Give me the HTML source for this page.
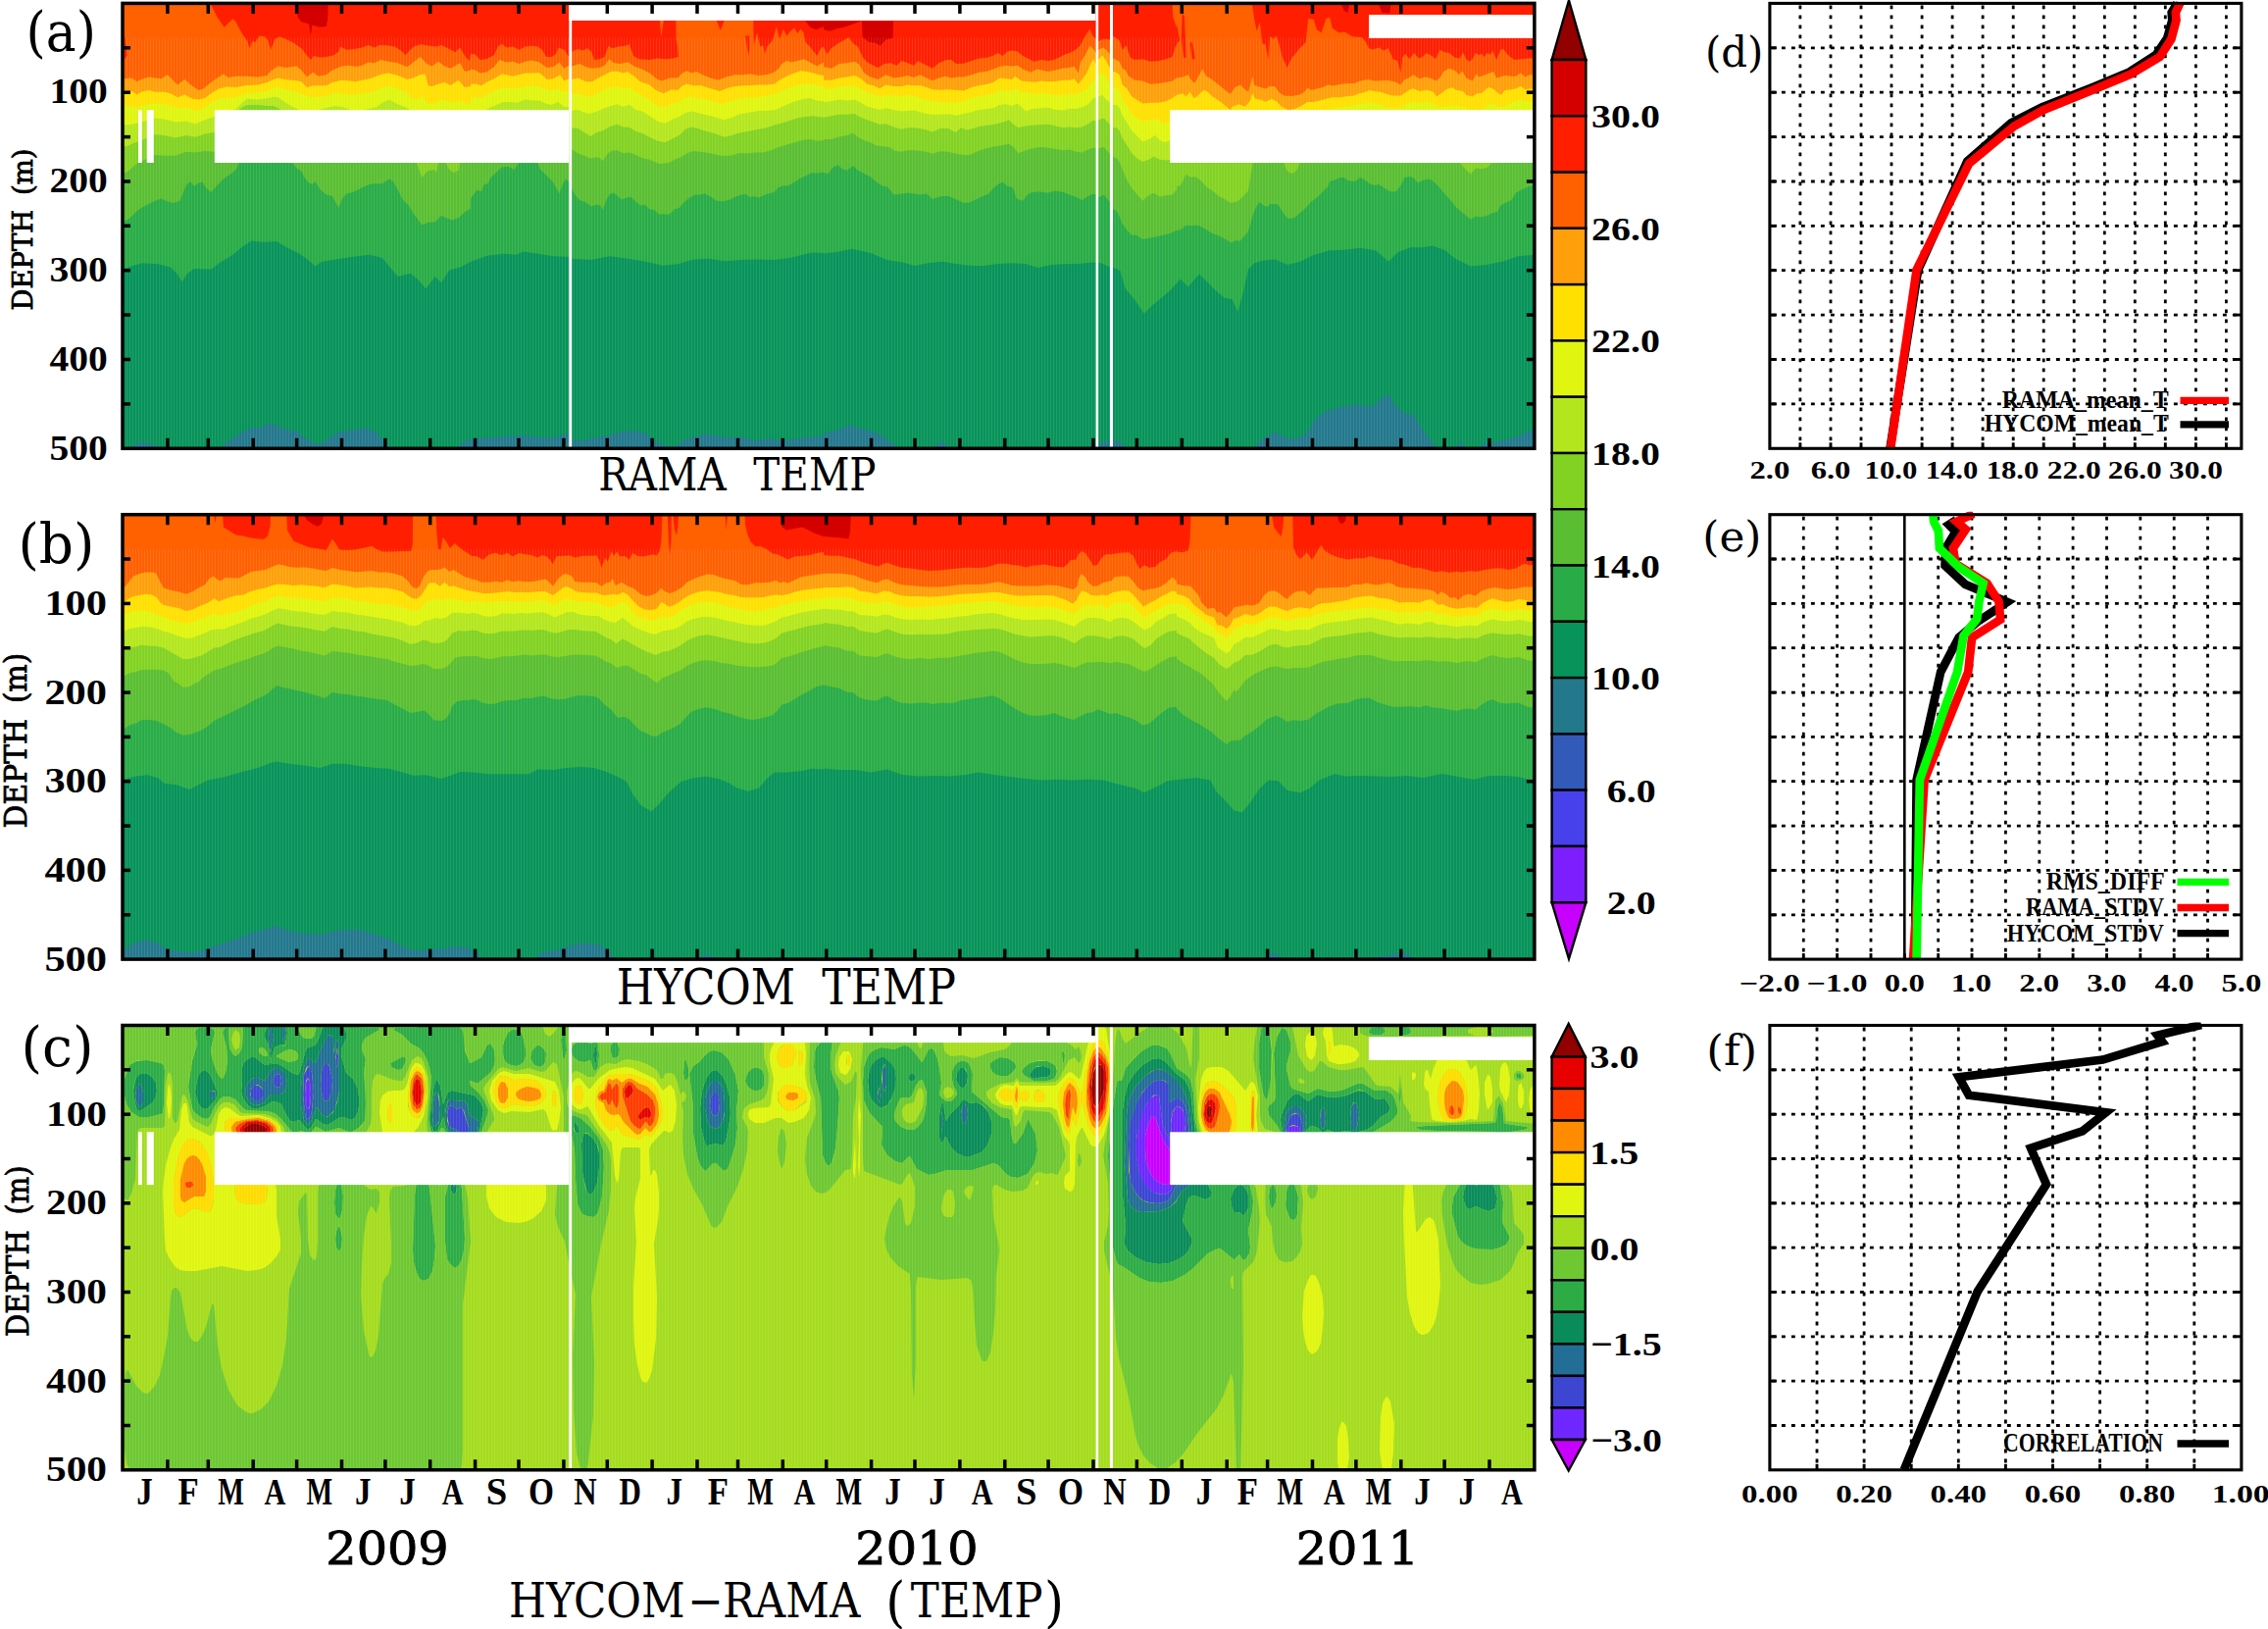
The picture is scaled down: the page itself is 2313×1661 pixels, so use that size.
<!DOCTYPE html>
<html><head><meta charset="utf-8"><title>HYCOM vs RAMA temperature</title>
<style>html,body{margin:0;padding:0;background:#fff;width:2313px;height:1661px}svg{display:block}text{fill:#000}.b{font-family:"Liberation Serif","DejaVu Serif",serif;font-weight:bold}.r{font-family:"DejaVu Serif","Liberation Serif",serif;font-weight:normal}</style></head><body>
<svg width="2313" height="1661" viewBox="0 0 2313 1661">
<rect width="100%" height="100%" fill="#fff"/>
<defs><pattern id="stp" patternUnits="userSpaceOnUse" x="125" y="0" width="3" height="50"><rect x="1" y="0" width="1" height="50" fill="#fff" fill-opacity="0.1"/></pattern></defs>
<g id="panel0">
<clipPath id="cp0"><rect x="125" y="3.4" width="1439.9" height="453.9"/></clipPath>
<g clip-path="url(#cp0)">
<rect x="125" y="3.4" width="1439.9" height="453.9" fill="#ff1e00"/>
<path d="M120 462.3L120 4.8L127.1 4.8L215.2 4.8L221.6 17.5L228.7 27.8L237.5 19L240.6 22.2L245.4 31.7L251.7 41.3L254.9 49.2L257.3 42.1L260.5 42.9L264.4 36.5L270 37.3L273.2 41.3L276.3 50.8L280.3 39.7L285.1 37.3L291.4 39.7L299.4 43.7L307.3 49.2L312.1 55.6L316.8 61.1L320 57.1L326.3 58.4L332.7 57.9L340.6 56.3L345.4 52.4L347 47.6L353.3 50.8L361.3 50L369.2 48.4L375.6 46L381.9 48.4L386.7 46L394.6 46.3L402.5 47.6L408.9 51.6L413.7 56.3L418.4 50.8L423.2 46.8L429.5 45.2L437.5 46.8L445.4 47.6L450.2 46L458.1 50L464.4 53.2L469.2 48.4L474 57.1L478.7 61.9L480 54.8L484.8 55.6L489.5 61.1L495.9 60.3L503.8 56.3L507.8 47.6L511.7 44.4L516.5 48.4L522.9 47.6L529.2 50.8L535.6 47.6L541.9 46.8L548.3 47.6L553 50.8L557 57.9L562.5 57.9L566.5 55.6L569.7 48.4L575.2 50.8L580.3 57.9L583.2 52.4L589.5 50L594.3 51.6L599 49.2L603 52.4L606.2 61.1L611.7 60.3L616.5 57.9L620.5 46.8L624.4 49.2L630.8 47.6L637.1 46.8L641.9 45.2L645.9 57.1L651.4 60.3L662.5 61.1L670.5 59.5L680 60.3L686.3 59.5L691.9 57.9L691.1 47.6L689.5 39.7L689.2 4.8L768.1 4.8L768.6 46L772.1 33.3L775.2 47.6L778.4 46L780 55.6L782.4 47.6L787.9 41.3L791.9 27L795.1 39.7L799 29.4L802.2 36.5L807 31L810.2 28.6L813.3 34.1L816.5 29.4L819.7 33.3L821.3 42.9L826 47.6L833.2 57.1L837.1 49.2L840 47.6L840 47.6L843.2 55.6L847.9 49.2L854.3 44.4L860.6 41.3L865.4 38.1L870.2 44.4L874.9 47.6L879.7 57.9L884.4 63.5L889.2 65.9L895.6 69L901.9 65.1L908.3 64.3L914.6 66.7L919.4 61.9L925.7 64.3L932.1 66.7L936 61.9L941.6 65.1L951.1 69.8L957.5 64.3L965.4 61.1L970.2 61.1L974.9 65.1L982.9 64.8L990.8 61.9L998.7 59.5L1006.7 58.7L1013 56.8L1017.8 54L1022.5 57.1L1027.3 52.4L1032.1 51.6L1037.6 52.4L1043.2 57.1L1051.1 61.1L1054.3 62.7L1062.2 61.1L1068.6 61.9L1074.9 61.1L1081.3 57.9L1086 55.6L1090.8 54L1097.1 50.8L1101.9 46L1106.7 36.5L1111.4 29.4L1114.6 36.5L1117.5 39.7L1120.2 42.1L1125.7 39.7L1132.1 40.5L1134.9 36.5L1138.4 38.9L1141.6 41.3L1144.8 50.8L1148.7 46L1152.7 58.7L1157.5 61.1L1165.4 60.3L1173.3 62.7L1181.3 61.9L1189.2 60.3L1195.6 57.9L1198.7 47.6L1200 46L1200 4.8L1277 4.8L1279.4 20.6L1281.7 31.7L1284.9 22.2L1287.3 44.4L1290.5 45.2L1293.7 61.1L1295.2 36.5L1298.4 39.7L1301.6 36.5L1304.8 46L1307.9 58.7L1312.7 69L1317.5 58.7L1320.6 55.6L1325.4 49.2L1331.7 42.9L1334.1 19L1339.7 19.8L1342.9 30.2L1347.6 33.3L1352.4 19L1356.3 17.5L1358.7 28.6L1365.1 33.3L1371.4 32.5L1379.4 37.3L1388.9 38.1L1392.9 42.9L1396 49.2L1400 50.5L1406.3 48.4L1411.1 51.6L1415.9 49.2L1420.6 60.3L1425.4 61.9L1428.6 74.6L1430.2 58.7L1433.3 54.8L1437.3 60.3L1442.1 54L1446.8 59.5L1450.8 57.9L1454.8 54L1460.3 57.1L1464.3 60.3L1468.3 50.8L1473 53.2L1477.8 54L1484.1 58.7L1488.9 59.5L1492.1 53.2L1495.2 60.3L1498.4 62.7L1501.6 60.3L1504.8 54L1508.7 56.3L1511.1 54.8L1513.5 57.9L1516.7 54L1519.8 55.6L1522.2 51.6L1526.2 61.1L1530.2 50.8L1533.3 50L1538.1 56.3L1544.4 61.1L1550.8 60.3L1560 59.5L1565.1 59.5L1569.9 59.5L1569.9 462.3Z" fill="#ff6000"/>
<path d="M120 462.3L120 80.2L127.1 80.2L134.3 79.4L139.8 83.3L143.8 81L151.7 78.6L158.1 79.4L164.4 80.2L170.8 76.2L175.6 81L181.1 86.5L188.3 81L194.6 86.5L202.5 92.1L207.3 90.5L215.2 84.1L221.6 79.4L227.9 75.4L232.7 78.9L240.6 77.8L251.7 77.8L262.9 78.6L272.4 77L276.3 72.2L283.5 67.5L291.4 69L302.5 67.5L307.3 71.4L312.9 78.6L319.2 73.8L324.8 77.8L332.7 76.2L339 71.4L348.6 67.5L356.5 66.7L362.9 67.9L369.2 66.7L375.6 63.5L381.9 64.3L388.3 61.1L396.2 62.7L405.7 64.3L415.2 68.3L421.6 63.5L428.7 57.9L435.1 65.1L440.6 67.5L447 62.7L453.3 67.5L459.7 69.8L469.2 64.3L474 73L480 71.4L480 70.6L484.8 71.4L489.5 74.6L495.9 73.8L503.8 68.3L509.4 61.1L516.5 63.5L522.9 62.7L529.2 65.1L535.6 62.7L541.9 61.6L549.8 63.2L554.6 66.7L557.8 69L564.1 68.3L570.5 63.5L575.2 69.8L580.3 66.7L583.2 67.5L591.1 65.1L597.5 68.3L603.8 69.8L611.7 69L616.5 66.7L621.3 60.3L626 64.3L632.4 65.1L640.3 63.2L646.7 67.5L654.6 70.6L662.5 74.6L670.5 81L675.2 82.5L683.2 79.4L691.1 79.4L695.9 74.6L700.6 72.2L705.4 74.6L710.2 73L716.5 76.2L724.4 79.4L732.4 81.7L740.3 78.6L749.8 76.2L757.8 76.2L765.7 75.4L773.7 77L781.6 76.2L789.5 73.8L794.3 69.8L797.5 65.1L802.2 61.9L807 63.5L813.3 61.9L819.7 60.3L826 63.5L833.2 67.5L840 63.5L840 68.3L847.9 69.8L855.9 65.1L863.8 64.3L871.7 62.7L876.5 65.9L881.3 74.6L887.6 78.6L895.6 81L903.5 76.2L911.4 79.4L919.4 78.6L925.7 77L932.1 79L938.4 76.2L944.8 79.4L951.1 82.2L957.5 79.4L963.8 77.8L970.2 79.4L976.5 78.6L982.9 78.6L990.8 76.2L998.7 73.8L1006.7 72.7L1013 70.6L1019.4 67.9L1025.7 66.7L1032.1 67.5L1037.6 66.7L1043.2 70.6L1051.1 73.8L1057.5 70.6L1062.2 71.4L1068.6 73L1076.5 71.4L1084.4 69.5L1090.8 69L1095.6 67.5L1099.5 74.6L1101.9 63.5L1106.7 56.3L1111.4 46.8L1114.6 49.2L1117.5 54L1120.2 50.8L1124.9 48.4L1128.9 51.6L1132.1 55.6L1134.9 59.5L1138.4 61.1L1141.6 62.7L1144.8 69.8L1147.9 71.4L1151.1 77.8L1157.5 81.7L1165.4 82.5L1173.3 85.7L1181.3 84.9L1189.2 84.1L1195.6 82.5L1200 79.4L1200 79.4L1206.3 78.6L1211.9 76.2L1214.3 81L1218.3 84.9L1221.4 79.4L1226.2 70.6L1230.2 77.8L1234.9 80.2L1239.7 84.1L1246 88.9L1250.8 92.9L1254.8 96L1259.5 88.9L1265.1 86.5L1269.8 91.3L1273 93.7L1277.5 77.8L1279.4 87L1285.7 88.9L1290.5 90.5L1295.2 88.1L1300 88.1L1304.8 94.4L1309.5 97.6L1317.5 98.1L1325.4 96.5L1330.2 93.7L1333.3 89.7L1338.1 92.1L1342.9 90.5L1349.2 88.9L1354 86.5L1360.3 87.3L1368.3 85.7L1374.6 84.9L1381 84.9L1387.3 82.5L1395.2 81L1401.6 82.5L1407.9 82.2L1414.3 81.7L1422.2 83.3L1428.6 86.5L1431.7 81.7L1436.5 79.4L1441.3 76.2L1447.6 80.2L1454 78.6L1460.3 80.2L1464.3 82.5L1468.3 79.4L1472.2 73L1477.8 69.8L1484.1 72.2L1488.1 76.2L1491.3 72.2L1495.2 79.4L1501.6 82.5L1505.6 75.4L1508.7 78.6L1512.7 77L1519 74.6L1523 73L1526.2 79.4L1531.7 77.8L1534.9 77L1541.3 77.8L1546 77.8L1550.8 74.6L1555.6 78.6L1560 76.2L1565.1 76.2L1569.9 76.2L1569.9 462.3Z" fill="#ffa00a"/>
<path d="M120 462.3L120 92.1L127.1 92.1L134.3 92.9L139.8 96.5L143.8 93.7L151.7 92.1L158.1 93.7L167.6 93.7L174 95.2L181.1 99.2L188.3 96.5L196.2 100.8L202.5 101.6L208.9 100L215.2 95.2L223.2 90.5L231.1 88.6L240.6 88.9L251.7 87L262.9 86.5L272.4 84.1L278.7 81L283.5 79.4L291.4 81.3L302.5 82.2L307.3 83.3L312.9 88.9L320 87.3L332.7 87.3L339 84.1L348.6 81.7L356.5 82.5L362.9 83.3L369.2 81.7L377.1 80.2L383.5 77.8L389.8 75.4L396.2 74.6L405.7 77L415.2 81L421.6 79.4L427.9 76.2L433.5 75.4L436.7 87.3L440.6 88.1L447 85.7L453.3 84.1L459.7 87L467.6 81.7L474 88.9L480 88.1L480 85.7L484.8 85.4L491.1 87.3L495.9 84.1L503.8 80.2L511.7 75.4L516.5 76.2L522.9 77.8L529.2 76.2L535.6 74.6L543.5 74.6L549.8 74.3L554.6 77.8L557.8 81L564.1 80.2L571.3 76.2L575.2 82.5L580.3 80.2L583.2 81L589.5 79.4L597.5 83.3L603.8 83.3L610.2 79.4L616.5 76.2L622.9 73L629.2 72.7L635.6 74.6L640.3 73.3L646.7 77.8L653 83.3L662.5 86.5L668.9 92.1L676.8 95.2L684.8 91.3L691.1 92.1L695.9 87.3L700.6 85.4L707 87.3L714.9 87L722.9 89.7L734 92.9L741.9 89.7L749.8 88.1L757.8 87.3L765.7 87L773.7 86.5L781.6 86.5L789.5 85.7L795.9 81L803.8 77L810.2 74.6L816.5 72.2L822.9 73L829.2 74.6L835.6 76.2L840 77L840 81.7L847.9 81.7L855.9 79.4L863.8 78.6L871.7 77L878.1 80.2L884.4 85.7L890.8 87.3L897.1 90.2L903.5 86.5L911.4 88.1L919.4 88.1L925.7 86.5L932.1 87.3L938.4 87L944.8 88.9L951.1 91.3L959 91.7L967 91.3L976.5 92.1L982.9 92.4L990.8 88.9L998.7 87L1006.7 85.7L1013 84.1L1019.4 79.4L1025.7 80.2L1032.1 81L1035.2 77.8L1041.6 82.5L1049.5 83.3L1055.9 83.8L1062.2 82.5L1068.6 83.3L1076.5 82.9L1084.4 81.7L1090.8 81.7L1095.6 80.2L1099.5 85.7L1103.5 81L1108.3 74.6L1113 63.5L1115.4 60.3L1117.5 65.1L1120.2 61.1L1124.1 56.3L1128.1 61.9L1132.1 69.8L1134.9 73L1138.4 73.8L1141.6 76.2L1144.8 86.5L1149.5 90.5L1154.3 98.4L1159 101.6L1165.4 105.6L1173.3 104.8L1181.3 104.8L1189.2 103.2L1195.6 100L1200 96.8L1200 96.8L1206.3 95.2L1209.5 98.4L1213.5 93.7L1217.5 100L1220.6 98.4L1223.8 95.2L1227.8 91.7L1231.7 93.7L1236.5 98.4L1241.3 101.6L1246 104.8L1250.8 108.7L1254.8 111.9L1257.1 108.7L1263.5 106.3L1269.8 108.7L1274.6 103.2L1277.5 95.2L1280.2 100.8L1285.7 101.6L1290.5 104L1296.8 100.8L1301.6 103.2L1306.3 107.9L1311.1 111.1L1314.3 111.9L1320.6 111.1L1327 107.9L1333.3 104L1339.7 104L1346 102.4L1352.4 100.8L1358.7 99.2L1366.7 99.2L1374.6 98.1L1381 97.6L1385.7 95.2L1390.5 94.4L1396.8 92.1L1401.6 92.9L1407.9 93.7L1414.3 96L1420.6 97.6L1428.6 97.6L1433.3 94.4L1438.1 91.3L1441.3 90.2L1447.6 92.9L1455.6 91.7L1461.9 93.7L1465.1 98.4L1469.8 95.2L1476.2 90.5L1481 89.2L1485.7 92.1L1492.1 92.9L1495.2 96.8L1501.6 98.4L1506.3 95.2L1511.1 94.9L1515.9 90.5L1519 88.9L1523.8 91.3L1527 94.4L1531 96.8L1534.9 92.1L1541.3 91.3L1546 90.2L1550.8 88.1L1555.6 91.3L1560 90.5L1565.1 90.5L1569.9 90.5L1569.9 462.3Z" fill="#ffe000"/>
<path d="M120 462.3L120 106.7L127.1 106.7L134.3 108.7L139.8 109.5L145.4 107.1L151.7 106L161.3 105.6L167.6 106.3L174 107.9L183.5 110.3L191.4 109.5L201 113.5L208.9 109.5L215.2 104.8L223.2 100.8L231.1 100L240.6 99.2L251.7 95.2L262.9 94.4L272.4 92.9L278.7 89.7L283.5 88.9L291.4 91.3L302.5 93.7L310.5 96.8L316.8 99.2L326.3 98.4L332.7 98.1L339 95.2L345.4 94.4L354.9 96.8L362.9 96.5L370.8 95.2L380.3 93.7L389.8 88.9L397 87.3L405.7 90.5L415.2 94.4L420 100L424.8 101.6L431.1 98.4L435.9 105.6L443.8 105.6L450.2 101.6L456.5 103.2L462.9 104.8L469.2 102.4L475.6 106.3L480 105.6L480 99.7L484.8 99.2L491.1 100L495.9 96.8L503.8 92.9L511.7 89.7L519.7 89.7L527.6 90.5L535.6 88.1L543.5 87.3L549.8 88.1L556.2 91.3L562.5 92.1L568.9 90.2L575.2 93.7L580.3 92.9L583.2 96L591.1 95.2L597.5 98.4L603.8 98.1L610.2 94.4L616.5 91.3L622.9 88.9L629.2 88.1L635.6 90.5L641.9 89.2L648.3 93.7L654.6 97.6L662.5 101.6L670.5 107.9L676.8 109.5L684.8 105.6L691.1 104.8L697.5 100L703.8 98.4L710.2 100L718.1 100.8L726 103.2L737.1 106L746.7 102.4L756.2 100L765.7 99.2L773.7 99.2L781.6 97.6L789.5 96L797.5 92.1L805.4 88.9L813.3 86.5L819.7 85.4L826 85.7L832.4 87L840 88.1L840 90.5L847.9 90.5L855.9 88.1L863.8 88.1L871.7 87.3L878.1 90.5L884.4 94.4L890.8 96L897.1 99.2L903.5 96.8L911.4 97.6L919.4 98.4L925.7 96.8L932.1 97.6L938.4 100L944.8 101.6L951.1 102.9L959 104L967 104L976.5 104.8L982.9 102.9L990.8 100L998.7 97.6L1006.7 96.8L1013 95.2L1019.4 92.1L1025.7 92.9L1032.1 92.1L1036.8 90.5L1041.6 94.4L1049.5 94.4L1055.9 96L1062.2 95.2L1068.6 95.2L1076.5 97.1L1084.4 96.8L1090.8 95.2L1097.1 96L1103.5 93.7L1109.8 89.7L1114.6 82.5L1117.5 81L1120.2 76.2L1124.1 73.8L1128.1 79.4L1132.1 85.7L1134.9 88.9L1138.4 88.9L1141.6 92.1L1144.8 101.6L1149.5 107.9L1154.3 115.9L1159 119.8L1165.4 123.8L1173.3 122.2L1181.3 121.4L1186 126.2L1193.2 123.8L1200 122.2L1200 122.2L1247.6 120.6L1311.1 117.5L1352.4 111.9L1366.7 109.5L1379.4 107.9L1387.3 106.3L1395.2 104.8L1401.6 105.6L1407.9 107.1L1415.9 109.5L1425.4 110.3L1430.2 109.5L1434.9 105.6L1441.3 104L1447.6 105.6L1455.6 104L1461.9 105.6L1466.7 109.5L1473 108.7L1479.4 107.9L1485.7 107.9L1493.7 109.5L1498.4 111.9L1511.1 111.9L1517.5 107.1L1522.2 104.8L1527 108.7L1531.7 109.5L1538.1 106.3L1544.4 104L1550.8 101.6L1555.6 104L1560 103.2L1565.1 103.2L1569.9 103.2L1569.9 462.3Z" fill="#e0f50f"/>
<path d="M120 462.3L120 127L127.1 127L131.1 127.5L135.9 126.2L140.6 125.4L158.1 120.6L167.6 121.4L178.7 124.6L189.8 123.8L199.4 126.2L208.9 122.2L218.4 119L231.1 114.3L240.6 111.1L247 104.8L251.7 100.8L262.9 101.6L272.4 100.3L278.7 98.7L283.5 99.2L291.4 104.8L299.4 109.5L305.7 111.9L320 113.5L334.3 109.5L342.2 107.9L350.2 109.5L358.1 111.9L370.8 111.9L383.5 109.5L389.8 104.8L397 101.6L404.1 105.6L415.2 110.3L418.4 111.9L437.5 114.3L480 112.7L480 113L495.1 111.9L503.8 107.9L513.3 104L521.3 104L527.6 104.8L535.6 101.6L543.5 102.4L549.8 102.4L556.2 105.6L562.5 107.1L568.9 104L575.2 108.7L580.3 109.5L583.2 112.7L589.5 111.9L594.3 114.3L600.6 115.9L607 114.3L614.9 111.1L622.9 107.9L629.2 106.3L635.6 108.7L641.9 106.7L648.3 111.9L654.6 113.5L662.5 118.3L670.5 123.8L678.4 125.7L686.3 121.4L692.7 119L699 115.1L705.4 113.5L711.7 115.1L718.1 116.7L727.6 119L738.7 122.2L746.7 119.8L753 116.7L762.5 115.1L773.7 113L781.6 113L791.1 111.9L797.5 108.7L805.4 105.6L813.3 102.4L821.3 100.8L826 100L832.4 102.4L840 103.2L840 104L847.9 103.2L855.9 101.6L863.8 102.4L871.7 101.6L878.1 104.8L884.4 108.7L890.8 110.3L897.1 111.9L903.5 110.3L911.4 111.9L919.4 113.5L925.7 113L932.1 112.4L938.4 114.3L944.8 115.9L951.1 117.1L959 116.7L967 116.3L974.9 117.8L982.9 115.9L990.8 114.3L998.7 111.9L1006.7 111.1L1013 110.3L1019.4 107.1L1025.7 106.3L1032.1 107.9L1037.6 105.6L1046.3 113.5L1052.7 111.1L1062.2 110.3L1068.6 109.5L1076.5 111.9L1084.4 112.4L1090.8 110.8L1097.1 111.1L1103.5 109.5L1109.8 106.3L1114.6 100.8L1117.5 99.2L1120.2 98.4L1124.1 96.8L1128.1 101.6L1132.1 104.8L1134.9 107.1L1138.4 107.1L1141.6 109.5L1144.8 118.3L1149.5 125.4L1154.3 133.3L1159 138.1L1165.4 144.4L1173.3 141.3L1178.1 137.8L1182.9 142.9L1187.6 145.2L1193.2 142.9L1200 141.3L1200 141.3L1565.1 127L1569.9 127L1569.9 462.3Z" fill="#b4e61e"/>
<path d="M120 462.3L120 149.2L127.1 149.2L131.1 148.4L135.9 146L140.6 144.4L158.1 137.3L167.6 138.1L178.7 140.5L189.8 138.1L199.4 139.7L208.9 136.5L218.4 134.9L231.1 123.8L240.6 114.3L247 109.5L251.7 107.1L262.9 107.1L272.4 107.9L278.7 107.9L285.1 111.1L294.6 120.6L358.1 127L480 127L480 127L580.3 127L583.2 130.2L589.5 131L595.9 134.9L602.2 138.9L608.6 134.9L614.9 133.3L621.3 129.4L629.2 126.7L635.6 129.4L641.9 129.8L648.3 134.1L654.6 135.7L662.5 139.7L670.5 143.7L678.4 145.2L686.3 141.3L692.7 138.1L699 131.7L705.4 129.4L711.7 131L718.1 133.3L727.6 135.7L738.7 139.7L746.7 138.1L753 135.7L762.5 134.1L773.7 131.7L781.6 130.2L791.1 127L797.5 125.4L805.4 123L813.3 120.6L821.3 119L829.2 118.3L840 119.8L840 119.8L847.9 118.3L855.9 116.7L863.8 116.7L871.7 115.9L878.1 119.8L884.4 122.2L890.8 124.6L897.1 126.7L903.5 126.2L911.4 129.4L919.4 131.7L925.7 130.2L932.1 130.2L938.4 131L944.8 132.5L951.1 134.6L959 131L967 131L974.9 134.9L979.7 130.2L986 132.5L992.4 131L998.7 128.9L1006.7 127.8L1013 127L1019.4 125.4L1025.7 123.8L1028.9 122.2L1033.7 127L1038.4 130.2L1046.3 128.6L1052.7 127.8L1062.2 127L1068.6 126.7L1076.5 128.6L1084.4 130.2L1090.8 129.4L1097.1 130.2L1103.5 129.4L1109.8 126.2L1114.6 123L1117.5 123L1120.2 122.2L1125.7 120.6L1132.1 127L1134.9 130.2L1138.4 130.2L1141.6 133.3L1144.8 141.3L1149.5 148.4L1154.3 156.3L1159 161.1L1165.4 165.1L1173.3 161.9L1176.5 159.5L1182.9 162.7L1189.2 163.5L1193.2 162.7L1200 161.9L1200 161.9L1276.2 158.7L1565.1 146L1569.9 146L1569.9 462.3Z" fill="#82d223"/>
<path d="M120 462.3L120 176.2L127.1 176.2L131.1 174.6L135.9 169.8L140.6 165.9L158.1 157.9L167.6 158.7L178.7 158.7L189.8 154.8L199.4 155.6L208.9 154L218.4 154.8L247 152.4L310.5 152.4L374 152.4L421.6 158.7L424.8 166.3L430.3 181L435.9 174.6L442.2 173L445.4 175.4L447 166.3L454.9 166.3L458.1 173L462.9 176.2L467.6 173.8L469.2 166.3L480 160.3L480 160.3L580.3 158.7L583.2 152.4L589.5 156.3L595.9 158.7L602.2 161.6L608.6 160.3L611.7 161.1L614.9 164.3L619.7 156.3L624.4 153.7L629.2 153.2L635.6 156.3L641.9 155.6L648.3 157.9L654.6 161.1L662.5 162.7L672.1 167L681.6 166.3L687.9 162.7L694.3 160.3L700.6 156.3L707 154L713.3 154.8L719.7 155.6L727.6 157.1L737.1 159L746.7 158.4L753 156.3L762.5 156.3L770.5 155.6L778.4 155.6L786.3 153.2L794.3 150L802.2 147.6L810.2 145.2L818.1 142.9L826 142.1L834 143.7L840 142.9L840 142.1L847.9 142.1L855.9 139.4L863.8 138.1L870.2 135.7L874.9 139.7L881.3 142.9L887.6 145.2L894 148.4L900.3 149.2L906.7 150L913 154L919.4 154.8L925.7 153.2L932.1 153.2L938.4 154L944.8 154.8L951.1 156.8L959 154.3L967 154.8L974.9 156.8L982.9 157.9L989.2 157.9L995.6 154.8L1001.9 152.4L1008.3 150.8L1014.6 149.2L1021 148.4L1028.9 146.8L1033.7 150L1038.4 156.3L1046.3 153.2L1052.7 151.6L1060.6 150L1068.6 150.8L1076.5 152.1L1084.4 153.2L1090.8 152.4L1097.1 154.8L1103.5 155.6L1109.8 152.4L1114.6 150.8L1117.5 150.8L1120.2 151.6L1125.7 150L1132.1 157.1L1134.9 160.3L1138.4 161.1L1141.6 165.1L1144.8 173L1149.5 184.1L1154.3 192.1L1159 197.6L1165.4 204.8L1170.2 200L1176.5 196.8L1182.9 200.8L1189.2 199.2L1195.6 198.4L1200 193.7L1200 190.5L1204 188.9L1209.5 177.8L1214.3 181L1219 180.2L1223.8 183.3L1230.2 190.5L1236.5 194.4L1242.9 200L1249.2 203.2L1254.8 207.1L1261.9 205.6L1266.7 201.6L1273 194.4L1275.4 179.4L1277.8 166.3L1309.5 166.3L1312.7 174.6L1318.3 177L1323 173L1325.4 166.3L1488.9 166.3L1493.7 171.4L1500 177.8L1504.8 171.4L1511.1 172.2L1517.5 170.6L1520.6 166.3L1565.1 165.1L1569.9 165.1L1569.9 462.3Z" fill="#5abe32"/>
<path d="M120 462.3L120 225.4L127.1 225.4L132.7 222.2L140.6 214.3L148.6 209.5L158.1 204.8L164.4 202.4L170.8 205.6L177.1 207.1L183.5 204.8L189.8 188.9L193.8 184.9L197.8 189.7L202.5 186.5L206.5 185.7L210.5 192.1L215.2 196L221.6 188.9L227.9 182.5L235.9 177L240.6 173L243.8 166.3L298.6 166.3L302.5 171.4L307.3 174.6L310.5 181L314.4 185.7L318.4 188.1L321.6 184.9L326.3 192.9L332.7 198.4L339 200L342.2 206.3L345.4 211.9L348.6 203.2L353.3 197.6L359.7 196L366 192.9L374 188.9L380.3 187.3L389.8 187.3L397 182.5L401 184.9L405.7 193.7L410.5 203.2L416.8 209.5L421.6 217.5L426.3 223.8L430.3 229.4L435.9 227L443.8 226.2L450.2 219.8L454.9 222.2L461.3 224.6L467.6 222.2L474 215.9L480 212.7L480 202.4L486.3 193.7L491.1 195.2L493.5 188.1L497.5 187.3L500.6 181L505.4 176.2L511.7 170.6L518.1 169.8L524.4 173L527.6 168.3L529.2 166.3L548.3 166.3L550.6 172.2L554.6 176.2L559.4 181L564.1 185.7L568.1 192.9L570.5 197.6L573.7 188.1L576.8 182.5L580.3 185.7L583.2 192.1L586.3 198.4L591.1 204L597.5 206.3L603 210.3L608.6 208.7L612.5 209.5L614.9 214L618.1 204.8L621.3 198.4L625.2 196.5L629.2 199.2L634 203.5L638.7 201.6L643.5 200.8L648.3 205.6L653 209.5L657.8 208.7L662.5 213.5L667.3 214L672.1 218.7L676.8 218.3L682.4 218.7L687.9 213.5L692.7 211.9L697.5 206.3L702.2 202.4L708.6 198.4L713.3 198.7L718.1 197.3L724.4 200.3L730.8 204.8L737.1 205.2L743.5 204L749.8 200.8L756.2 198.4L761 198.1L764.1 200.8L770.5 200.3L773.7 201.6L781.6 198.1L789.5 196L793.5 191.3L797.5 189.7L803.8 189.2L810.2 185.7L814.9 182.5L821.3 179.4L827.6 176.2L834 176.5L840 175.4L840 176.2L844.8 177L849.5 170.6L854.3 168.3L859 172.2L863.8 173.8L870.2 169L874.9 173.8L881.3 177L887.6 180.2L894 185.7L900.3 189.7L905.1 190.5L911.4 198.4L919.4 197.6L925.7 196.8L932.1 197.6L938.4 198.4L944.8 197.6L951.1 202.9L959 200.3L967 199.7L974.9 203.2L982.9 207.1L989.2 206.3L995.6 203.2L1001.9 200.3L1008.3 197.6L1013 192.1L1017.8 188.1L1022.5 185.7L1027.3 189.7L1032.9 191.3L1036.8 202.4L1043.2 204.8L1047.9 198.4L1052.7 196L1060.6 195.6L1068.6 196.8L1076.5 194.4L1084.4 196L1090.8 198.4L1097.1 200.8L1103.5 204L1109.8 200L1114.6 198.1L1117.5 198.1L1120.2 201.6L1125.7 198.4L1132.1 206.3L1134.9 212.7L1138.4 215.1L1141.6 220.6L1144.8 228.6L1149.5 234.9L1154.3 240L1200 234.9L1204.8 234.1L1210.3 228.6L1214.3 230.2L1220.6 229.4L1225.4 231L1231.7 234.9L1239.7 238.1L1242.9 240L1255.6 247.6L1269.8 240L1273.8 233.3L1277.8 219L1281 211.1L1284.1 206.3L1288.9 209.5L1292.9 211.1L1295.2 207.9L1303.2 208.3L1307.9 215.9L1312.7 222.2L1317.5 223L1322.2 220.6L1327 215.9L1331.7 211.9L1336.5 206.3L1342.9 201.6L1349.2 195.2L1354 190.5L1356.3 184.9L1361.9 183.3L1366.7 181L1370.6 181L1374.6 184.1L1379.4 184.9L1384.1 184.1L1386.5 181L1390.5 182.5L1396.8 187.3L1401.6 188.9L1406.3 188.1L1411.1 191.3L1417.5 195.2L1423.8 195.2L1428.6 188.9L1432.5 181L1436.5 180.2L1441.3 181L1446 186.5L1450.8 184.1L1457.1 182.5L1461.9 184.9L1466.7 189.7L1471.4 195.2L1476.2 200.8L1481 206.3L1485.7 211.9L1490.5 215.9L1495.2 219.8L1500 223.8L1504.8 220.6L1509.5 221.4L1515.9 220.3L1520.6 217.5L1527 215.9L1530.2 209.5L1534.9 207.1L1541.3 204L1546 196.8L1552.4 192.9L1560 189.7L1565.1 188.9L1569.9 188.9L1569.9 462.3Z" fill="#29ac47"/>
<path d="M120 462.3L120 275.6L120 275.6L126.3 274L135.9 270.8L145.4 268.3L161.3 269.2L174 272.4L180.3 278.7L185.7 287.3L191.4 278.7L197.8 274L215.2 274.6L224.8 267.6L237.5 259.7L247 251.7L256.5 245.4L269.2 247L281.9 246L291.4 251.7L304.1 258.1L313.7 264.4L321.6 271.4L327.9 267L342.2 264.4L358.1 261.9L377.1 259.7L389.8 262.9L396.2 270.8L405.7 281.9L418.4 278.7L426.3 285.1L434.3 294.6L443.8 281.9L450.2 288.3L458.1 275.6L469.2 272.4L481.9 266L497.8 260.6L513.7 258.7L526.3 259.7L534.3 256.5L548.6 258.7L564.4 261.3L580.3 261.9L583.5 263.8L602.5 265.1L621.6 261.3L640.6 263.8L659.7 267L675.6 270.8L691.4 269.2L707.3 264.4L723.2 263.8L739 266.3L754.9 265.1L774 264.4L789.8 265.1L805.7 262.9L818.4 259.7L827.9 257.5L840 258.1L840 258.6L852.9 257L869 253.8L888.3 258L904.4 265.1L920.5 267.6L933.3 270.9L946.2 268.3L960.7 266.7L975.2 268.9L991.3 270.9L1004.1 270.9L1017 268.9L1033.1 268.3L1046 268.9L1058.9 273.1L1071.7 269.9L1084.6 269.2L1100.7 268.9L1113.6 267.6L1123.2 268.3L1129.7 271.5L1136.1 273.1L1142.5 276.3L1147.4 294L1157 305.3L1166.7 319.8L1174.7 311.7L1184.4 303.7L1194 295.6L1203.7 284.4L1211.7 292.4L1223 279.5L1231.1 287.6L1239.1 295.6L1248.8 303.7L1256.8 305.3L1262.3 318.2L1268.1 297.2L1272.9 274.7L1279.3 268.3L1287.4 265.7L1300.3 264.4L1313.1 269.9L1326 266.7L1338.9 260.2L1355 255.4L1371.1 254.8L1387.2 252.8L1403.2 255.4L1416.1 266.7L1425.8 257L1438.6 252.2L1451.5 252.2L1461.2 250.6L1474.1 255.4L1483.7 263.5L1499.8 271.5L1515.9 269.9L1532 266.7L1548.1 261.2L1570 259.3L1569.9 259.3L1569.9 462.3Z" fill="#07935a"/>
<path d="M120 462.3L120 456.5L120 456.5L126.3 456.5L139 453.3L145.4 450.2L154.9 453.3L167.6 456.5L224.8 456.5L234.3 448.6L247 440.6L256.5 435.9L266 435.9L274.6 431.1L285.1 435.2L294.6 439L301 438.4L310.5 446L320 451.7L326.3 453.3L335.9 446L345.4 440.6L358.1 438.4L374 436.5L383.5 440.6L393 451.7L399.4 456.5L466 456.5L472.4 450.2L485.1 447L501 446L516.8 444.8L532.7 443.8L548.6 445.4L564.4 446L577.1 442.2L580.3 443.8L583.5 448.6L596.2 449.2L608.9 445.4L621.6 443.8L634.3 439.7L647 439L659.7 442.2L669.2 450.2L678.7 454.3L688.3 454.9L697.8 448.6L707.3 445.4L720 442.2L732.7 444.8L745.4 446L758.1 445.4L770.8 449.2L783.5 447L796.2 449.2L808.9 447.9L821.6 446L840 444.8L840 442.1L852.9 438.9L865.7 433.1L878.6 437.3L888.3 438.9L901.2 445.3L914 455L920.5 458.2L949.4 458.2L960.7 449.2L968.7 458.2L1107.1 458.2L1113.6 453.3L1123.2 451.7L1129.7 449.2L1137.7 447.9L1145.8 453.3L1149 458.2L1277.7 458.2L1282.5 452.4L1290.6 445.3L1300.3 440.5L1313.1 446.9L1322.8 446.9L1332.4 442.1L1342.1 426L1351.7 419.5L1367.8 414.7L1383.9 412.5L1400 414.7L1408.1 406.7L1416.1 401.8L1422.6 413.1L1432.2 421.2L1441.9 422.8L1451.5 438.9L1461.2 451.7L1467.6 458.2L1483.7 458.2L1488.5 450.1L1496.6 458.2L1506.2 458.2L1512.7 451.7L1522.3 452.4L1532 449.2L1548.1 444.7L1561 438.9L1570 432.4L1569.9 432.4L1569.9 462.3Z" fill="#23788c"/>
<path d="M302.5 4.8L303.8 17.5L307.3 22.2L315.2 24.6L316.8 36.5L318.4 25.4L326.3 27.8L332.7 27L334.3 19L334.6 4.8Z" fill="#d40000"/>
<path d="M126.3 31.7L128.7 47.6L129.8 56.3L127.1 60.3L126.3 60.3Z" fill="#ff1e00"/>
<path d="M821.3 21L826 27.8L832.4 30.2L840 27L840 21Z" fill="#d40000"/>
<path d="M730.8 21L734.8 31L738.7 21Z" fill="#ff1e00"/>
<path d="M760.2 36.5L761.7 47.6L763.3 57.1L764.4 47.6L764.1 36.5Z" fill="#ff1e00"/>
<path d="M672.9 21L674.4 38.1L676.8 21Z" fill="#ff6000"/>
<path d="M840 21L840 30.2L846.3 31.7L852.7 29.4L860.6 27.8L870.2 24.6L876.5 22.2L877.3 21Z" fill="#d40000"/>
<path d="M878.9 21L879.7 38.1L886 42.9L892.4 43.7L897.9 46.8L903.5 40.5L910.6 38.9L911 21Z" fill="#d40000"/>
<path d="M1195.6 4.8L1196.3 17.5L1200 28.6L1200 4.8Z" fill="#ff6000"/>
<path d="M1368.3 4.8L1376.2 4.8L1374.6 12.7L1370.6 11.1Z" fill="#d40000"/>
<path d="M1406.3 4.8L1418.3 4.8L1417.5 13.5L1409.5 12.7Z" fill="#d40000"/>
<path d="M1200 23.8L1203.2 41.3L1200 44.4Z" fill="#ff1e00"/>
<path d="M1205.6 14.3L1207.9 15.9L1209.8 58.7L1207.1 58.7L1204.8 39.7Z" fill="#ff1e00"/>
<path d="M1213.5 44.4L1215.9 42.1L1219 60.3L1215.9 60.3Z" fill="#ff1e00"/>
<path d="M1144.2 226.4L1149 232.9L1165.1 244.1L1181.2 240.9L1194 237.7L1210.1 229.7L1223 229.7L1235.9 237.7L1252 244.1L1264.8 245.7L1272.9 236.1L1274.5 226.4Z" fill="#5abe32"/>
<rect x="125" y="38.4" width="1439.9" height="418.9" fill="url(#stp)"/>
<rect x="141" y="112.2" width="3.8" height="53.8" fill="#fff"/>
<rect x="149.7" y="112.2" width="7.1" height="53.8" fill="#fff"/>
<rect x="218.8" y="112.2" width="361.5" height="53.8" fill="#fff"/>
<rect x="580.3" y="0" width="2.9" height="460" fill="#fff"/>
<rect x="580.3" y="0" width="537.3" height="21" fill="#fff"/>
<rect x="1117.6" y="0" width="2.6" height="460" fill="#fff"/>
<rect x="1132" y="0" width="3" height="460" fill="#fff"/>
<rect x="1193.2" y="112.2" width="376.8" height="53.8" fill="#fff"/>
<rect x="1396" y="15.1" width="174" height="23.8" fill="#fff"/>
</g>
</g>
<g id="panel1">
<clipPath id="cp1"><rect x="125" y="524.7" width="1439.9" height="453.4"/></clipPath>
<g clip-path="url(#cp1)">
<rect x="125" y="524.7" width="1439.9" height="453.4" fill="#ff1e00"/>
<path d="M120 983.1L120 523.2L127.1 523.2L227.1 523.2L227.9 537.5L234.3 541.4L240.6 545.4L247 546.2L254.9 548.3L262.9 549.4L269.2 549.8L273.2 546.2L275.6 535.9L276 523.2L292.2 523.2L293 540.6L299.4 551.7L307.3 554.9L315.2 558.1L324.8 559.4L332.7 561L335.9 554.9L339 549.4L342.2 554.1L346.2 560.5L353.3 561L361.3 560.5L369.2 558.9L379.5 556.8L383.5 559.7L389.8 562.5L399.4 562.5L410.5 562.1L419.2 562.1L420.8 554.9L421.1 523.2L444.6 523.2L445.4 543.8L447 559.7L449.4 560.5L451.7 547.8L454.9 551.7L458.9 558.9L463.7 554.1L467.6 557.3L472.4 561.3L480 566L480 566.8L486.3 567.3L492.7 570.8L499 565.2L505.4 563.7L511.7 566L517.3 563.7L522.9 567.6L529.2 564.1L535.6 565.2L541.9 566L548.3 568.4L553 566L557.8 567.6L561 570.8L563.8 575.2L567.3 567.3L575.2 566.8L581.6 566.5L586.3 568.4L594.3 566.8L602.2 566.8L608.6 566.5L611 570.8L613.3 578.7L617.3 568.4L619.7 572.4L623.7 562.1L626 566.8L629.2 562.5L632.4 567.6L637.1 566.8L641.9 570.8L645.1 563.7L649.8 566.8L656.2 567.6L662.5 566L667.3 565.2L669.7 566.8L672.9 561.3L674.4 551.7L675.6 523.2L759.4 523.2L760.2 535.9L762.5 545.4L765.7 552.5L770.5 557.3L775.2 556.8L781.6 559.7L787.9 564.4L792.7 565.2L797.5 567.6L803.8 570.5L810.2 567.6L818.1 566.8L826 566L834 563.7L840 562.9L840 566L847.9 566.8L855.9 566.8L863.8 568.4L871.7 570L879.7 573.2L887.6 575.6L895.6 577.5L901.1 574.8L905.1 573.7L911.4 576.3L919.4 578.7L928.9 579.5L938.4 581.1L947.9 581.9L957.5 581.6L967 580.6L976.5 579.5L986 578.7L995.6 579L1005.1 578.4L1011.4 577.1L1017.8 574.8L1025.7 574.8L1032.1 575.9L1040 576.8L1046.3 578.4L1052.7 576.8L1059 576.3L1065.4 575.6L1071.7 577.1L1078.1 577.9L1084.4 578.4L1089.2 574.8L1091.6 571.1L1097.1 570.8L1100.3 564.4L1103.5 562.1L1107.5 564.4L1111.4 570.8L1115.4 577.1L1119.4 575.6L1122.5 570L1127.3 565.2L1133.7 565.2L1141.6 563.7L1151.1 563.2L1155.9 566.8L1159 574L1162.2 580L1167 576.3L1171.7 578.7L1178.1 577.9L1182.9 573.2L1189.2 570L1194 563.7L1200 562.1L1200 562.5L1206.3 563.2L1211.9 561.3L1213.5 551.7L1214.6 523.2L1296.8 523.2L1299.2 537.5L1303.2 543L1306.7 547L1308.3 537.5L1309.5 523.2L1318.3 523.2L1319 558.1L1322.2 566L1326.2 570L1330.2 566L1332.5 562.9L1335.7 567.6L1338.1 570.8L1342.1 564.4L1345.2 558.9L1347.6 555.7L1350.8 561.3L1357.1 565.2L1365.1 568.4L1374.6 570.5L1382.5 569.2L1390.5 569.2L1397.6 567.3L1404.8 569.2L1412.7 570.5L1419 570.8L1425.4 574.3L1433.3 575.9L1441.3 579L1447.6 578.7L1455.6 581.1L1463.5 583.2L1469.8 582.2L1477.8 583.8L1485.7 582.7L1490.5 583.5L1498.4 582.2L1506.3 582.7L1514.3 581.1L1523.8 579.5L1531.7 579.5L1538.1 581.1L1546 579.5L1554 574.8L1560 576.3L1565.1 576.3L1569.9 576.3L1569.9 983.1Z" fill="#ff6000"/>
<path d="M120 983.1L120 598.6L127.1 598.6L131.1 593.8L135.9 587.5L142.2 585.1L148.6 583.5L154.9 583.5L158.9 584.3L162.9 592.2L166.8 599.4L174 601.7L181.9 603.3L189.8 605.7L196.2 603.3L202.5 599.4L208.9 596.2L213.7 589.8L217.6 587.5L222.4 591.4L225.6 592.2L229.5 589L237.5 589.5L243.8 589.5L250.2 585.9L256.5 582.7L262.9 581.9L270.8 581.1L277.1 577.9L283.5 575.6L288.3 575.9L294.6 577.9L302.5 578.7L310.5 578.4L318.4 579.5L326.3 581.1L332.7 581.9L339 579L347 581.1L354.9 581.9L362.9 583.2L370.8 582.7L378.7 581.9L386.7 583.5L394.6 583.5L402.5 585.1L410.5 587.5L415.2 591.4L420 597.8L424 600.2L427.9 597.8L431.9 588.3L435.9 582.7L439 581.1L445.4 581.1L450.2 580.3L453.3 578.4L458.1 582.7L462.9 581.1L467.6 584.3L474 588.3L480 589.8L480 590.6L484.8 591.1L491.1 593.8L499 593.8L505.4 592.7L511.7 593.8L517.3 591.4L522.9 593.3L529.2 592.2L535.6 593.3L543.5 593L549.8 591.7L556.2 590.6L560.2 593.8L564.1 597.8L568.9 590.6L573.7 585.9L577.6 585.1L583.2 587.5L586.3 593L594.3 593.8L602.2 593.8L608.6 594.3L613.3 597.8L618.1 594.6L622.1 593.8L624.8 589.8L627.6 597L634 593.8L640.3 597.8L646.7 600.2L653 605.7L659.4 608.1L665.7 606.5L670.5 604.1L674 599.7L678.4 603.3L683.2 604.9L689.5 602.5L695.9 598.6L700.6 593.8L707 590.6L713.3 587.9L721.3 585.6L727.6 585.9L734 588.6L741.9 590.6L749.8 592.2L756.2 595.9L762.5 596.2L770.5 594.3L778.4 594.3L784.8 593.8L791.1 591.7L795.9 594.6L799 593L803.8 594.6L810.2 591.4L816.5 588.6L824.4 587L832.4 585.9L840 584.8L840 584.8L847.9 584.8L855.9 584.8L863.8 585.4L871.7 586.7L878.1 589.8L886 592.2L894 594.3L901.1 591.1L905.1 590.6L911.4 593.8L919.4 596.2L928.9 597L938.4 598.1L947.9 598.6L957.5 598.6L967 597.8L976.5 596.5L986 595.9L995.6 595.9L1005.1 595.4L1011.4 594.6L1017.8 593.3L1025.7 594.9L1032.1 597L1040 597.5L1049.5 597.5L1059 597.5L1068.6 596.5L1078.1 597L1084.4 598.6L1090.8 600.2L1094.8 601L1098.7 597.8L1100.3 589.8L1102.7 585.1L1106.7 588.3L1109.8 593.8L1114.6 597.8L1119.4 597.5L1124.1 594.6L1128.9 593L1133.7 592.2L1136.8 588.3L1144.8 587.5L1151.1 587.9L1155.9 593L1160.6 599.4L1166.2 602.5L1170.2 601L1176.5 600.2L1182.9 598.6L1189.2 594.6L1195.6 588.6L1200 592.2L1200 595.4L1206.3 597L1214.3 597.8L1219 603.3L1222.2 606.5L1225.4 614.4L1231.7 620.8L1238.1 619.7L1241.3 624.8L1244.4 624L1250.5 629.2L1254.8 624.8L1258.7 619.2L1265.1 618.1L1271.4 616.8L1277.8 617.6L1284.1 614.9L1288.9 607.3L1293.7 602.9L1300 602.2L1304.8 604.9L1309.5 609.2L1312.7 610.8L1317.5 605.7L1322.2 602.9L1330.2 602.5L1335.7 607L1339.7 602.5L1342.9 599.4L1349.2 599.7L1358.7 599L1366.7 599L1374.6 598.6L1379.4 595.9L1387.3 595.9L1393.7 594.6L1401.6 596.2L1407.9 595.9L1415.9 594.3L1420.6 595.4L1423.8 598.1L1431.7 599.4L1439.7 599.7L1447.6 600.6L1455.6 601L1461.9 602.5L1466.7 606.5L1469.8 603.3L1474.6 605.7L1479.4 609.7L1484.1 608.9L1487.3 612.1L1492.1 607.3L1498.4 605.7L1504.8 607.6L1511.1 602.5L1517.5 600.2L1523.8 599L1531.7 600.2L1538.1 601L1546 600.2L1554 598.6L1560 598.6L1565.1 598.6L1569.9 598.6L1569.9 983.1Z" fill="#ffa00a"/>
<path d="M120 983.1L120 613.7L127.1 613.7L131.1 610.5L135.9 608.1L142.2 607L148.6 605.7L154.9 606.5L159.7 608.9L162.9 613.7L166.8 616.8L174 618.4L181.9 620L189.8 622.9L196.2 621.6L202.5 618.4L208.9 616L213.7 613.7L218.4 610.2L223.2 613.3L227.9 611.3L234.3 608.9L240.6 607.3L248.6 606.5L254.9 603.3L262.9 601L270.8 599.4L277.1 597L283.5 595.4L291.4 595.9L299.4 597L307.3 596.2L315.2 597L323.2 597.8L331.1 599L339 595.4L347 596.5L354.9 597.8L362.9 599.4L370.8 599L378.7 598.6L386.7 599.4L394.6 599.4L402.5 601L410.5 603.3L415.2 606.5L420 609.7L424.8 610.8L429.5 607.3L433.5 601L437.5 594.6L443.8 594.3L448.6 597.8L453.3 593.8L458.1 598.1L462.9 597.5L469.2 599.7L475.6 601.7L480 602.5L480 602.5L486.3 603.8L492.7 604.9L499 604.9L505.4 604.4L511.7 603.8L518.1 603L524.4 604.1L530.8 603.8L537.1 604.1L543.5 603.8L549.8 602.9L556.2 602.9L561 605.4L564.1 607L568.9 603.3L573.7 599.4L577.6 598.1L583.2 600.6L587.9 603.3L594.3 604.1L602.2 604.4L608.6 604.4L614.9 607L621.3 606.5L626 605.7L630 606.5L635.6 603.8L640.3 606.5L645.1 612.1L651.4 618.4L657.8 621.6L664.1 622.1L669.7 620.8L674.4 614L678.4 616L681.6 618.4L686.3 617.6L692.7 613.7L699 608.9L705.4 605.7L713.3 603.3L721.3 602.2L727.6 602.9L734 604.1L741.9 606L749.8 607.3L756.2 608.9L762.5 609.2L770.5 609.2L778.4 608.9L784.8 607.6L791.1 606.5L797.5 607L803.8 605.7L810.2 603.8L816.5 602.2L824.4 601L832.4 600.2L840 599.4L840 599L847.9 599L855.9 599L863.8 598.6L870.2 599L876.5 602.5L886 603.8L894 605.4L901.1 602.5L906.7 602.9L913 605.7L921 607.6L928.9 608.1L938.4 608.1L947.9 608.6L957.5 608.1L967 607.3L976.5 606L986 605.4L995.6 604.9L1005.1 604.4L1013 603.8L1019.4 604.1L1027.3 605.7L1035.2 607.3L1043.2 607.6L1051.1 607.3L1059 607L1067 607L1074.9 607.6L1081.3 609.7L1087.6 612.1L1094 615.6L1097.9 612.1L1100.3 606.5L1103.5 602.2L1108.3 604.1L1113 607L1119.4 607.6L1124.1 606.5L1128.9 607.3L1135.2 604.1L1144.8 602.2L1151.1 602.5L1155.9 606.5L1160.6 612.1L1166.2 618.4L1171.7 615.2L1178.1 612.1L1184.4 608.1L1190.8 604.9L1195.6 602.5L1200 603.3L1200 605.7L1206.3 607.3L1212.7 610.5L1217.5 616.8L1223.8 621.6L1230.2 627.1L1238.1 629.5L1241.6 637.5L1246 637.8L1250.8 641L1254.8 637.5L1257.9 631.1L1263.5 629.2L1269.8 626L1277.8 627.9L1284.1 625.6L1290.5 620.8L1295.2 618.4L1301.6 618.7L1307.9 621.6L1312.7 622.9L1319 620.3L1325.4 619.2L1331.7 620L1336.5 620.8L1342.9 616.8L1349.2 614.9L1358.7 614.4L1366.7 612.9L1374.6 611.7L1379.4 609.7L1387.3 608.6L1398.4 607.6L1406.3 609.7L1414.3 610.2L1420.6 612.1L1427 614.4L1434.9 614L1441.3 614L1447.6 614.4L1454 612.1L1460.3 611.3L1466.7 616.8L1471.4 616L1477.8 619.2L1485.7 620.8L1492.1 620L1498.4 619.2L1506.3 619.7L1512.7 614.4L1517.5 612.1L1522.2 610.2L1528.6 612.1L1536.5 613.7L1542.9 612.9L1549.2 610.8L1555.6 612.1L1560 612.9L1565.1 612.9L1569.9 612.9L1569.9 983.1Z" fill="#ffe000"/>
<path d="M120 983.1L120 626.3L127.1 626.3L132.7 624L139 622.9L147 622.4L154.9 624L161.3 627.1L166.8 629.5L174 631.9L181.9 634.3L189.8 635.9L196.2 634.6L202.5 631.9L208.9 629.5L215.2 626.7L220 625.6L224.8 627.9L231.1 626L237.5 624.8L243.8 623.2L250.2 620.8L256.5 617.1L262.9 615.2L270.8 613.3L277.1 609.7L283.5 607.3L291.4 608.6L299.4 609.7L307.3 609.7L315.2 610.8L323.2 611.7L331.1 612.9L339 608.9L347 609.7L354.9 610.5L362.9 612.9L370.8 613.3L378.7 614.4L386.7 616L394.6 616L402.5 617.6L410.5 619.2L416.8 621.6L423.2 623.2L427.9 621.6L432.7 615.2L437.5 611.7L443.8 610.8L450.2 611.7L456.5 610.5L462.9 610.8L469.2 611.7L475.6 613.7L480 614L480 612.1L486.3 612.9L492.7 614L499 614L505.4 613.7L511.7 612.9L518.1 612.9L524.4 613.3L530.8 613.3L537.1 613.7L543.5 613.3L549.8 612.1L554.6 611.7L559.4 614.4L564.9 617.1L570.5 613.7L576.8 610.5L583.2 611.3L587.9 613.3L594.3 613.7L602.2 614L608.6 614L614.9 617.1L621.3 619.2L627.6 618.1L634 613.7L638.7 615.2L643.5 621.6L649.8 628.7L657.8 631.1L664.1 632.4L669.7 631.4L674.4 628.7L680 629.5L686.3 627.9L692.7 623.2L699 619.2L705.4 616.5L713.3 614.4L721.3 613.7L727.6 614.4L734 616L741.9 618.4L749.8 620L756.2 621.6L762.5 622.4L770.5 623.2L778.4 622.4L784.8 620.8L791.1 619.2L797.5 617.1L803.8 616L810.2 614.4L816.5 612.9L824.4 611.7L832.4 610.8L840 610.2L840 609.7L847.9 609.2L855.9 609.2L863.8 609.7L870.2 610.5L876.5 614L886 614.4L894 615.2L901.1 613.3L906.7 613.7L913 616L921 618.4L928.9 619.7L938.4 618.7L947.9 618.4L957.5 617.6L967 617.1L976.5 615.6L986 614.9L995.6 614L1005.1 613.3L1013 612.9L1019.4 614L1027.3 615.6L1035.2 617.6L1043.2 618.1L1051.1 618.7L1059 619.2L1067 618.4L1074.9 619.2L1081.3 620.8L1087.6 623.2L1094.8 626L1100.3 621.6L1105.1 617.6L1109.8 616.8L1116.2 618.4L1122.5 616L1128.9 620.3L1135.2 615.2L1144.8 614L1151.1 614.4L1155.9 618.4L1160.6 623.2L1166.2 629.5L1171.7 626.7L1178.1 623.2L1184.4 619.2L1190.8 616.5L1195.6 614.9L1200 616L1200 614.9L1206.3 616.8L1212.7 620.8L1217.5 625.6L1223.8 629.8L1230.2 635.1L1238.1 639.8L1241.6 644.6L1246 647L1250.8 650.5L1254.8 647L1258.7 641.4L1263.5 639.4L1269.8 635.6L1277.8 637.1L1284.1 634.6L1290.5 631.1L1295.2 629.2L1301.6 629.5L1307.9 631.1L1312.7 632.4L1319 630.8L1327 629.5L1334.9 629.8L1342.9 626.3L1349.2 624.8L1358.7 623.5L1366.7 622.4L1374.6 621.6L1382.5 620.8L1390.5 620.3L1398.4 619.2L1406.3 620.8L1414.3 621.6L1420.6 623.2L1427 624.8L1434.9 624L1441.3 624.4L1447.6 625.1L1454 623.2L1460.3 622.9L1466.7 626L1473 625.6L1479.4 627.9L1485.7 629.2L1492.1 628.3L1498.4 627.6L1506.3 627.6L1512.7 623.2L1517.5 621.6L1522.2 620.3L1528.6 621.6L1536.5 622.9L1542.9 622.4L1549.2 620.8L1555.6 621.9L1560 622.9L1565.1 622.9L1569.9 622.9L1569.9 983.1Z" fill="#e0f50f"/>
<path d="M120 983.1L120 643L127.1 643L132.7 641L139 639.8L147 638.7L154.9 639.8L161.3 641.4L166.8 643.8L174 645.4L181.9 648.6L189.8 651L196.2 650.2L202.5 647.8L208.9 645.4L215.2 642.2L221.6 641.4L227.9 641.4L234.3 639L240.6 636.7L248.6 634L254.9 631.1L262.9 628.7L270.8 626.3L277.1 622.9L283.5 620.3L291.4 621.6L299.4 622.9L307.3 623.5L315.2 624.8L323.2 626.3L331.1 627.1L339 622.9L347 624L354.9 624.4L362.9 626.7L370.8 627.6L378.7 628.7L386.7 630.3L394.6 631.1L402.5 633L410.5 634.6L416.8 637.5L423.2 638.3L427.9 636.7L432.7 633L437.5 632.4L443.8 630.3L450.2 631.1L454.9 629.5L461.3 624.8L469.2 624.8L475.6 625.6L480 626L480 624.8L486.3 625.6L492.7 627.9L499 628.7L505.4 628.3L511.7 625.6L518.1 625.6L524.4 626L530.8 625.1L537.1 625.6L543.5 625.1L549.8 624.4L554.6 624.4L559.4 626.3L565.7 629.5L572.1 626.7L578.4 624L584.8 624L591.1 626.7L597.5 627.6L603.8 627.9L610.2 627.9L616.5 631.9L622.9 634.3L627.6 635.1L634.8 629.8L638.7 632.7L645.1 638.3L651.4 641.4L657.8 643.8L664.1 646.2L668.9 646.7L675.2 643.5L681.6 642.5L687.9 641.4L694.3 638.3L700.6 633.5L707 631.1L713.3 629.5L721.3 628.7L727.6 629.5L734 631.1L741.9 633L749.8 634.6L756.2 635.9L762.5 637.1L770.5 637.8L778.4 637.8L784.8 635.9L791.1 633.5L797.5 629.5L803.8 628.3L810.2 626.3L816.5 624.8L824.4 623.2L832.4 621.9L840 620.8L840 620.8L847.9 621.6L855.9 621.6L863.8 623.2L870.2 623.2L876.5 627.1L886 627.6L894 628.7L901.1 626.7L906.7 627.1L913 629.5L921 631.4L928.9 631.9L938.4 631.4L947.9 631.9L957.5 631.1L967 630.3L976.5 628.7L986 627.9L995.6 626.3L1005.1 625.6L1013 625.1L1019.4 626.3L1027.3 628.7L1035.2 630.8L1043.2 631.9L1051.1 631.9L1059 631.9L1067 631.4L1074.9 631.9L1081.3 634L1087.6 635.9L1095.6 639L1101.9 633.5L1108.3 630.3L1116.2 629.8L1124.1 631.1L1132.1 634.3L1136.8 631.1L1144.8 629.8L1151.1 631.1L1155.9 634L1160.6 637.5L1167 642.5L1173.3 639.8L1179.7 633.5L1186 630.3L1192.4 626.3L1200 625.6L1200 628.7L1206.3 631.1L1212.7 634.6L1217.5 639.8L1223.8 644.1L1230.2 647L1238.1 650.5L1241.6 659.7L1246 662.9L1250.8 666.3L1254.8 663.2L1258.7 656.5L1263.5 654.6L1269.8 649.8L1277.8 649.8L1284.1 646.7L1290.5 643.5L1295.2 641.4L1301.6 641.4L1307.9 643L1312.7 644.1L1319 642.5L1327 641.9L1334.9 641.9L1342.9 638.3L1349.2 635.9L1358.7 634.6L1366.7 633.5L1374.6 632.7L1382.5 631.1L1390.5 630.3L1398.4 629.5L1406.3 631.4L1414.3 633L1420.6 635.1L1427 636.7L1434.9 635.6L1441.3 635.9L1447.6 636.7L1454 634.6L1460.3 634L1466.7 637.1L1473 636.7L1479.4 638.3L1485.7 639L1492.1 638.3L1498.4 637.8L1506.3 638.3L1512.7 634.3L1517.5 632.7L1522.2 631.4L1528.6 632.7L1536.5 633.5L1542.9 633L1549.2 631.9L1555.6 633L1560 634L1565.1 634L1569.9 634L1569.9 983.1Z" fill="#b4e61e"/>
<path d="M120 983.1L120 662.1L127.1 662.1L132.7 660L139 659.4L143.8 657.8L151.7 658.4L159.7 658.9L166.8 660.5L172.4 663.7L178.7 667.6L186.7 672.1L193 672.1L199.4 670L205.7 668.4L212.1 664.4L218.4 660.5L224.8 659.7L231.1 656.5L237.5 653.3L243.8 651L251.7 648.3L259.7 645.4L267.6 643.5L274 640.6L278.7 637.5L283.5 635.6L291.4 637.5L299.4 638.7L307.3 639.4L315.2 641L323.2 642.5L331.1 643.8L339 639L347 641L354.9 641.4L362.9 643.5L370.8 644.1L378.7 646.2L386.7 647.8L394.6 648.9L402.5 650.5L410.5 653.3L418.4 656.8L424.8 655.7L431.1 652.5L435.9 653.3L440.6 655.7L447 655.7L451.7 654.9L456.5 651.7L461.3 645.4L467.6 643L474 643.5L480 643L480 642.5L486.3 643L492.7 645.4L499 646.2L505.4 645.4L511.7 643.5L518.1 643.5L524.4 643.5L530.8 642.5L537.1 642.5L543.5 643L549.8 641.9L554.6 642.2L561 644.6L567.3 645.7L573.7 643.8L580 641.9L586.3 641.9L592.7 643L599 643.5L607 643.8L611.7 646.2L618.1 650.2L622.9 651.7L628.4 656.2L634.8 651.4L640.3 654.1L646.7 658.1L653 661.3L659.4 664.4L664.1 666L668.9 667.9L675.2 664.8L681.6 663.7L687.9 661.3L694.3 658.1L700.6 653.3L707 650.2L713.3 648.3L721.3 647.3L727.6 648.3L734 649.8L741.9 651.4L749.8 653.3L756.2 654.6L762.5 655.7L770.5 656.2L778.4 655.7L784.8 654.1L791.1 651L797.5 645.4L803.8 643.8L810.2 642.2L816.5 640.6L824.4 638.3L832.4 637.1L840 635.9L840 635.1L847.9 635.9L855.9 636.7L863.8 639L870.2 638.7L876.5 643L886 644.6L894 645.4L901.1 642.5L905.1 641.4L913 644.6L921 646.7L928.9 647.3L938.4 646.7L947.9 647L957.5 646.7L967 646.2L976.5 643.8L986 643L995.6 641.9L1005.1 641.4L1013 641L1019.4 641.4L1027.3 643.8L1035.2 646.7L1043.2 648.3L1051.1 649.4L1059 648.9L1067 648.3L1074.9 648.3L1081.3 649.8L1087.6 651.7L1095.6 656.2L1101.9 651.4L1108.3 648.3L1116.2 648.3L1124.1 649.4L1132.1 651.7L1136.8 648.9L1144.8 648.3L1151.1 649.4L1155.9 651.7L1160.6 655.7L1167 661L1173.3 658.1L1179.7 651L1186 647L1192.4 643.8L1200 643L1200 645.4L1206.3 648.6L1212.7 651L1217.5 655.7L1223.8 661L1230.2 666L1238.1 670.8L1242.9 677.1L1247.6 680L1250.8 681.9L1254.8 679.5L1258.7 675.6L1263.5 674L1269.8 667.9L1277.8 667.6L1284.1 664.4L1290.5 660.5L1295.2 657.8L1301.6 656.8L1307.9 659.4L1312.7 660.5L1319 658.9L1327 658.1L1334.9 657.8L1342.9 653.7L1349.2 650.2L1358.7 648.9L1366.7 648.3L1374.6 647L1382.5 645.4L1390.5 645.1L1398.4 644.1L1406.3 646.7L1414.3 648.3L1420.6 649.4L1427 650.2L1434.9 649.8L1441.3 649.8L1447.6 650.2L1454 649.4L1460.3 649.4L1466.7 650.5L1473 650.2L1479.4 650.5L1485.7 651.4L1492.1 650.5L1498.4 650.5L1506.3 651L1512.7 647.8L1517.5 646.2L1522.2 645.4L1528.6 646.2L1536.5 647L1542.9 646.7L1549.2 646.2L1555.6 647.8L1560 648.6L1565.1 648.6L1569.9 648.6L1569.9 983.1Z" fill="#82d223"/>
<path d="M120 983.1L120 689L127.1 689L132.7 685.9L139 685.1L143.8 683.2L151.7 682.7L159.7 682.7L166.8 683.5L172.4 686.7L177.1 694.6L181.9 697L186.7 701L193 700.2L199.4 696.2L202.5 695.4L207.3 690.6L212.1 687.5L218.4 683.5L224.8 681.9L231.1 679.5L237.5 677.1L243.8 674.8L251.7 672.4L259.7 669.2L267.6 666.8L274 663.7L278.7 660.5L283.5 658.4L291.4 660L299.4 661.6L307.3 663.7L315.2 664.8L323.2 666.8L331.1 668.4L339 664.1L347 664.8L354.9 665.7L362.9 667.3L370.8 668.4L378.7 669.5L386.7 671.1L394.6 672.1L402.5 674.8L410.5 676.8L418.4 679L424.8 678.4L431.1 677.1L435.9 677.9L442.2 681.9L450.2 681.9L454.9 680.3L459.7 676.3L463.7 670.8L469.2 669.5L475.6 669.2L480 668.9L480 669.2L486.3 668.9L492.7 671.1L500.6 672.1L507 670.8L513.3 669.2L521.3 669.2L527.6 668.4L535.6 667.6L543.5 668.4L549.8 667.6L556.2 667.6L562.5 669.5L568.9 670L575.2 669.2L581.6 667.9L589.5 667.6L597.5 667.9L607 668.4L611.7 670.8L618.1 674.8L622.9 676.3L629.2 681.1L635.6 678.7L640.3 678.7L646.7 682.7L653 686.7L659.4 688.6L664.1 692.2L670.2 696.5L675.2 691.4L681.6 689L687.9 685.9L694.3 683.5L700.6 678.7L707 675.9L713.3 674L721.3 673.2L727.6 674L735.6 675.9L743.5 676.8L751.4 678.7L759.4 679.5L767.3 680.3L775.2 680L781.6 679.5L787.9 678.7L792.7 675.6L797.5 670.8L803.8 669.5L810.2 667.6L816.5 665.2L824.4 662.9L832.4 660.5L840 658.9L840 658.1L847.9 659.4L855.9 660.5L863.8 663.7L870.2 663.7L876.5 668.4L886 669.2L894 670L901.1 667.3L905.1 666.3L913 669.5L921 671.6L928.9 672.1L938.4 671.1L947.9 672.1L957.5 670.8L967 670.8L976.5 668.9L986 667.6L995.6 665.7L1005.1 664.8L1012.2 663.7L1019.4 664.8L1027.3 668.4L1035.2 672.4L1043.2 675.6L1051.1 677.1L1059 677.1L1067 676.8L1074.9 675.9L1081.3 677.1L1087.6 678.7L1095.6 681.1L1101.9 677.9L1108.3 675.6L1116.2 675.2L1124.1 674.8L1132.1 676.3L1138.4 674.8L1144.8 676.3L1151.1 677.1L1155.9 679.5L1160.6 681.9L1167 684.8L1173.3 682.2L1179.7 677.9L1186 674L1192.4 670.5L1200 669.2L1200 671.6L1206.3 676.3L1212.7 679.5L1217.5 682.7L1223.8 685.9L1230.2 691.4L1236.5 697L1241.3 704.1L1246 709.7L1250.8 714.9L1254.8 710.5L1257.9 704.1L1261.1 704.9L1265.1 700.2L1269.8 693.8L1277.8 688.3L1284.1 685.1L1290.5 681.9L1295.2 680.3L1301.6 679.5L1307.9 681.1L1312.7 681.9L1319 681.1L1327 681.1L1334.9 680.6L1342.9 677.1L1349.2 674.8L1358.7 673.2L1366.7 671.6L1374.6 670.8L1382.5 668.4L1390.5 667.9L1398.4 667.9L1406.3 670.8L1414.3 672.7L1420.6 674L1427 674.3L1434.9 674L1441.3 674L1447.6 674.3L1454 673.2L1460.3 673.7L1466.7 674.8L1473 674.3L1479.4 674.8L1485.7 675.9L1492.1 674.8L1498.4 674.3L1504.8 675.2L1511.1 672.1L1517.5 669.5L1522.2 667.9L1528.6 670L1536.5 671.1L1542.9 670.5L1549.2 670L1555.6 672.4L1560 673.7L1565.1 673.7L1569.9 673.7L1569.9 983.1Z" fill="#5abe32"/>
<path d="M120 983.1L120 743L127.1 743L132.7 739L139 737.5L143.8 734.3L151.7 734L159.7 735.1L166.8 738.3L174 742.2L178.7 746.2L186.7 749.8L193 748.9L199.4 747L205.7 744.6L212.1 740.6L218.4 735.1L223.2 732.4L231.1 728.7L237.5 725.6L243.8 722.4L251.7 718.4L259.7 713.7L267.6 710.2L274 706.5L278.7 701.7L282.7 699L288.3 701L294.6 702.2L302.5 704.1L310.5 705.7L318.4 708.1L324.8 709.7L331.1 712.1L339 706L347 707.6L354.9 708.1L362.9 709.7L370.8 710.5L378.7 712.1L386.7 712.9L394.6 714L402.5 718.4L410.5 722.4L418.4 727.1L424.8 726L432.7 724.4L437.5 728.7L442.2 734.3L450.2 735.1L454.9 732.7L458.1 727.9L461.3 720L466 715.2L472.4 714L480 714L480 712.9L486.3 713.7L492.7 716.8L499 718.1L505.4 717.6L511.7 715.2L518.1 714L526 714L534 711.7L541.9 712.1L548.3 710.5L554.6 709.7L562.5 712.4L568.9 712.9L575.2 712.9L581.6 711.3L589.5 709.2L597.5 709.2L607 710.2L611.7 712.9L616.5 718.4L622.9 723.2L630 731.9L636.3 730.8L641.9 733.5L646.7 739L653 745.1L659.4 747.8L664.1 750.2L669.7 751L675.2 747L681.6 744.6L687.9 741.4L694.3 737.5L700.6 730.3L705.4 725.6L711.7 723.2L719.7 721.3L727.6 722.4L735.6 725.6L743.5 727.6L751.4 730.3L759.4 732.7L767.3 734L775.2 732.7L781.6 731.1L787.9 729.2L792.7 724.8L797.5 718.4L803.8 716.8L810.2 712.9L816.5 708.9L824.4 704.9L832.4 700.2L840 698.6L840 698.6L847.9 700.2L855.9 701.7L863.8 705.7L870.2 706L874.9 710.5L881.3 712.9L887.6 714L894 714.4L901.1 710.5L905.1 709.7L911.4 713.7L919.4 716.8L928.9 717.6L938.4 716.5L944.8 716.5L951.1 718.1L960.6 716.5L967 717.1L973.3 716.8L979.7 714L987.6 712.9L995.6 711.7L1005.1 710.5L1012.2 709.2L1019.4 712.1L1027.3 717.6L1035.2 722.4L1043.2 727.1L1051.1 729.8L1059 729.8L1067 729.2L1074.9 727.1L1081.3 729.8L1087.6 731.9L1094.8 734L1101.9 730.3L1108.3 727.1L1114.6 726.3L1119.4 723.2L1125.7 725.6L1132.1 727.9L1138.4 727.1L1144.8 729.8L1152.7 731.9L1159 735.1L1165.4 739.8L1171.7 737.8L1178.1 732.7L1184.4 727.1L1192.4 721.6L1200 720.8L1200 722.4L1206.3 728.7L1212.7 732.7L1217.5 735.6L1223.8 738.7L1230.2 743L1236.5 747L1241.3 751.7L1246 755.2L1250.8 758.9L1254.8 755.7L1260.3 754.9L1265.1 754.6L1269.8 750.2L1277.8 745.4L1284.1 740.6L1290.5 734.6L1295.2 731.9L1301.6 729.8L1307.9 732.7L1312.7 735.9L1319 734.3L1327 735.1L1334.9 733.5L1342.9 727.1L1349.2 724L1355.6 720.3L1363.5 717.6L1374.6 716.8L1382.5 713.3L1388.9 712.1L1396.8 711.7L1404.8 716L1412.7 718.4L1420.6 720.8L1428.6 720.8L1438.1 720.3L1447.6 721.3L1454 719.2L1460.3 721.3L1468.3 721.9L1476.2 723.2L1485.7 724.8L1492.1 722.9L1498.4 722.4L1504.8 723.5L1511.1 718.4L1517.5 714.4L1522.2 713.3L1528.6 716.5L1536.5 717.6L1542.9 716.8L1549.2 716.8L1555.6 719.7L1560 721.3L1565.1 721.3L1569.9 721.3L1569.9 983.1Z" fill="#29ac47"/>
<path d="M120 983.1L120 795.6L120 795.6L126.3 794.6L139 791.4L150.2 790.2L161.3 793.3L167.6 798.7L180.3 800.3L193 805.1L202.5 800.3L212.1 795.6L227.9 792.4L247 787L262.9 782.9L275.6 778.1L281.9 776.5L294.6 778.7L310.5 780.6L326.3 782.9L339 778.7L351.7 778.7L367.6 781.3L383.5 782.9L396.2 783.8L408.9 787L421.6 790.8L434.3 790.2L450.2 794L459.7 790.8L469.2 787L481.9 787.6L497.8 789.2L513.7 789.2L529.5 789.2L539 789.2L548.6 784.4L564.4 785.1L577.1 782.9L593 781.9L605.7 782.9L618.4 787L631.1 792.4L639 797.1L645.4 809.8L653.3 821L664.4 827.3L672.4 819.4L681.9 808.3L694.6 797.1L707.3 793.3L720 791.7L732.7 794L742.2 797.8L751.7 803.5L762.9 806.7L774 803.5L781.9 794L789.8 787.6L802.5 787.6L818.4 786L827.9 783.8L840 784.4L840 783.5L856.1 785.1L872.2 785.1L888.3 787.6L904.4 784.4L920.5 789.9L936.6 791.5L952.6 790.9L968.7 791.5L984.8 789.9L997.7 787.6L1013.8 789.9L1029.9 792.1L1046 794.1L1062.1 795.4L1078.2 794.7L1094.3 795.4L1110.4 794.7L1126.4 795.4L1136.1 798.6L1149 801.8L1158.6 803.7L1166.7 808.2L1174.7 804.4L1182.8 800.5L1190.8 796.3L1203.7 794.7L1219.8 793.1L1234.3 795.4L1240.7 807.6L1248.8 815.6L1258.4 826.3L1266.5 828.5L1274.5 818.9L1284.2 804.4L1293.8 795.4L1303.5 796.3L1313.1 806L1326 808.2L1335.7 803.7L1345.3 795.4L1361.4 788.9L1371.1 791.5L1387.2 790.9L1403.2 791.5L1419.3 792.1L1435.4 790.9L1451.5 793.1L1470.8 788.9L1486.9 792.1L1503 794.7L1519.1 790.9L1535.2 790.9L1548.1 792.1L1561 795.4L1570 796.3L1569.9 796.3L1569.9 983.1Z" fill="#07935a"/>
<path d="M120 983.1L120 971.7L120 971.7L126.3 968.6L135.9 962.2L143.8 959L151.7 958.4L161.3 962.2L170.8 967.9L183.5 970.2L194.6 971.1L205.7 969.2L215.2 965.4L227.9 961.6L243.8 955.9L256.5 951.1L269.2 947.9L280.3 943.8L291.4 947.9L304.1 951.1L316.8 952.1L329.5 952.7L342.2 948.9L354.9 947.9L367.6 947.9L380.3 952.1L393 955.9L402.5 960.6L412.1 966L424.8 969.2L437.5 967.9L453.3 967L466 964.8L478.7 967L488.3 973.3L494.6 981.3L542.2 981.3L551.7 971.1L564.4 969.2L577.1 966L589.8 962.2L602.5 961.6L612.1 963.8L621.6 971.1L631.1 981.3L710.5 981.3L716.8 973.3L726.3 974.3L735.9 981.3L840 981.3L840 984.6L1570 984.6L1569.9 984.6L1569.9 983.1Z" fill="#23788c"/>
<path d="M309.7 524.8L312.9 530.3L318.4 534.3L324 536.7L327.9 534.3L329.5 527.9L329.8 524.8Z" fill="#d40000"/>
<path d="M218.1 524.8L219.7 533.5L220.8 524.8Z" fill="#ff1e00"/>
<path d="M795.9 524.8L797.5 537.5L802.2 540.6L810.2 539L818.1 537.5L824.4 540.6L830.8 543.8L840 547L840 524.8Z" fill="#d40000"/>
<path d="M680.8 524.8L681.9 551.7L683.2 566L684.4 551.7L684.8 524.8Z" fill="#ff1e00"/>
<path d="M686.3 524.8L687.9 539L689.8 546.2L691.4 537.5L691.9 524.8Z" fill="#ff1e00"/>
<path d="M739.5 524.8L740.6 540.6L741.9 524.8Z" fill="#ff1e00"/>
<path d="M840 524.8L840 547L849.5 547.8L859 548.6L865.4 549.4L867 542.2L867.8 524.8Z" fill="#d40000"/>
<path d="M1363.5 524.8L1365.9 532.7L1369 534.3L1372.2 531.1L1373 524.8Z" fill="#d40000"/>
<path d="M1309.5 524.8L1310.6 543.8L1311.9 524.8Z" fill="#ff6000"/>
<path d="M1287.4 978.2L1298.6 971.1L1309.9 978.2Z" fill="#23788c"/>
<path d="M1387.2 978.2L1412.9 974.3L1432.2 971.1L1445.1 978.2Z" fill="#23788c"/>
<path d="M862.5 978.2L870.6 974.3L878.6 978.2Z" fill="#23788c"/>
<rect x="125" y="559.7" width="1439.9" height="418.4" fill="url(#stp)"/>
</g>
</g>
<g id="panel2">
<clipPath id="cp2"><rect x="125" y="1045.5" width="1439.9" height="453.3"/></clipPath>
<g clip-path="url(#cp2)">
<rect x="125" y="1045.5" width="1439.9" height="453.3" fill="#a5dc1e"/>
<path fill-rule="evenodd" fill="#c800ff" d="M1175 1138 1176 1138 1178 1139 1186 1162 1193 1173 1200 1178 1212 1180 1215 1184 1214 1190 1211 1194 1208 1196 1204 1195 1200 1195 1193 1206 1190 1208 1184 1207 1178 1203 1173 1196 1169 1185 1168 1172 1168 1158 1171 1146 1175 1138Z"/>
<path fill-rule="evenodd" fill="#6e28ff" d="M314 1100 316 1102 317 1116 316 1128 314 1131 312 1128 311 1116 312 1104 314 1100ZM1176 1118 1180 1116 1182 1118 1186 1148 1190 1157 1193 1161 1195 1161 1194 1146 1196 1134 1198 1131 1200 1128 1205 1130 1208 1136 1209 1146 1208 1154 1204 1167 1206 1169 1217 1173 1220 1178 1222 1184 1221 1191 1216 1197 1208 1203 1202 1200 1200 1201 1193 1215 1190 1217 1186 1218 1176 1216 1168 1209 1162 1197 1159 1180 1159 1161 1162 1143 1168 1128 1172 1121 1176 1118ZM1175 1138 1171 1146 1168 1158 1168 1172 1169 1185 1173 1196 1178 1203 1184 1207 1190 1208 1193 1206 1200 1195 1204 1195 1208 1196 1211 1194 1214 1190 1215 1184 1212 1180 1200 1178 1193 1173 1186 1162 1178 1139 1176 1138 1175 1138ZM1319 1148 1325 1149 1326 1152 1325 1154 1319 1155 1314 1154 1313 1150 1314 1149 1319 1148Z"/>
<path fill-rule="evenodd" fill="#3c46d2" d="M344 1070 345 1077 344 1089 342 1082 344 1070ZM332 1084 334 1084 336 1088 339 1101 338 1114 336 1119 334 1123 330 1122 329 1119 327 1107 328 1093 329 1088 332 1084ZM314 1088 316 1087 318 1094 320 1113 318 1132 317 1138 314 1141 312 1140 311 1134 309 1116 310 1096 314 1088ZM314 1099 312 1102 311 1114 312 1128 314 1131 316 1129 317 1118 316 1102 314 1099ZM282 1095 286 1096 287 1102 286 1108 282 1109 280 1107 278 1102 280 1097 282 1095ZM1182 1101 1187 1102 1192 1106 1192 1110 1192 1124 1193 1124 1199 1120 1202 1120 1205 1122 1208 1126 1211 1137 1213 1160 1223 1173 1226 1180 1227 1186 1225 1194 1219 1200 1208 1207 1202 1206 1200 1207 1194 1220 1192 1224 1186 1226 1180 1227 1172 1226 1166 1224 1161 1220 1157 1214 1153 1204 1152 1196 1151 1167 1152 1145 1159 1125 1164 1116 1170 1108 1176 1103 1182 1101ZM1176 1117 1169 1126 1163 1142 1159 1160 1159 1179 1162 1196 1168 1208 1175 1215 1180 1217 1186 1218 1190 1217 1193 1215 1200 1201 1202 1200 1208 1203 1216 1197 1221 1191 1222 1184 1220 1178 1217 1173 1206 1169 1204 1167 1208 1155 1209 1148 1208 1137 1206 1131 1204 1129 1200 1128 1196 1133 1194 1144 1195 1161 1193 1161 1190 1157 1186 1148 1182 1118 1180 1116 1176 1117ZM259 1107 264 1107 269 1112 269 1118 264 1122 260 1122 256 1118 255 1112 259 1107ZM728 1114 730 1114 731 1114 733 1118 734 1124 733 1134 730 1138 726 1136 724 1128 725 1119 728 1114ZM458 1128 461 1127 466 1131 470 1129 472 1131 478 1150 478 1154 476 1156 473 1157 471 1156 464 1151 460 1150 458 1148 456 1137 458 1128ZM1320 1136 1324 1136 1326 1139 1329 1150 1328 1154 1326 1155 1319 1156 1313 1155 1312 1153 1311 1150 1313 1146 1316 1138 1320 1136ZM1319 1147 1316 1148 1313 1150 1314 1154 1319 1155 1325 1154 1326 1152 1325 1149 1319 1147Z"/>
<path fill-rule="evenodd" fill="#236e96" d="M276 1044 278 1050 279 1058 276 1074 275 1068 274 1058 275 1048 276 1044ZM290 1044 291 1053 290 1063 288 1059 288 1054 288 1048 290 1044ZM334 1056 336 1055 340 1058 340 1070 341 1074 342 1062 344 1060 345 1064 346 1082 346 1112 344 1122 341 1132 335 1138 332 1139 329 1137 323 1129 317 1144 314 1147 310 1142 307 1128 307 1108 309 1092 311 1085 314 1079 316 1079 320 1084 322 1084 326 1072 334 1056ZM344 1068 342 1080 344 1089 345 1078 344 1068ZM314 1087 312 1089 310 1096 309 1116 311 1134 312 1140 314 1141 317 1138 318 1132 320 1113 318 1094 316 1088 314 1087ZM332 1084 329 1088 328 1093 327 1106 329 1119 330 1122 334 1123 336 1119 338 1114 339 1101 336 1088 335 1085 332 1084ZM902 1086 904 1089 904 1098 904 1107 902 1113 900 1108 900 1101 900 1090 902 1086ZM281 1089 284 1089 287 1091 292 1096 293 1106 290 1113 286 1116 276 1116 270 1124 266 1126 260 1127 256 1125 252 1120 250 1114 251 1108 254 1103 257 1100 260 1099 263 1099 270 1102 276 1092 281 1089ZM282 1095 280 1097 278 1102 280 1107 282 1109 286 1108 287 1102 286 1096 282 1095ZM260 1107 256 1110 255 1116 258 1120 263 1122 268 1119 269 1113 266 1108 263 1106 260 1107ZM1179 1090 1186 1091 1192 1094 1202 1104 1207 1112 1213 1128 1216 1155 1229 1176 1231 1184 1231 1190 1229 1196 1226 1200 1205 1215 1199 1225 1193 1231 1182 1235 1164 1236 1158 1234 1154 1231 1151 1227 1150 1222 1147 1185 1149 1136 1151 1122 1158 1108 1169 1096 1179 1090ZM1182 1101 1176 1103 1170 1108 1165 1114 1160 1124 1153 1144 1151 1166 1151 1194 1153 1203 1156 1212 1160 1219 1164 1223 1170 1226 1180 1227 1186 1226 1192 1224 1194 1220 1200 1207 1202 1206 1208 1207 1219 1200 1225 1194 1227 1186 1226 1180 1223 1173 1213 1160 1211 1137 1208 1126 1205 1122 1202 1120 1199 1120 1193 1124 1192 1124 1192 1107 1188 1102 1182 1101ZM1053 1095 1055 1095 1055 1098 1054 1097 1053 1095ZM727 1102 731 1102 736 1107 738 1114 739 1124 739 1134 737 1143 734 1149 730 1151 725 1149 722 1145 719 1130 719 1120 721 1112 724 1106 727 1102ZM728 1114 725 1119 724 1128 726 1136 730 1138 733 1134 734 1124 732 1116 730 1114 728 1114ZM141 1106 143 1105 144 1107 146 1114 146 1124 143 1129 142 1129 140 1126 138 1119 139 1110 141 1106ZM897 1108 898 1107 898 1108 899 1113 898 1124 896 1122 895 1118 897 1108ZM214 1113 216 1112 220 1114 219 1118 218 1119 216 1120 214 1119 213 1116 214 1113ZM444 1114 444 1113 446 1114 447 1118 449 1130 448 1143 444 1149 443 1149 442 1146 441 1138 442 1124 444 1114ZM459 1120 461 1120 466 1123 472 1122 474 1123 476 1125 479 1137 488 1143 488 1148 487 1154 482 1160 478 1162 472 1161 458 1154 455 1146 454 1136 456 1125 459 1120ZM460 1127 458 1128 456 1136 456 1143 458 1148 460 1150 464 1151 471 1156 473 1157 476 1156 478 1154 478 1150 473 1132 470 1129 466 1131 461 1127 460 1127ZM1380 1125 1382 1124 1384 1126 1386 1137 1384 1149 1382 1153 1380 1153 1378 1149 1377 1140 1378 1130 1380 1125ZM982 1126 984 1126 986 1128 987 1136 986 1143 984 1146 983 1146 981 1143 980 1137 981 1131 982 1126ZM1319 1128 1322 1127 1326 1129 1331 1136 1332 1142 1331 1150 1330 1154 1326 1156 1322 1157 1313 1156 1309 1152 1311 1137 1314 1131 1319 1128ZM1320 1135 1316 1138 1313 1146 1311 1150 1312 1154 1318 1156 1326 1155 1328 1154 1329 1150 1326 1139 1324 1136 1320 1135ZM1348 1130 1349 1129 1351 1131 1352 1140 1351 1149 1349 1151 1347 1148 1346 1142 1347 1134 1348 1130ZM960 1134 962 1143 960 1154 960 1144 960 1134ZM462 1209 462 1208 464 1210 464 1214 462 1215 462 1209Z"/>
<path fill-rule="evenodd" fill="#0a8c5a" d="M275 1042 278 1042 280 1045 287 1047 289 1042 291 1042 293 1053 292 1060 290 1066 287 1065 280 1068 276 1081 274 1066 270 1058 270 1053 275 1042ZM276 1043 275 1048 274 1058 275 1068 276 1074 279 1058 276 1043ZM290 1044 288 1048 288 1054 288 1059 290 1063 291 1053 290 1044ZM334 1044 340 1043 346 1044 351 1048 353 1053 353 1059 348 1070 348 1076 353 1094 360 1100 365 1110 366 1119 366 1128 365 1134 362 1140 358 1142 350 1139 347 1139 338 1145 334 1147 329 1146 323 1141 322 1141 317 1150 314 1152 311 1149 306 1143 305 1142 300 1144 296 1143 292 1137 287 1126 283 1124 278 1123 270 1128 264 1130 257 1130 252 1126 248 1120 246 1113 247 1102 247 1089 248 1084 251 1081 257 1077 260 1078 270 1086 274 1086 276 1083 278 1085 284 1085 288 1087 298 1094 304 1096 306 1092 312 1070 314 1068 318 1067 322 1065 325 1059 329 1048 334 1044ZM335 1055 326 1072 322 1084 320 1084 316 1079 314 1079 311 1085 309 1092 307 1108 307 1128 310 1142 314 1147 317 1144 323 1129 329 1137 334 1139 336 1137 340 1134 344 1124 346 1112 346 1083 345 1065 344 1060 342 1062 341 1074 340 1068 340 1059 338 1056 335 1055ZM281 1089 276 1092 270 1102 263 1099 260 1099 257 1100 254 1103 251 1108 250 1114 252 1120 256 1125 260 1127 266 1126 270 1124 276 1116 286 1116 290 1113 293 1106 292 1098 287 1091 281 1089ZM606 1068 606 1067 608 1068 609 1074 608 1083 606 1084 605 1076 606 1068ZM898 1078 902 1078 910 1085 913 1090 914 1100 913 1110 909 1120 905 1127 898 1130 892 1125 888 1120 886 1112 885 1102 886 1095 888 1087 893 1081 898 1078ZM902 1085 900 1089 899 1100 900 1108 902 1113 904 1108 904 1100 904 1090 902 1085ZM898 1107 896 1110 895 1116 896 1122 897 1124 899 1116 898 1107ZM1175 1080 1182 1079 1188 1082 1200 1095 1208 1101 1211 1106 1214 1114 1219 1152 1222 1160 1233 1176 1236 1188 1236 1196 1232 1208 1236 1216 1235 1220 1232 1222 1229 1223 1218 1219 1216 1219 1212 1222 1210 1228 1206 1245 1215 1262 1215 1268 1213 1274 1208 1280 1200 1285 1192 1288 1182 1289 1169 1287 1158 1282 1150 1275 1147 1269 1147 1264 1148 1248 1145 1220 1145 1155 1145 1132 1147 1118 1150 1106 1156 1096 1165 1086 1175 1080ZM1180 1090 1175 1092 1169 1096 1158 1108 1151 1122 1149 1136 1147 1185 1150 1222 1151 1227 1154 1231 1158 1234 1164 1236 1182 1235 1193 1231 1199 1226 1205 1215 1226 1200 1229 1196 1231 1190 1231 1184 1229 1176 1216 1155 1213 1128 1207 1112 1203 1106 1193 1095 1186 1091 1180 1090ZM1057 1088 1064 1087 1070 1089 1072 1092 1071 1096 1068 1098 1058 1099 1054 1100 1051 1098 1051 1094 1054 1090 1057 1088ZM1054 1095 1054 1097 1055 1098 1055 1095 1054 1095ZM979 1089 982 1088 984 1090 987 1096 986 1105 984 1108 982 1110 978 1107 975 1101 976 1094 979 1089ZM206 1092 209 1091 214 1095 218 1104 222 1114 220 1121 212 1130 209 1131 206 1130 202 1125 199 1114 201 1101 203 1095 206 1092ZM215 1112 214 1114 214 1118 216 1120 219 1118 220 1114 218 1112 215 1112ZM726 1092 730 1091 732 1092 737 1097 741 1106 744 1118 745 1136 743 1150 740 1164 737 1168 730 1166 722 1168 720 1168 718 1162 715 1150 714 1130 716 1112 720 1100 724 1094 726 1092ZM728 1102 724 1106 721 1112 719 1120 719 1129 722 1145 725 1149 730 1151 734 1149 737 1143 739 1136 739 1125 738 1114 736 1107 732 1103 728 1102ZM143 1095 149 1094 155 1098 159 1104 160 1112 159 1118 156 1124 143 1133 140 1132 138 1126 136 1112 138 1101 140 1097 143 1095ZM142 1105 139 1110 138 1119 140 1126 142 1129 143 1129 146 1124 146 1114 144 1107 143 1105 142 1105ZM929 1095 932 1095 934 1098 933 1101 930 1103 928 1102 926 1100 927 1096 929 1095ZM444 1102 446 1102 449 1107 452 1126 456 1115 458 1113 461 1112 484 1117 491 1125 493 1132 490 1149 487 1159 482 1164 478 1165 472 1165 460 1159 456 1154 452 1139 446 1153 443 1154 442 1153 439 1146 439 1136 442 1111 444 1102ZM444 1113 442 1124 441 1137 442 1146 443 1149 444 1149 448 1144 449 1131 448 1118 446 1114 444 1113ZM459 1120 456 1124 454 1134 455 1144 457 1152 460 1156 464 1157 470 1161 474 1162 480 1161 484 1159 487 1154 488 1148 488 1143 479 1137 476 1125 474 1123 472 1122 466 1123 459 1120ZM1385 1112 1392 1113 1403 1121 1412 1120 1415 1124 1417 1128 1417 1132 1415 1135 1408 1139 1400 1148 1394 1152 1386 1154 1380 1157 1376 1153 1374 1153 1362 1155 1354 1152 1349 1155 1344 1150 1338 1148 1336 1149 1329 1156 1320 1159 1313 1157 1308 1154 1306 1142 1307 1136 1313 1122 1318 1117 1320 1116 1325 1116 1334 1123 1341 1118 1344 1116 1355 1119 1370 1118 1385 1112ZM1319 1128 1314 1131 1311 1137 1309 1152 1313 1156 1322 1157 1326 1156 1330 1154 1331 1150 1332 1142 1331 1136 1326 1129 1324 1128 1319 1128ZM1349 1129 1347 1132 1346 1140 1347 1148 1349 1151 1351 1149 1352 1140 1351 1131 1349 1129ZM1380 1124 1378 1130 1377 1138 1378 1148 1380 1153 1382 1153 1384 1149 1386 1138 1384 1126 1382 1124 1380 1124ZM981 1122 984 1121 989 1125 996 1124 1002 1127 1008 1134 1011 1143 1011 1156 1007 1168 1001 1175 990 1179 983 1179 976 1176 970 1170 965 1160 964 1159 962 1164 960 1166 958 1160 958 1137 960 1125 960 1124 962 1126 965 1143 969 1136 978 1127 981 1122ZM983 1126 981 1130 980 1136 981 1143 983 1146 984 1146 986 1143 987 1136 986 1128 984 1126 983 1126ZM960 1133 960 1143 960 1154 962 1143 960 1133ZM585 1146 586 1145 587 1145 590 1149 591 1154 588 1156 586 1152 585 1146ZM595 1156 599 1156 605 1161 609 1168 611 1176 611 1191 609 1206 605 1216 602 1218 599 1216 598 1213 594 1196 593 1167 594 1160 595 1156ZM1512 1204 1516 1203 1518 1204 1522 1206 1524 1211 1527 1222 1525 1232 1521 1234 1518 1235 1512 1233 1505 1230 1499 1233 1496 1232 1494 1228 1492 1221 1493 1214 1495 1208 1499 1205 1506 1209 1512 1204ZM462 1206 462 1205 464 1205 466 1210 465 1216 462 1218 460 1214 460 1209 462 1206ZM462 1208 462 1212 462 1215 464 1212 464 1209 462 1208ZM1262 1209 1265 1208 1268 1209 1271 1213 1273 1218 1273 1232 1271 1236 1268 1240 1264 1236 1259 1237 1256 1230 1255 1222 1257 1216 1259 1212 1262 1209Z"/>
<path fill-rule="evenodd" fill="#2dac46" d="M268 1044 271 1042 275 1042 270 1053 270 1058 274 1066 276 1081 280 1068 287 1065 290 1067 291 1065 293 1054 291 1042 293 1042 293 1044 296 1046 303 1048 309 1058 314 1059 317 1059 320 1057 323 1046 325 1042 354 1042 364 1047 386 1048 387 1050 374 1058 369 1065 369 1070 373 1080 371 1094 373 1113 374 1132 372 1143 366 1150 359 1154 354 1154 346 1150 332 1154 323 1149 322 1149 317 1155 314 1157 308 1153 299 1155 296 1153 287 1141 281 1136 275 1134 251 1132 248 1130 240 1121 233 1118 228 1118 224 1121 219 1128 214 1139 211 1141 206 1140 198 1134 196 1130 192 1108 196 1082 201 1065 199 1053 200 1050 203 1048 210 1048 215 1048 218 1050 219 1053 215 1070 216 1078 221 1093 224 1098 227 1100 230 1094 232 1082 231 1068 227 1053 228 1050 230 1048 233 1048 234 1068 237 1074 240 1077 244 1074 247 1068 248 1048 250 1047 263 1047 268 1044ZM292 1071 283 1076 282 1077 283 1078 295 1083 303 1080 304 1076 302 1072 296 1070 292 1071ZM335 1043 331 1046 329 1048 325 1059 322 1065 318 1067 314 1068 312 1070 306 1092 304 1096 298 1094 288 1087 284 1085 278 1085 276 1083 274 1086 270 1086 260 1078 257 1077 251 1081 248 1084 247 1089 247 1102 246 1113 248 1120 252 1126 257 1130 264 1130 270 1128 278 1123 283 1124 287 1126 292 1137 296 1143 300 1144 305 1142 306 1143 311 1149 314 1152 317 1150 322 1141 323 1141 329 1146 334 1147 338 1145 347 1139 350 1139 358 1142 362 1140 365 1134 366 1128 366 1119 365 1110 360 1100 353 1094 348 1076 348 1070 353 1059 353 1053 351 1048 346 1044 340 1043 335 1043ZM206 1092 203 1095 201 1101 199 1114 202 1125 206 1130 209 1131 212 1130 220 1121 222 1114 218 1104 214 1095 209 1091 206 1092ZM266 1068 264 1070 264 1073 269 1077 272 1077 273 1076 272 1072 269 1069 266 1068ZM278 1042 289 1042 287 1047 280 1045 278 1042ZM432 1044 438 1043 449 1046 458 1042 464 1042 467 1044 471 1048 473 1053 474 1071 479 1084 480 1084 491 1078 497 1065 500 1064 504 1070 505 1082 504 1086 502 1092 488 1104 485 1104 480 1102 479 1102 480 1107 488 1114 494 1122 498 1132 497 1137 489 1160 485 1166 480 1168 474 1169 470 1169 460 1163 456 1160 452 1150 450 1150 447 1156 444 1160 442 1158 440 1155 438 1148 437 1140 440 1098 436 1082 432 1074 428 1069 419 1064 410 1055 401 1050 403 1048 424 1048 432 1044ZM444 1102 442 1111 439 1134 439 1144 442 1153 443 1154 446 1153 452 1139 456 1154 460 1159 472 1165 478 1165 482 1164 486 1159 490 1149 493 1132 491 1125 484 1117 461 1112 458 1113 456 1115 452 1126 449 1107 446 1102 444 1102ZM1287 1044 1288 1042 1292 1043 1295 1056 1297 1072 1296 1101 1294 1117 1292 1121 1290 1120 1288 1114 1284 1090 1284 1064 1287 1044ZM1431 1047 1434 1047 1438 1048 1439 1052 1438 1054 1433 1056 1428 1054 1428 1050 1431 1047ZM1307 1048 1308 1048 1312 1050 1316 1062 1316 1072 1312 1086 1312 1090 1316 1107 1318 1110 1334 1115 1344 1110 1356 1113 1368 1112 1384 1105 1390 1105 1402 1112 1414 1112 1420 1116 1423 1122 1425 1130 1425 1136 1422 1140 1418 1144 1396 1157 1382 1160 1376 1158 1361 1159 1354 1157 1349 1158 1337 1155 1326 1160 1320 1161 1313 1159 1308 1156 1306 1154 1302 1147 1294 1137 1293 1131 1294 1127 1296 1126 1300 1122 1301 1116 1299 1074 1302 1058 1307 1048ZM1386 1111 1370 1118 1355 1119 1344 1116 1341 1118 1334 1123 1325 1116 1320 1116 1318 1117 1313 1122 1307 1136 1306 1142 1308 1154 1313 1157 1320 1159 1329 1156 1336 1149 1338 1148 1344 1150 1349 1155 1353 1152 1362 1155 1374 1153 1376 1153 1380 1157 1387 1154 1394 1152 1400 1148 1408 1139 1415 1135 1417 1132 1417 1128 1415 1124 1412 1120 1403 1121 1392 1113 1386 1111ZM1398 1048 1403 1047 1408 1047 1411 1048 1413 1052 1412 1053 1409 1055 1400 1055 1397 1054 1396 1052 1398 1048ZM522 1050 527 1050 532 1053 534 1060 536 1070 536 1077 534 1083 530 1086 526 1087 521 1086 517 1084 515 1082 513 1076 513 1066 515 1059 518 1053 522 1050ZM575 1050 575 1049 576 1051 577 1054 578 1071 575 1082 574 1077 572 1060 575 1050ZM845 1056 846 1056 848 1057 849 1060 847 1078 847 1089 849 1096 855 1112 856 1119 854 1150 852 1171 849 1183 848 1186 845 1189 842 1186 839 1178 837 1120 832 1100 830 1088 831 1072 833 1067 836 1064 845 1056ZM606 1060 608 1061 610 1065 611 1076 610 1088 608 1091 606 1092 605 1090 602 1081 596 1083 590 1082 584 1077 582 1071 584 1066 588 1063 594 1062 604 1064 606 1060ZM606 1067 605 1076 606 1084 608 1083 609 1076 608 1068 606 1067ZM626 1062 628 1061 629 1062 632 1070 631 1076 628 1079 624 1078 623 1072 623 1066 626 1062ZM547 1066 550 1066 552 1067 555 1070 557 1074 556 1083 554 1086 551 1088 545 1086 541 1080 542 1072 547 1066ZM921 1066 924 1066 929 1068 940 1083 941 1082 947 1070 950 1069 952 1070 956 1079 958 1089 960 1104 958 1116 960 1119 965 1123 970 1123 972 1121 976 1116 975 1112 972 1106 971 1101 971 1092 974 1086 977 1083 980 1082 984 1082 988 1084 990 1089 992 1095 991 1113 1020 1138 1024 1140 1028 1140 1030 1142 1032 1160 1034 1166 1036 1166 1043 1156 1048 1142 1049 1142 1052 1148 1056 1156 1058 1173 1055 1186 1048 1197 1038 1201 1031 1200 1026 1197 1018 1188 1013 1186 992 1193 966 1193 953 1197 947 1198 935 1192 928 1179 926 1180 920 1186 913 1184 905 1178 902 1173 899 1167 900 1149 887 1135 881 1122 880 1104 881 1088 885 1077 888 1073 893 1070 899 1068 912 1070 921 1066ZM929 1095 927 1096 926 1100 928 1102 930 1103 933 1101 934 1098 932 1095 929 1095ZM938 1102 934 1107 930 1117 928 1119 922 1119 918 1120 913 1132 912 1138 913 1143 919 1149 926 1152 932 1152 936 1149 941 1143 943 1136 945 1124 945 1113 941 1102 940 1101 938 1102ZM980 1089 976 1094 975 1101 978 1107 982 1110 984 1108 986 1106 987 1098 985 1090 983 1089 980 1089ZM899 1078 893 1081 889 1086 886 1094 885 1102 886 1112 888 1120 892 1125 898 1130 904 1128 908 1123 912 1112 914 1101 913 1092 910 1086 902 1078 899 1078ZM981 1122 978 1127 969 1136 965 1143 962 1127 960 1124 960 1125 958 1137 958 1160 960 1166 962 1164 964 1159 965 1160 970 1170 976 1176 983 1179 990 1179 1001 1175 1007 1168 1011 1156 1011 1143 1008 1134 1003 1127 996 1124 989 1125 984 1121 981 1122ZM1174 1066 1182 1066 1190 1069 1195 1076 1200 1089 1210 1096 1214 1101 1217 1114 1219 1143 1221 1152 1226 1161 1236 1173 1239 1179 1242 1185 1244 1198 1246 1203 1248 1205 1252 1206 1261 1200 1265 1199 1268 1200 1271 1203 1275 1209 1278 1224 1277 1236 1273 1254 1275 1272 1274 1278 1271 1283 1270 1284 1267 1284 1264 1279 1259 1284 1258 1284 1247 1275 1244 1273 1240 1274 1232 1278 1217 1293 1208 1300 1196 1306 1184 1308 1172 1307 1162 1303 1146 1292 1140 1289 1138 1284 1134 1268 1134 1232 1130 1178 1136 1122 1139 1104 1140 1102 1144 1102 1148 1089 1156 1080 1164 1072 1174 1066ZM1175 1080 1165 1086 1156 1096 1150 1106 1147 1118 1145 1132 1145 1155 1145 1220 1148 1248 1147 1264 1147 1269 1150 1275 1158 1282 1169 1287 1182 1289 1192 1288 1200 1285 1208 1280 1213 1274 1215 1268 1215 1262 1206 1245 1210 1228 1212 1222 1216 1219 1218 1219 1229 1223 1232 1222 1235 1220 1236 1216 1232 1208 1236 1196 1236 1188 1233 1176 1222 1160 1219 1152 1214 1114 1211 1106 1208 1101 1200 1095 1188 1082 1182 1079 1175 1080ZM1262 1209 1259 1212 1257 1216 1255 1222 1256 1230 1259 1237 1264 1236 1268 1240 1271 1236 1273 1232 1273 1218 1271 1213 1268 1209 1265 1208 1262 1209ZM728 1071 736 1073 743 1080 750 1096 753 1112 751 1134 752 1150 750 1167 744 1187 742 1192 738 1194 730 1186 726 1187 720 1194 718 1193 714 1188 711 1179 707 1156 707 1128 703 1095 707 1087 713 1083 719 1076 724 1072 728 1071ZM726 1092 724 1094 720 1100 716 1112 714 1130 715 1150 718 1162 720 1168 722 1168 730 1166 737 1168 740 1164 743 1150 745 1135 744 1118 741 1106 737 1097 732 1092 730 1091 726 1092ZM1084 1071 1086 1076 1085 1083 1084 1083 1083 1078 1083 1072 1084 1071ZM1100 1074 1100 1073 1101 1076 1100 1079 1100 1074ZM409 1078 413 1078 414 1080 413 1084 410 1090 406 1091 399 1088 398 1084 400 1083 409 1078ZM1020 1078 1028 1079 1034 1083 1036 1086 1036 1089 1032 1094 1028 1097 1020 1097 1016 1096 1012 1093 1010 1089 1010 1084 1014 1081 1020 1078ZM139 1082 150 1081 164 1084 167 1086 168 1092 167 1126 166 1135 164 1136 152 1139 142 1139 134 1134 129 1126 126 1114 127 1100 132 1086 139 1082ZM144 1095 142 1096 138 1100 136 1110 138 1126 140 1132 143 1133 156 1124 158 1119 160 1113 159 1104 155 1098 150 1095 144 1095ZM698 1082 700 1080 700 1082 702 1089 702 1098 700 1102 698 1100 697 1094 698 1082ZM1058 1082 1068 1082 1076 1086 1078 1092 1077 1096 1075 1100 1068 1102 1054 1102 1044 1096 1042 1092 1044 1089 1050 1084 1058 1082ZM1058 1087 1054 1090 1051 1094 1051 1098 1054 1100 1058 1099 1068 1098 1071 1096 1072 1092 1070 1089 1064 1087 1058 1087ZM768 1089 772 1088 774 1089 778 1092 779 1096 779 1107 776 1111 773 1112 768 1112 765 1110 762 1107 760 1102 762 1095 764 1092 768 1089ZM1547 1095 1548 1094 1551 1095 1552 1099 1550 1100 1547 1099 1546 1096 1547 1095ZM1428 1102 1429 1112 1428 1129 1427 1120 1428 1102ZM1529 1125 1530 1125 1532 1129 1534 1145 1537 1146 1557 1149 1559 1150 1554 1152 1529 1156 1523 1154 1466 1153 1449 1152 1444 1150 1445 1149 1455 1148 1524 1145 1526 1143 1527 1131 1529 1125ZM584 1137 592 1140 602 1149 611 1161 615 1172 616 1190 614 1220 610 1236 608 1239 605 1241 599 1240 594 1238 591 1234 589 1227 587 1203 586 1172 581 1148 582 1140 584 1137ZM586 1145 585 1152 588 1156 591 1154 590 1149 588 1146 586 1145ZM596 1156 594 1160 593 1164 594 1194 597 1212 599 1216 602 1218 605 1216 609 1206 611 1191 611 1176 610 1169 606 1163 600 1156 598 1155 596 1156ZM429 1196 431 1195 434 1197 438 1211 444 1270 443 1284 441 1296 437 1304 432 1306 428 1304 425 1298 422 1287 421 1275 423 1218 425 1205 429 1196ZM462 1196 464 1195 467 1198 471 1212 474 1263 473 1275 471 1284 468 1290 464 1293 460 1290 456 1284 455 1276 454 1266 454 1220 458 1203 462 1196ZM462 1205 460 1209 460 1212 460 1215 462 1218 465 1216 466 1212 465 1208 464 1205 462 1205ZM1512 1196 1517 1196 1522 1198 1526 1202 1530 1209 1533 1226 1532 1246 1539 1260 1539 1264 1536 1269 1530 1272 1523 1274 1514 1275 1506 1274 1498 1271 1492 1268 1487 1262 1481 1238 1481 1229 1482 1221 1493 1200 1498 1196 1506 1197 1512 1196ZM1513 1204 1506 1209 1499 1205 1495 1208 1493 1214 1492 1221 1494 1228 1496 1232 1499 1233 1505 1230 1512 1233 1518 1235 1522 1234 1525 1232 1527 1222 1524 1211 1522 1206 1518 1204 1513 1204ZM344 1206 346 1205 348 1208 350 1220 349 1234 347 1241 346 1243 342 1238 341 1226 342 1214 344 1206ZM1316 1206 1318 1205 1321 1208 1324 1221 1323 1238 1322 1242 1319 1244 1316 1243 1314 1239 1311 1230 1312 1216 1313 1211 1316 1206ZM1297 1208 1300 1209 1302 1218 1301 1226 1298 1232 1296 1231 1295 1227 1294 1221 1295 1212 1297 1208ZM345 1250 347 1252 349 1263 348 1272 346 1276 343 1272 342 1264 343 1256 345 1250Z"/>
<path fill-rule="evenodd" fill="#6ec832" d="M122 1042 271 1042 263 1047 250 1047 248 1048 247 1068 244 1074 240 1077 237 1074 234 1068 233 1048 230 1048 228 1050 227 1053 231 1068 232 1082 230 1094 227 1100 224 1098 221 1093 216 1078 215 1070 219 1053 218 1050 215 1048 210 1048 203 1048 200 1050 199 1053 201 1065 196 1080 192 1107 196 1130 197 1133 203 1138 208 1141 210 1141 214 1139 219 1128 224 1121 228 1118 234 1118 240 1121 248 1130 251 1132 274 1133 280 1135 287 1141 298 1154 300 1155 308 1153 314 1157 317 1155 322 1149 323 1149 332 1154 346 1150 356 1154 360 1154 368 1149 372 1142 373 1125 371 1092 373 1080 369 1070 369 1065 371 1060 374 1057 387 1050 386 1048 383 1048 362 1047 354 1042 458 1042 449 1046 440 1043 436 1043 424 1048 403 1048 401 1050 410 1055 419 1064 428 1069 432 1074 436 1082 439 1092 440 1101 437 1144 439 1152 441 1158 443 1159 446 1158 450 1150 452 1150 458 1162 467 1168 472 1169 480 1168 486 1164 491 1156 498 1134 497 1128 494 1122 488 1114 480 1107 479 1102 480 1102 485 1104 488 1104 500 1094 504 1086 505 1077 503 1068 502 1066 499 1064 496 1067 491 1078 480 1084 479 1084 475 1071 472 1052 468 1046 464 1042 535 1042 552 1047 554 1048 556 1054 560 1057 563 1055 569 1048 570 1042 580 1042 582 1053 584 1057 596 1057 602 1057 606 1054 608 1055 611 1059 617 1061 620 1060 624 1056 628 1055 630 1056 635 1060 638 1061 696 1060 730 1056 754 1060 774 1061 778 1062 779 1065 779 1078 784 1095 784 1104 782 1114 779 1120 776 1122 764 1126 760 1129 758 1132 757 1140 762 1149 763 1154 762 1173 758 1192 752 1210 742 1230 736 1246 732 1250 730 1252 726 1251 724 1247 716 1228 707 1212 701 1197 697 1178 696 1160 697 1134 695 1124 698 1123 700 1118 698 1113 696 1113 694 1116 691 1104 688 1096 684 1094 682 1094 678 1095 676 1100 674 1100 670 1091 660 1085 652 1082 640 1080 635 1081 628 1085 620 1084 617 1085 612 1088 606 1098 599 1098 593 1094 588 1092 586 1092 582 1096 578 1113 578 1124 580 1130 581 1131 590 1135 598 1137 600 1139 619 1168 622 1176 623 1184 623 1212 621 1234 613 1269 603 1322 606 1389 605 1443 600 1490 598 1501 596 1503 594 1503 592 1497 588 1482 585 1437 584 1384 587 1320 581 1292 576 1266 569 1251 566 1238 568 1210 570 1199 576 1184 577 1173 575 1154 575 1130 575 1118 568 1085 564 1083 556 1092 552 1093 539 1089 526 1092 512 1088 508 1090 495 1106 493 1110 494 1114 503 1136 504 1142 488 1168 482 1173 473 1175 467 1174 462 1172 456 1166 452 1159 450 1159 444 1166 442 1165 439 1162 436 1154 435 1146 438 1113 437 1098 432 1083 430 1079 426 1077 424 1078 420 1081 413 1098 410 1102 407 1102 401 1101 386 1095 383 1096 382 1098 380 1102 379 1113 379 1138 378 1146 375 1152 368 1161 364 1164 359 1166 354 1165 344 1160 332 1164 322 1158 316 1164 314 1165 308 1162 302 1166 298 1166 293 1162 289 1149 282 1141 276 1138 270 1136 248 1135 245 1134 239 1126 233 1124 228 1124 224 1127 220 1134 215 1146 212 1149 209 1148 199 1143 196 1140 191 1121 188 1116 186 1117 185 1122 181 1143 179 1145 178 1145 176 1140 176 1107 175 1098 173 1093 171 1095 169 1106 168 1148 166 1150 143 1150 140 1154 138 1202 134 1217 132 1221 130 1224 127 1222 125 1219 122 1207 122 1042ZM140 1081 136 1083 132 1086 127 1098 126 1113 129 1126 134 1134 142 1139 152 1139 164 1136 166 1135 167 1126 168 1092 167 1086 164 1084 152 1081 140 1081ZM240 1050 238 1053 236 1060 238 1067 240 1071 244 1068 245 1060 244 1053 240 1050ZM410 1078 400 1083 398 1084 399 1088 406 1091 410 1090 414 1082 413 1078 410 1078ZM522 1050 518 1053 515 1058 513 1065 513 1074 514 1080 516 1083 520 1086 526 1087 530 1086 534 1083 536 1077 536 1070 534 1060 532 1053 527 1050 522 1050ZM548 1066 543 1071 541 1078 543 1083 545 1086 551 1088 554 1086 556 1083 557 1075 554 1068 551 1066 548 1066ZM575 1049 574 1052 572 1060 574 1077 575 1082 578 1071 577 1054 576 1051 575 1049ZM606 1060 604 1064 594 1062 588 1063 584 1066 582 1071 584 1077 590 1082 596 1083 602 1081 605 1090 606 1092 608 1091 610 1088 611 1076 610 1065 608 1061 606 1060ZM626 1062 623 1066 623 1072 624 1078 628 1079 631 1076 632 1070 630 1063 629 1062 626 1062ZM698 1081 697 1094 698 1100 700 1102 702 1098 702 1090 700 1082 700 1080 698 1081ZM728 1071 724 1072 719 1076 713 1083 707 1087 703 1095 707 1128 707 1155 711 1178 714 1188 718 1193 720 1194 726 1187 730 1186 738 1194 742 1192 744 1187 750 1167 752 1150 751 1134 753 1112 750 1096 743 1080 736 1073 728 1071ZM768 1089 764 1092 762 1095 760 1102 762 1107 765 1110 769 1112 773 1112 776 1111 779 1107 779 1096 778 1092 775 1089 768 1089ZM584 1137 582 1140 581 1148 586 1172 587 1203 589 1227 592 1234 594 1238 599 1240 605 1241 608 1239 610 1236 614 1220 616 1190 615 1172 611 1161 602 1149 592 1140 584 1137ZM293 1042 325 1042 323 1046 320 1057 316 1059 309 1058 303 1048 294 1045 293 1042ZM834 1044 835 1042 856 1042 859 1059 852 1077 851 1086 852 1094 856 1100 862 1106 864 1105 868 1103 872 1093 874 1094 874 1100 873 1119 870 1138 869 1176 868 1192 862 1193 846 1213 842 1216 838 1217 832 1215 827 1209 823 1197 821 1182 823 1160 830 1142 832 1134 831 1120 826 1104 825 1090 826 1059 828 1052 834 1044ZM845 1056 836 1064 833 1067 831 1072 830 1088 832 1100 837 1120 839 1178 842 1186 845 1189 848 1186 850 1183 852 1171 854 1150 856 1120 855 1112 849 1096 847 1089 847 1078 849 1060 848 1057 845 1056ZM946 1044 947 1042 952 1042 954 1046 961 1058 963 1071 965 1074 970 1077 982 1076 992 1079 996 1078 1010 1073 1025 1070 1030 1066 1032 1062 1040 1061 1085 1062 1092 1065 1097 1070 1100 1067 1102 1071 1103 1077 1102 1082 1100 1084 1096 1078 1090 1081 1080 1100 1076 1103 1064 1104 1040 1103 1037 1099 1034 1103 1020 1105 1010 1110 1006 1113 1006 1116 1007 1119 1012 1125 1020 1129 1030 1131 1032 1132 1034 1147 1036 1149 1041 1143 1043 1135 1045 1132 1070 1134 1073 1136 1080 1149 1087 1179 1079 1197 1078 1198 1073 1196 1067 1197 1060 1195 1056 1196 1053 1200 1048 1211 1043 1214 1032 1215 1025 1213 1016 1208 1013 1209 1012 1214 1013 1240 1018 1266 1019 1275 1016 1300 1015 1336 1013 1360 1010 1379 1006 1388 1002 1388 1001 1386 996 1372 994 1347 992 1312 990 1305 986 1303 960 1305 936 1302 935 1304 934 1312 934 1389 932 1426 930 1402 929 1314 928 1302 928 1299 916 1291 908 1282 904 1274 902 1263 904 1252 907 1240 911 1230 917 1221 918 1221 920 1225 923 1247 924 1249 926 1250 929 1247 933 1230 933 1210 930 1201 928 1196 926 1197 920 1207 918 1208 881 1194 880 1180 880 1138 878 1090 880 1065 881 1061 894 1058 908 1057 918 1053 924 1052 934 1056 936 1065 938 1069 940 1068 941 1064 940 1053 946 1044ZM966 1108 963 1110 962 1114 964 1119 966 1120 971 1118 973 1114 971 1110 966 1108ZM1020 1078 1014 1081 1010 1084 1010 1089 1012 1093 1016 1096 1020 1097 1028 1097 1032 1094 1036 1089 1036 1086 1034 1083 1028 1079 1020 1078ZM1060 1081 1052 1083 1045 1088 1042 1092 1044 1096 1054 1102 1068 1102 1075 1100 1078 1094 1078 1089 1076 1086 1068 1082 1060 1081ZM1085 1071 1084 1071 1083 1074 1084 1083 1085 1083 1086 1080 1085 1071ZM1100 1073 1100 1079 1100 1073ZM922 1066 912 1070 899 1068 893 1070 888 1073 885 1077 881 1088 880 1104 881 1122 887 1135 900 1149 899 1167 902 1173 905 1178 913 1184 920 1186 926 1180 928 1179 935 1192 947 1198 953 1197 966 1193 992 1193 1013 1186 1018 1188 1026 1197 1031 1200 1038 1201 1048 1197 1055 1186 1058 1173 1056 1156 1052 1148 1049 1142 1048 1142 1043 1156 1036 1166 1034 1166 1032 1160 1030 1142 1028 1140 1024 1140 1020 1138 991 1113 992 1095 990 1089 988 1084 984 1082 980 1082 977 1083 974 1086 971 1092 971 1101 972 1106 975 1112 976 1116 972 1121 970 1123 965 1123 960 1119 958 1116 960 1104 958 1089 956 1079 952 1070 950 1069 947 1070 941 1082 940 1083 930 1070 926 1067 922 1066ZM966 1213 964 1216 962 1220 960 1233 962 1239 965 1241 968 1241 971 1241 973 1238 974 1227 973 1220 972 1215 970 1213 966 1213ZM990 1209 986 1210 983 1214 984 1218 988 1223 989 1223 990 1221 992 1215 993 1210 990 1209ZM1217 1042 1222 1042 1223 1052 1223 1079 1219 1100 1221 1140 1223 1152 1228 1160 1246 1176 1254 1188 1258 1190 1268 1192 1274 1197 1277 1203 1281 1212 1284 1232 1285 1245 1282 1276 1278 1287 1268 1297 1267 1302 1268 1389 1265 1503 1261 1503 1258 1410 1256 1400 1248 1422 1241 1436 1222 1460 1207 1482 1199 1491 1190 1497 1181 1497 1173 1492 1166 1484 1161 1474 1158 1464 1151 1425 1141 1384 1138 1364 1135 1314 1126 1275 1126 1266 1130 1250 1131 1233 1130 1206 1125 1178 1132 1136 1136 1088 1137 1065 1139 1052 1140 1049 1142 1051 1145 1060 1148 1064 1162 1053 1172 1047 1184 1045 1194 1048 1201 1053 1210 1069 1214 1089 1215 1086 1217 1042ZM1175 1066 1166 1071 1157 1078 1148 1089 1144 1102 1140 1102 1139 1104 1136 1122 1130 1178 1134 1232 1134 1268 1138 1284 1140 1289 1146 1292 1162 1303 1172 1307 1184 1308 1196 1306 1208 1300 1217 1293 1232 1278 1240 1274 1244 1273 1247 1275 1258 1284 1259 1284 1264 1279 1267 1284 1270 1284 1271 1283 1274 1278 1275 1272 1273 1254 1277 1238 1278 1226 1275 1210 1272 1205 1270 1201 1266 1200 1262 1200 1252 1206 1248 1205 1246 1203 1244 1198 1242 1185 1239 1179 1236 1173 1226 1161 1221 1152 1219 1143 1217 1114 1214 1101 1210 1096 1200 1089 1194 1076 1190 1069 1184 1066 1175 1066ZM1256 1301 1255 1304 1255 1308 1256 1314 1258 1314 1258 1304 1258 1301 1256 1301ZM1283 1042 1288 1042 1284 1061 1284 1089 1288 1114 1290 1120 1292 1121 1296 1102 1298 1076 1296 1058 1292 1042 1317 1042 1324 1076 1332 1090 1336 1093 1340 1092 1346 1082 1348 1082 1355 1088 1366 1091 1373 1091 1390 1088 1392 1090 1403 1106 1406 1107 1418 1108 1426 1115 1428 1095 1431 1124 1438 1136 1439 1138 1438 1143 1446 1144 1480 1145 1523 1143 1525 1122 1528 1118 1529 1118 1533 1125 1536 1143 1568 1146 1568 1154 1536 1156 1529 1160 1527 1158 1523 1157 1452 1156 1436 1154 1420 1154 1409 1156 1396 1164 1388 1166 1374 1164 1360 1164 1337 1160 1324 1164 1314 1163 1300 1154 1290 1151 1286 1143 1285 1136 1285 1118 1278 1080 1279 1065 1283 1042ZM1307 1048 1304 1052 1302 1058 1299 1074 1301 1116 1300 1122 1296 1126 1294 1127 1293 1131 1294 1137 1302 1147 1306 1154 1308 1156 1313 1159 1320 1161 1326 1160 1337 1155 1349 1158 1354 1157 1361 1159 1376 1158 1382 1160 1396 1157 1418 1144 1422 1140 1425 1136 1425 1130 1423 1122 1420 1116 1414 1112 1402 1112 1390 1105 1384 1105 1368 1112 1356 1113 1344 1110 1334 1115 1318 1110 1316 1107 1312 1090 1312 1086 1316 1072 1316 1062 1312 1050 1310 1048 1307 1048ZM1325 1099 1324 1102 1325 1104 1328 1105 1331 1104 1329 1101 1325 1099ZM1428 1101 1427 1119 1428 1129 1429 1118 1428 1101ZM1529 1125 1527 1131 1526 1143 1524 1145 1455 1148 1445 1149 1444 1150 1449 1152 1466 1153 1523 1154 1529 1156 1554 1152 1559 1150 1557 1149 1536 1146 1534 1145 1532 1129 1530 1125 1529 1125ZM1395 1044 1433 1043 1553 1044 1566 1046 1567 1047 1567 1052 1566 1054 1561 1056 1522 1057 1516 1056 1522 1053 1523 1052 1522 1050 1517 1048 1508 1047 1502 1048 1497 1050 1497 1052 1497 1053 1504 1056 1500 1056 1403 1058 1392 1056 1388 1054 1387 1053 1387 1047 1389 1046 1395 1044ZM1398 1048 1396 1052 1397 1054 1400 1055 1409 1055 1412 1053 1413 1052 1411 1048 1408 1047 1398 1048ZM1431 1047 1428 1050 1428 1054 1433 1056 1438 1054 1439 1052 1438 1048 1434 1047 1431 1047ZM872 1064 872 1070 872 1064ZM265 1068 268 1068 271 1071 273 1074 272 1077 269 1077 264 1073 264 1071 265 1068ZM291 1071 296 1070 300 1071 304 1076 304 1080 301 1082 294 1083 283 1078 282 1077 283 1076 291 1071ZM1547 1092 1550 1092 1553 1094 1555 1098 1552 1101 1547 1102 1544 1100 1544 1095 1547 1092ZM1547 1095 1546 1096 1547 1099 1550 1100 1552 1099 1551 1095 1548 1094 1547 1095ZM937 1102 940 1101 941 1102 944 1112 945 1122 943 1136 941 1143 936 1149 932 1152 926 1152 919 1149 913 1143 912 1138 913 1132 918 1120 922 1119 928 1119 930 1117 934 1107 937 1102ZM938 1109 935 1113 932 1124 924 1126 922 1128 920 1131 920 1136 921 1140 923 1143 926 1145 930 1145 934 1143 941 1129 942 1122 942 1116 941 1111 938 1109ZM796 1152 797 1151 798 1151 800 1154 802 1167 800 1185 798 1190 797 1191 795 1185 793 1173 794 1160 796 1152ZM1100 1176 1102 1178 1103 1184 1102 1188 1100 1190 1099 1184 1100 1176ZM429 1180 432 1180 436 1183 443 1204 448 1209 450 1208 452 1206 460 1187 462 1184 466 1184 471 1194 477 1221 480 1266 472 1330 472 1478 471 1494 468 1503 135 1503 129 1492 127 1478 126 1425 128 1400 130 1397 131 1398 139 1413 146 1420 149 1421 152 1420 158 1413 163 1402 167 1384 171 1362 174 1322 175 1316 178 1313 180 1313 184 1318 191 1356 194 1364 198 1368 202 1368 206 1362 210 1353 215 1334 216 1330 218 1330 222 1372 226 1395 233 1417 242 1433 250 1439 254 1441 258 1441 266 1437 274 1429 282 1413 288 1392 292 1365 295 1314 307 1278 307 1264 304 1236 305 1225 310 1218 312 1216 313 1218 314 1264 316 1280 319 1284 320 1285 322 1284 323 1280 324 1267 324 1216 325 1209 329 1204 340 1201 344 1196 347 1196 352 1201 365 1204 378 1213 384 1212 387 1215 387 1226 384 1237 383 1236 380 1231 378 1230 377 1232 374 1240 371 1260 369 1288 368 1320 371 1357 376 1380 377 1383 378 1384 380 1383 383 1377 386 1361 390 1309 392 1304 396 1299 399 1288 399 1269 397 1222 398 1214 401 1210 413 1209 418 1207 426 1185 429 1180ZM430 1195 425 1205 423 1218 421 1275 422 1287 425 1298 428 1304 432 1306 437 1304 441 1296 443 1284 444 1270 438 1211 434 1197 432 1195 430 1195ZM462 1195 458 1202 454 1218 454 1266 455 1276 456 1284 460 1290 464 1293 468 1290 471 1284 473 1275 474 1263 471 1212 467 1198 465 1196 462 1195ZM344 1206 342 1214 341 1226 342 1238 346 1243 347 1241 349 1234 350 1220 348 1208 346 1205 344 1206ZM346 1249 343 1254 342 1263 343 1272 346 1276 348 1272 349 1263 348 1254 346 1249ZM1498 1186 1510 1185 1519 1187 1526 1191 1533 1198 1538 1208 1542 1216 1544 1247 1552 1256 1554 1260 1554 1268 1547 1279 1543 1290 1540 1296 1530 1305 1518 1309 1510 1310 1500 1308 1492 1302 1486 1296 1482 1288 1476 1269 1471 1240 1470 1224 1472 1215 1475 1208 1484 1195 1492 1190 1498 1186ZM1513 1195 1506 1197 1498 1196 1493 1200 1482 1221 1481 1229 1481 1238 1487 1261 1492 1267 1497 1271 1505 1273 1522 1274 1529 1273 1535 1270 1539 1264 1539 1260 1532 1246 1533 1226 1530 1209 1527 1203 1523 1198 1518 1196 1513 1195ZM1315 1192 1319 1192 1322 1195 1325 1202 1327 1210 1329 1226 1327 1252 1328 1268 1326 1276 1322 1282 1318 1286 1311 1287 1307 1286 1304 1284 1300 1276 1298 1266 1297 1251 1291 1238 1290 1220 1291 1204 1295 1195 1298 1193 1301 1195 1307 1208 1312 1197 1315 1192ZM1316 1206 1313 1210 1312 1215 1311 1228 1313 1238 1316 1243 1319 1244 1322 1242 1323 1238 1324 1221 1320 1208 1319 1206 1316 1206ZM1298 1207 1296 1208 1295 1212 1294 1220 1295 1227 1296 1231 1298 1232 1301 1226 1302 1220 1301 1212 1298 1207ZM1338 1203 1340 1203 1342 1204 1344 1212 1342 1220 1338 1223 1335 1220 1333 1214 1335 1206 1338 1203Z"/>
<path fill-rule="evenodd" fill="#e0f50f" d="M1119 1044 1124 1044 1128 1049 1133 1080 1134 1102 1131 1137 1126 1157 1121 1166 1118 1169 1115 1169 1112 1167 1104 1150 1103 1150 1100 1155 1098 1160 1097 1167 1096 1208 1094 1214 1091 1215 1086 1212 1085 1206 1086 1199 1091 1194 1091 1191 1091 1167 1090 1164 1085 1158 1079 1136 1078 1132 1072 1129 1058 1129 1043 1128 1040 1129 1037 1137 1036 1137 1032 1127 1025 1127 1020 1125 1016 1120 1015 1116 1017 1112 1020 1108 1025 1106 1034 1107 1037 1102 1040 1107 1072 1107 1076 1107 1080 1104 1088 1095 1091 1093 1094 1094 1100 1100 1102 1099 1111 1058 1115 1048 1119 1044ZM1037 1105 1034 1112 1032 1113 1029 1110 1025 1110 1021 1112 1019 1116 1021 1120 1025 1123 1030 1123 1032 1120 1036 1130 1037 1130 1040 1119 1043 1122 1046 1123 1049 1120 1050 1118 1049 1114 1046 1112 1043 1113 1040 1116 1039 1110 1037 1105ZM1058 1111 1055 1114 1054 1119 1056 1123 1061 1124 1065 1122 1066 1116 1062 1112 1058 1111ZM1118 1060 1114 1067 1110 1077 1104 1112 1103 1116 1096 1102 1091 1099 1086 1103 1080 1114 1079 1122 1084 1144 1086 1152 1090 1156 1091 1154 1094 1140 1097 1148 1098 1146 1103 1122 1104 1125 1110 1149 1115 1157 1118 1159 1121 1157 1127 1145 1132 1120 1132 1086 1130 1075 1126 1064 1122 1060 1118 1060ZM1352 1046 1355 1044 1358 1047 1359 1053 1360 1065 1361 1067 1367 1065 1374 1066 1380 1068 1384 1071 1386 1074 1386 1077 1382 1082 1376 1084 1370 1085 1364 1085 1355 1082 1353 1076 1352 1062 1349 1054 1350 1048 1352 1046ZM1355 1063 1355 1071 1355 1074 1356 1075 1357 1065 1356 1062 1355 1063ZM1336 1052 1338 1052 1340 1053 1342 1058 1343 1064 1341 1076 1340 1078 1337 1081 1336 1080 1333 1077 1331 1066 1332 1057 1336 1052ZM800 1053 806 1052 812 1053 818 1058 821 1064 822 1074 821 1096 823 1107 827 1119 825 1132 820 1140 810 1144 804 1145 797 1140 791 1140 779 1145 770 1145 764 1141 763 1136 764 1132 768 1130 784 1129 786 1126 789 1100 785 1082 785 1074 787 1068 791 1060 796 1055 800 1053ZM802 1065 798 1066 794 1070 792 1077 794 1085 797 1088 800 1089 804 1088 808 1086 810 1080 812 1074 811 1070 809 1067 806 1065 802 1065ZM815 1072 814 1076 814 1082 814 1084 816 1087 818 1084 819 1077 818 1073 816 1071 815 1072ZM800 1107 796 1111 793 1114 793 1118 793 1122 797 1128 800 1131 804 1133 809 1133 822 1124 823 1120 823 1116 821 1112 816 1109 806 1106 800 1107ZM1478 1071 1484 1071 1490 1074 1495 1080 1500 1091 1505 1086 1506 1088 1508 1101 1509 1116 1508 1134 1506 1142 1500 1141 1492 1143 1478 1144 1465 1143 1461 1142 1460 1140 1458 1126 1457 1113 1454 1111 1452 1106 1453 1095 1454 1091 1456 1091 1459 1100 1462 1089 1466 1080 1472 1074 1478 1071ZM1478 1090 1473 1095 1468 1104 1466 1116 1467 1128 1470 1137 1472 1141 1477 1143 1487 1143 1492 1142 1495 1136 1497 1124 1496 1112 1493 1101 1489 1094 1484 1090 1478 1090ZM860 1072 866 1072 869 1080 868 1086 867 1090 864 1095 862 1096 857 1094 855 1086 856 1078 860 1072ZM864 1076 863 1083 864 1087 866 1087 867 1080 866 1076 864 1076ZM1535 1083 1536 1084 1538 1088 1540 1101 1539 1116 1536 1124 1530 1112 1529 1106 1530 1090 1532 1085 1535 1083ZM423 1084 426 1084 430 1086 433 1092 435 1100 436 1119 432 1138 426 1150 414 1162 407 1165 400 1165 393 1161 390 1155 387 1134 388 1122 390 1117 395 1113 401 1112 408 1112 412 1111 415 1106 419 1090 423 1084ZM425 1088 421 1092 418 1100 416 1120 416 1128 418 1134 421 1138 425 1140 428 1139 432 1132 434 1124 435 1113 434 1102 432 1095 428 1089 425 1088ZM398 1125 396 1128 395 1136 396 1143 398 1145 400 1142 400 1136 400 1128 398 1125ZM1236 1088 1246 1088 1253 1092 1270 1112 1271 1111 1275 1104 1277 1103 1280 1106 1283 1118 1281 1137 1283 1154 1282 1161 1278 1166 1277 1166 1271 1158 1270 1158 1253 1167 1246 1167 1232 1161 1226 1154 1223 1144 1222 1130 1223 1118 1225 1100 1228 1092 1231 1089 1236 1088ZM1236 1102 1230 1105 1226 1114 1224 1130 1225 1144 1228 1152 1232 1158 1244 1163 1248 1163 1253 1161 1256 1158 1261 1149 1261 1142 1260 1122 1256 1116 1247 1107 1241 1103 1236 1102ZM1277 1112 1275 1120 1275 1148 1276 1156 1278 1158 1280 1150 1280 1120 1279 1113 1278 1112 1277 1112ZM631 1089 638 1088 645 1089 668 1100 676 1112 682 1107 684 1106 688 1112 690 1126 689 1143 686 1153 683 1155 678 1153 677 1153 664 1167 662 1172 663 1197 664 1199 666 1193 668 1193 670 1198 672 1215 672 1233 671 1244 667 1268 670 1323 669 1365 665 1397 662 1406 659 1410 656 1409 654 1407 650 1392 647 1371 646 1346 646 1312 649 1266 647 1233 648 1221 653 1202 653 1172 652 1170 650 1170 635 1170 633 1174 631 1202 630 1205 629 1206 627 1198 624 1165 611 1148 600 1129 599 1128 593 1131 589 1131 583 1126 581 1119 582 1107 584 1103 587 1100 590 1099 593 1101 600 1110 602 1110 611 1099 618 1094 622 1091 631 1089ZM588 1107 586 1111 585 1118 587 1124 590 1126 593 1125 594 1122 595 1116 593 1108 592 1107 588 1107ZM628 1095 624 1097 622 1096 620 1097 611 1108 608 1114 607 1126 611 1139 617 1148 623 1153 624 1153 626 1152 629 1147 634 1156 635 1157 652 1162 654 1161 658 1157 662 1159 664 1159 671 1150 675 1143 676 1137 675 1126 670 1110 666 1106 662 1102 646 1096 640 1095 628 1095ZM509 1094 514 1092 524 1095 540 1095 566 1103 570 1112 572 1130 570 1144 568 1152 564 1153 562 1150 557 1134 554 1131 540 1134 522 1133 514 1135 508 1132 501 1122 499 1112 502 1102 509 1094ZM510 1097 506 1102 503 1113 506 1124 510 1129 515 1130 524 1126 534 1128 544 1128 551 1125 556 1120 557 1116 556 1111 552 1106 548 1102 538 1100 524 1101 515 1097 510 1097ZM564 1112 563 1122 564 1128 566 1128 568 1125 568 1118 566 1112 564 1112ZM1440 1094 1442 1093 1444 1095 1444 1098 1442 1101 1440 1101 1440 1100 1440 1094ZM1517 1096 1518 1096 1520 1098 1522 1110 1522 1124 1518 1131 1517 1131 1516 1128 1514 1116 1514 1104 1517 1096ZM173 1106 174 1112 175 1120 174 1133 173 1141 172 1140 170 1125 171 1112 172 1106 173 1106ZM1549 1106 1552 1104 1552 1106 1554 1112 1554 1124 1552 1130 1550 1130 1549 1128 1548 1122 1548 1112 1549 1106ZM1562 1108 1564 1109 1564 1112 1566 1120 1565 1131 1564 1134 1562 1135 1560 1131 1559 1122 1560 1113 1562 1108ZM876 1120 878 1137 877 1161 877 1190 876 1200 875 1188 876 1162 875 1137 876 1120ZM187 1125 190 1125 191 1129 193 1144 196 1149 214 1158 216 1158 219 1156 223 1136 226 1131 230 1129 234 1130 242 1136 245 1138 264 1137 275 1140 282 1144 286 1149 287 1156 285 1162 267 1173 275 1186 280 1200 282 1214 282 1240 286 1264 286 1274 282 1281 276 1288 269 1293 262 1295 252 1296 226 1291 200 1296 190 1296 184 1295 179 1292 172 1282 169 1275 168 1264 166 1216 167 1203 169 1188 174 1170 177 1162 183 1152 185 1132 187 1125ZM191 1162 188 1165 182 1179 177 1203 177 1228 179 1238 182 1241 186 1240 194 1234 198 1232 203 1233 210 1236 214 1236 216 1232 218 1224 218 1212 217 1198 215 1188 211 1176 207 1168 202 1163 197 1161 191 1162ZM236 1140 233 1141 229 1144 229 1149 230 1154 236 1160 248 1166 258 1168 269 1166 280 1162 284 1156 284 1152 283 1148 280 1144 274 1141 262 1139 245 1140 236 1140ZM254 1186 246 1191 242 1198 239 1209 240 1220 242 1224 246 1227 266 1228 270 1226 272 1221 273 1212 271 1203 268 1196 264 1190 260 1187 254 1186ZM1474 1158 1487 1158 1490 1160 1485 1162 1480 1163 1472 1160 1474 1158ZM872 1161 873 1188 872 1202 870 1196 870 1188 872 1161ZM523 1178 534 1179 545 1185 553 1197 557 1210 557 1224 552 1235 544 1242 538 1245 530 1247 516 1246 506 1241 499 1232 496 1220 496 1204 502 1192 506 1186 511 1182 516 1179 523 1178ZM1436 1185 1438 1185 1440 1198 1444 1254 1445 1257 1454 1243 1458 1241 1462 1244 1464 1250 1467 1264 1469 1311 1467 1330 1465 1342 1462 1351 1457 1359 1452 1361 1450 1361 1446 1359 1442 1352 1438 1339 1435 1323 1432 1266 1431 1236 1433 1202 1436 1185ZM1057 1204 1058 1204 1059 1206 1058 1208 1056 1208 1057 1204ZM1337 1300 1340 1300 1342 1301 1346 1310 1349 1323 1350 1338 1349 1354 1347 1370 1343 1378 1338 1381 1334 1377 1331 1368 1329 1356 1328 1342 1329 1328 1330 1316 1334 1305 1337 1300ZM1413 1425 1415 1424 1418 1429 1422 1452 1421 1482 1418 1503 1411 1503 1409 1494 1407 1479 1408 1444 1410 1431 1413 1425ZM1368 1450 1370 1450 1373 1454 1375 1467 1376 1486 1373 1503 1366 1503 1364 1491 1364 1466 1366 1456 1368 1450Z"/>
<path fill-rule="evenodd" fill="#ffdc00" d="M1118 1060 1122 1060 1126 1064 1130 1075 1132 1086 1132 1120 1127 1145 1121 1157 1118 1159 1115 1157 1110 1149 1104 1125 1103 1122 1098 1146 1097 1148 1094 1140 1091 1154 1090 1156 1086 1152 1084 1144 1079 1122 1080 1114 1086 1103 1091 1099 1096 1102 1103 1116 1104 1112 1110 1077 1114 1067 1118 1060ZM1120 1067 1115 1072 1111 1082 1109 1096 1108 1113 1108 1125 1111 1140 1114 1148 1118 1151 1122 1148 1127 1138 1130 1122 1131 1101 1131 1088 1129 1078 1124 1070 1120 1067ZM1090 1105 1086 1112 1084 1125 1086 1142 1088 1148 1090 1150 1094 1128 1097 1137 1099 1125 1098 1116 1096 1110 1092 1105 1090 1105ZM1355 1064 1356 1062 1357 1065 1356 1075 1355 1074 1355 1072 1355 1064ZM801 1065 806 1065 809 1066 811 1070 812 1074 810 1080 808 1086 804 1088 800 1089 797 1088 794 1085 792 1077 794 1070 801 1065ZM815 1072 816 1071 818 1073 819 1077 818 1084 816 1087 814 1084 814 1082 814 1076 815 1072ZM864 1077 866 1076 867 1078 866 1087 864 1087 864 1084 864 1077ZM424 1089 426 1088 428 1089 431 1093 433 1101 434 1112 434 1122 432 1131 429 1137 425 1140 421 1138 418 1134 416 1122 418 1101 420 1093 424 1089ZM423 1093 419 1102 418 1118 420 1130 422 1133 425 1135 428 1134 431 1128 433 1112 432 1102 430 1095 426 1092 423 1093ZM1478 1090 1484 1090 1489 1094 1493 1101 1496 1112 1497 1124 1495 1136 1492 1142 1487 1143 1477 1143 1472 1142 1470 1137 1467 1128 1466 1116 1468 1104 1472 1096 1478 1090ZM1482 1102 1479 1104 1475 1108 1473 1114 1473 1122 1474 1130 1476 1137 1478 1140 1482 1141 1488 1140 1491 1137 1493 1122 1492 1114 1490 1108 1487 1104 1482 1102ZM627 1095 640 1095 646 1096 662 1102 666 1106 670 1110 675 1126 676 1137 675 1143 671 1150 664 1159 662 1159 658 1157 654 1161 652 1162 635 1157 634 1156 629 1147 626 1152 624 1153 623 1153 617 1148 611 1139 607 1126 608 1114 611 1108 620 1097 622 1096 624 1097 627 1095ZM629 1099 624 1102 622 1100 620 1101 616 1112 612 1113 610 1116 609 1119 611 1122 616 1125 618 1132 622 1136 626 1137 630 1136 632 1137 636 1144 647 1155 650 1157 653 1156 658 1150 662 1154 664 1154 670 1146 672 1137 671 1125 668 1116 660 1108 652 1105 644 1100 640 1100 634 1104 629 1099ZM509 1098 514 1097 524 1101 538 1100 548 1102 552 1106 556 1111 557 1116 556 1120 551 1125 544 1128 534 1128 524 1126 515 1130 510 1129 506 1124 503 1114 504 1106 509 1098ZM511 1104 508 1110 508 1118 510 1124 514 1125 515 1124 518 1119 518 1110 515 1104 514 1103 511 1104ZM538 1108 531 1110 527 1113 526 1116 528 1120 533 1122 540 1123 546 1122 551 1120 552 1116 550 1112 544 1109 538 1108ZM1235 1102 1241 1103 1247 1107 1256 1116 1260 1122 1261 1142 1261 1149 1256 1158 1253 1161 1248 1163 1244 1163 1232 1158 1228 1152 1225 1146 1224 1131 1225 1116 1229 1107 1232 1104 1235 1102ZM1234 1110 1229 1114 1226 1123 1225 1136 1227 1146 1230 1152 1234 1155 1244 1158 1248 1158 1253 1155 1255 1150 1256 1144 1254 1137 1244 1114 1240 1111 1234 1110ZM1036 1106 1037 1105 1039 1108 1040 1116 1043 1113 1046 1112 1049 1114 1050 1118 1049 1120 1046 1123 1043 1122 1040 1119 1037 1130 1036 1130 1032 1120 1030 1123 1025 1123 1021 1120 1019 1116 1021 1112 1025 1110 1029 1110 1032 1113 1034 1112 1036 1106ZM1037 1108 1036 1112 1035 1118 1036 1123 1037 1124 1038 1116 1037 1108ZM588 1107 590 1107 593 1108 595 1116 594 1122 593 1125 590 1126 587 1124 585 1118 586 1111 588 1107ZM799 1107 803 1106 808 1106 820 1111 823 1116 822 1122 809 1133 804 1133 800 1131 796 1126 793 1119 794 1113 799 1107ZM805 1114 801 1118 803 1121 809 1122 813 1120 814 1119 814 1116 812 1114 805 1114ZM1058 1112 1062 1112 1066 1116 1065 1122 1061 1124 1057 1124 1054 1120 1055 1114 1058 1112ZM564 1113 566 1112 568 1118 568 1125 566 1128 564 1128 563 1122 564 1113ZM1276 1113 1278 1112 1280 1120 1280 1150 1278 1158 1276 1156 1275 1149 1275 1120 1276 1113ZM1277 1119 1276 1146 1277 1152 1278 1153 1279 1146 1279 1124 1278 1118 1277 1119ZM398 1125 400 1128 400 1134 400 1142 398 1145 396 1143 395 1136 396 1128 398 1125ZM235 1140 245 1140 262 1139 272 1141 278 1143 283 1148 284 1152 284 1156 280 1162 269 1166 258 1168 248 1166 236 1160 230 1154 229 1146 230 1143 235 1140ZM251 1141 240 1144 236 1149 237 1155 245 1162 254 1165 264 1165 275 1162 281 1156 282 1154 281 1149 278 1146 274 1143 263 1140 251 1141ZM190 1162 197 1161 202 1163 206 1167 211 1174 215 1185 217 1197 218 1210 218 1222 216 1231 214 1236 210 1236 203 1233 198 1232 194 1234 186 1240 182 1241 179 1238 177 1228 177 1203 182 1179 186 1168 190 1162ZM194 1179 191 1181 188 1186 184 1203 184 1220 185 1224 188 1226 198 1220 208 1220 209 1218 210 1214 210 1200 206 1187 203 1182 200 1179 197 1178 194 1179ZM253 1186 258 1186 263 1189 268 1194 271 1202 273 1210 272 1220 270 1226 266 1228 246 1227 242 1224 240 1220 239 1209 242 1198 246 1191 253 1186Z"/>
<path fill-rule="evenodd" fill="#ff8c00" d="M1118 1068 1122 1068 1127 1076 1131 1086 1132 1098 1130 1120 1128 1136 1122 1148 1118 1151 1114 1148 1111 1140 1108 1126 1108 1114 1109 1096 1111 1083 1115 1072 1118 1068ZM1118 1074 1115 1078 1112 1088 1109 1113 1112 1135 1115 1142 1118 1145 1120 1144 1122 1142 1127 1130 1129 1114 1130 1100 1130 1089 1127 1080 1122 1074 1120 1073 1118 1074ZM423 1094 426 1092 430 1095 432 1102 433 1112 431 1128 428 1134 425 1135 422 1133 420 1130 418 1118 419 1102 423 1094ZM425 1096 423 1098 421 1102 420 1114 421 1126 425 1131 428 1130 430 1127 432 1113 430 1100 428 1097 425 1096ZM628 1100 629 1100 634 1104 640 1100 644 1100 652 1105 660 1108 668 1116 671 1125 672 1137 670 1146 664 1154 662 1154 658 1150 653 1156 650 1157 647 1155 636 1144 632 1137 630 1136 626 1137 622 1136 618 1132 616 1125 611 1122 609 1119 610 1116 612 1113 616 1112 620 1101 622 1100 624 1102 628 1100ZM640 1104 636 1108 635 1118 643 1143 647 1148 652 1151 653 1151 658 1144 659 1144 662 1148 664 1148 667 1143 668 1136 668 1129 666 1122 660 1116 650 1110 645 1104 642 1103 640 1104ZM622 1104 620 1106 617 1114 612 1115 611 1119 614 1122 617 1121 618 1121 620 1126 622 1127 624 1121 628 1130 630 1128 631 1124 631 1108 629 1105 628 1105 624 1111 622 1104ZM1481 1102 1486 1103 1488 1106 1492 1112 1493 1120 1491 1137 1488 1140 1482 1141 1478 1140 1476 1137 1474 1131 1473 1124 1473 1116 1475 1109 1478 1105 1481 1102ZM1488 1128 1487 1132 1488 1137 1490 1135 1490 1132 1488 1128ZM1480 1128 1478 1134 1480 1137 1481 1137 1483 1136 1483 1131 1481 1127 1480 1128ZM510 1104 512 1103 515 1104 518 1110 518 1119 515 1124 514 1125 510 1124 508 1117 508 1110 510 1104ZM1089 1106 1091 1104 1092 1105 1096 1109 1098 1114 1099 1124 1098 1132 1097 1137 1094 1128 1090 1150 1088 1148 1086 1142 1084 1126 1085 1114 1089 1106ZM1090 1111 1087 1118 1086 1126 1087 1137 1090 1142 1092 1116 1091 1111 1090 1111ZM537 1108 544 1109 550 1111 552 1116 551 1120 546 1122 540 1123 533 1122 528 1120 526 1116 527 1113 532 1110 537 1108ZM1037 1108 1038 1116 1037 1124 1036 1123 1035 1118 1036 1112 1037 1108ZM1233 1110 1238 1110 1243 1113 1246 1119 1254 1136 1256 1143 1255 1150 1253 1155 1248 1158 1244 1158 1234 1155 1230 1152 1227 1146 1225 1136 1226 1123 1229 1114 1233 1110ZM1234 1115 1230 1118 1228 1122 1227 1136 1229 1146 1232 1150 1235 1151 1239 1149 1240 1146 1243 1134 1244 1128 1243 1122 1240 1118 1236 1115 1234 1115ZM804 1114 808 1114 812 1114 814 1116 814 1119 813 1120 809 1122 803 1121 801 1118 804 1114ZM1277 1119 1279 1118 1279 1124 1279 1146 1278 1153 1277 1152 1276 1148 1277 1119ZM250 1142 263 1140 274 1143 278 1146 281 1149 282 1154 281 1156 275 1162 264 1165 254 1165 245 1162 237 1155 236 1149 240 1144 250 1142ZM252 1143 244 1146 240 1150 241 1154 242 1156 248 1161 257 1163 266 1163 274 1160 278 1155 279 1152 278 1149 272 1144 263 1142 252 1143ZM194 1179 197 1178 200 1179 203 1182 206 1187 210 1200 210 1214 209 1218 208 1220 198 1220 188 1226 185 1224 184 1220 184 1203 188 1186 191 1181 194 1179ZM190 1206 189 1209 191 1211 194 1211 197 1209 197 1208 196 1205 192 1205 190 1206Z"/>
<path fill-rule="evenodd" fill="#ff3c00" d="M1118 1074 1120 1073 1122 1074 1127 1080 1130 1089 1130 1100 1129 1114 1127 1130 1122 1142 1120 1144 1118 1145 1115 1142 1112 1135 1109 1113 1112 1088 1115 1078 1118 1074ZM1120 1078 1116 1081 1114 1089 1111 1108 1113 1130 1115 1135 1118 1139 1121 1137 1124 1131 1127 1119 1129 1104 1128 1094 1127 1087 1124 1081 1121 1078 1120 1078ZM424 1096 426 1096 430 1100 432 1113 430 1127 428 1130 425 1131 421 1126 420 1114 421 1104 422 1100 424 1096ZM425 1100 422 1105 421 1114 422 1122 425 1127 426 1127 429 1124 430 1113 428 1102 426 1100 425 1100ZM621 1104 623 1106 624 1111 628 1105 629 1105 631 1108 631 1124 630 1128 628 1130 624 1121 622 1127 620 1126 618 1121 617 1121 614 1122 611 1119 613 1115 617 1114 620 1106 621 1104ZM639 1104 642 1103 645 1104 650 1110 660 1116 666 1122 668 1129 668 1136 667 1143 664 1148 662 1148 659 1144 658 1144 653 1151 652 1151 647 1148 643 1143 635 1118 635 1110 639 1104ZM641 1106 639 1108 637 1113 638 1119 640 1120 644 1116 646 1112 644 1107 641 1106ZM658 1129 651 1137 651 1140 653 1142 658 1139 662 1140 664 1138 664 1134 662 1130 660 1129 658 1129ZM1089 1112 1091 1111 1092 1116 1090 1142 1087 1137 1086 1126 1087 1118 1089 1112ZM1233 1116 1236 1115 1240 1117 1243 1122 1244 1128 1243 1134 1240 1146 1239 1149 1235 1151 1232 1150 1229 1146 1227 1137 1228 1125 1230 1119 1233 1116ZM1234 1121 1230 1124 1229 1126 1228 1134 1230 1143 1234 1146 1236 1144 1237 1142 1240 1130 1238 1123 1236 1122 1234 1121ZM1479 1128 1481 1127 1483 1131 1483 1136 1481 1137 1480 1137 1478 1134 1479 1128ZM1487 1130 1488 1128 1490 1131 1490 1135 1488 1137 1487 1132 1487 1130ZM251 1143 262 1142 272 1144 278 1149 279 1152 278 1155 274 1160 266 1163 257 1163 249 1161 242 1156 241 1154 240 1150 244 1146 251 1143ZM252 1144 247 1148 244 1152 247 1156 251 1159 257 1161 264 1161 270 1159 275 1155 276 1152 275 1149 270 1145 262 1143 252 1144ZM189 1206 192 1205 196 1205 197 1208 197 1209 194 1211 191 1211 189 1209 189 1206Z"/>
<path fill-rule="evenodd" fill="#e60000" d="M1119 1078 1121 1078 1123 1080 1127 1086 1128 1094 1129 1102 1127 1119 1125 1130 1121 1137 1118 1139 1115 1135 1113 1130 1111 1108 1114 1090 1116 1081 1119 1078ZM1120 1085 1116 1089 1115 1094 1113 1107 1115 1124 1116 1128 1118 1130 1120 1128 1122 1123 1126 1111 1126 1102 1125 1089 1122 1085 1120 1085ZM424 1101 426 1100 428 1102 430 1113 429 1124 426 1127 425 1127 422 1122 421 1114 422 1106 424 1101ZM640 1107 642 1106 644 1107 646 1112 644 1116 640 1120 638 1119 637 1113 638 1110 640 1107ZM1232 1122 1235 1121 1237 1122 1239 1125 1240 1130 1237 1142 1236 1144 1234 1146 1230 1143 1228 1136 1229 1127 1232 1122ZM1234 1127 1232 1130 1231 1134 1232 1139 1234 1140 1235 1138 1236 1132 1235 1128 1234 1127ZM657 1130 660 1129 662 1130 664 1134 664 1138 662 1140 658 1139 653 1142 651 1140 651 1137 657 1130ZM252 1144 262 1143 270 1145 275 1149 276 1152 275 1155 270 1159 264 1161 257 1161 251 1159 247 1156 244 1152 247 1148 252 1144ZM257 1146 252 1148 249 1150 249 1154 252 1157 258 1159 264 1158 269 1156 272 1154 272 1150 269 1148 263 1146 257 1146Z"/>
<path fill-rule="evenodd" fill="#920000" d="M1118 1086 1121 1085 1124 1087 1126 1092 1126 1101 1126 1111 1122 1123 1120 1128 1118 1130 1115 1125 1113 1110 1115 1094 1118 1086ZM1233 1128 1235 1128 1236 1131 1235 1138 1234 1140 1232 1139 1231 1136 1231 1131 1233 1128ZM256 1146 263 1146 269 1148 272 1150 272 1154 269 1156 264 1158 258 1159 252 1157 249 1154 249 1150 252 1148 256 1146Z"/>
<rect x="125" y="1045.5" width="1439.9" height="453.3" fill="url(#stp)"/>
<rect x="141" y="1154.3" width="3.8" height="53.8" fill="#fff"/>
<rect x="149.7" y="1154.3" width="7.1" height="53.8" fill="#fff"/>
<rect x="218.8" y="1154.3" width="361.5" height="53.8" fill="#fff"/>
<rect x="580.3" y="1040.5" width="2.9" height="465" fill="#fff"/>
<rect x="580.3" y="1040.5" width="537.3" height="22.6" fill="#fff"/>
<rect x="1117.6" y="1040.5" width="2.6" height="465" fill="#fff"/>
<rect x="1132" y="1040.5" width="3" height="465" fill="#fff"/>
<rect x="1193.2" y="1154.3" width="376.8" height="53.8" fill="#fff"/>
<rect x="1396" y="1057.2" width="174" height="23.8" fill="#fff"/>
</g>
</g>
<g stroke="#000" stroke-width="3.5" fill="none">
<line x1="170.9" y1="3.4" x2="170.9" y2="13.9"/>
<line x1="170.9" y1="457.3" x2="170.9" y2="446.8"/>
<line x1="212.3" y1="3.4" x2="212.3" y2="13.9"/>
<line x1="212.3" y1="457.3" x2="212.3" y2="446.8"/>
<line x1="258.2" y1="3.4" x2="258.2" y2="13.9"/>
<line x1="258.2" y1="457.3" x2="258.2" y2="446.8"/>
<line x1="302.6" y1="3.4" x2="302.6" y2="13.9"/>
<line x1="302.6" y1="457.3" x2="302.6" y2="446.8"/>
<line x1="348.5" y1="3.4" x2="348.5" y2="13.9"/>
<line x1="348.5" y1="457.3" x2="348.5" y2="446.8"/>
<line x1="392.9" y1="3.4" x2="392.9" y2="13.9"/>
<line x1="392.9" y1="457.3" x2="392.9" y2="446.8"/>
<line x1="438.7" y1="3.4" x2="438.7" y2="13.9"/>
<line x1="438.7" y1="457.3" x2="438.7" y2="446.8"/>
<line x1="484.6" y1="3.4" x2="484.6" y2="13.9"/>
<line x1="484.6" y1="457.3" x2="484.6" y2="446.8"/>
<line x1="529" y1="3.4" x2="529" y2="13.9"/>
<line x1="529" y1="457.3" x2="529" y2="446.8"/>
<line x1="574.9" y1="3.4" x2="574.9" y2="13.9"/>
<line x1="574.9" y1="457.3" x2="574.9" y2="446.8"/>
<line x1="619.3" y1="3.4" x2="619.3" y2="13.9"/>
<line x1="619.3" y1="457.3" x2="619.3" y2="446.8"/>
<line x1="665.1" y1="3.4" x2="665.1" y2="13.9"/>
<line x1="665.1" y1="457.3" x2="665.1" y2="446.8"/>
<line x1="711" y1="3.4" x2="711" y2="13.9"/>
<line x1="711" y1="457.3" x2="711" y2="446.8"/>
<line x1="752.5" y1="3.4" x2="752.5" y2="13.9"/>
<line x1="752.5" y1="457.3" x2="752.5" y2="446.8"/>
<line x1="798.3" y1="3.4" x2="798.3" y2="13.9"/>
<line x1="798.3" y1="457.3" x2="798.3" y2="446.8"/>
<line x1="842.7" y1="3.4" x2="842.7" y2="13.9"/>
<line x1="842.7" y1="457.3" x2="842.7" y2="446.8"/>
<line x1="888.6" y1="3.4" x2="888.6" y2="13.9"/>
<line x1="888.6" y1="457.3" x2="888.6" y2="446.8"/>
<line x1="933" y1="3.4" x2="933" y2="13.9"/>
<line x1="933" y1="457.3" x2="933" y2="446.8"/>
<line x1="978.9" y1="3.4" x2="978.9" y2="13.9"/>
<line x1="978.9" y1="457.3" x2="978.9" y2="446.8"/>
<line x1="1024.8" y1="3.4" x2="1024.8" y2="13.9"/>
<line x1="1024.8" y1="457.3" x2="1024.8" y2="446.8"/>
<line x1="1069.1" y1="3.4" x2="1069.1" y2="13.9"/>
<line x1="1069.1" y1="457.3" x2="1069.1" y2="446.8"/>
<line x1="1115" y1="3.4" x2="1115" y2="13.9"/>
<line x1="1115" y1="457.3" x2="1115" y2="446.8"/>
<line x1="1159.4" y1="3.4" x2="1159.4" y2="13.9"/>
<line x1="1159.4" y1="457.3" x2="1159.4" y2="446.8"/>
<line x1="1205.3" y1="3.4" x2="1205.3" y2="13.9"/>
<line x1="1205.3" y1="457.3" x2="1205.3" y2="446.8"/>
<line x1="1251.2" y1="3.4" x2="1251.2" y2="13.9"/>
<line x1="1251.2" y1="457.3" x2="1251.2" y2="446.8"/>
<line x1="1292.6" y1="3.4" x2="1292.6" y2="13.9"/>
<line x1="1292.6" y1="457.3" x2="1292.6" y2="446.8"/>
<line x1="1338.5" y1="3.4" x2="1338.5" y2="13.9"/>
<line x1="1338.5" y1="457.3" x2="1338.5" y2="446.8"/>
<line x1="1382.9" y1="3.4" x2="1382.9" y2="13.9"/>
<line x1="1382.9" y1="457.3" x2="1382.9" y2="446.8"/>
<line x1="1428.8" y1="3.4" x2="1428.8" y2="13.9"/>
<line x1="1428.8" y1="457.3" x2="1428.8" y2="446.8"/>
<line x1="1473.1" y1="3.4" x2="1473.1" y2="13.9"/>
<line x1="1473.1" y1="457.3" x2="1473.1" y2="446.8"/>
<line x1="1519" y1="3.4" x2="1519" y2="13.9"/>
<line x1="1519" y1="457.3" x2="1519" y2="446.8"/>
<line x1="125" y1="48.8" x2="133" y2="48.8"/>
<line x1="1564.9" y1="48.8" x2="1556.9" y2="48.8"/>
<line x1="125" y1="94.2" x2="133" y2="94.2"/>
<line x1="1564.9" y1="94.2" x2="1556.9" y2="94.2"/>
<line x1="125" y1="139.6" x2="133" y2="139.6"/>
<line x1="1564.9" y1="139.6" x2="1556.9" y2="139.6"/>
<line x1="125" y1="185" x2="133" y2="185"/>
<line x1="1564.9" y1="185" x2="1556.9" y2="185"/>
<line x1="125" y1="230.3" x2="133" y2="230.3"/>
<line x1="1564.9" y1="230.3" x2="1556.9" y2="230.3"/>
<line x1="125" y1="275.7" x2="133" y2="275.7"/>
<line x1="1564.9" y1="275.7" x2="1556.9" y2="275.7"/>
<line x1="125" y1="321.1" x2="133" y2="321.1"/>
<line x1="1564.9" y1="321.1" x2="1556.9" y2="321.1"/>
<line x1="125" y1="366.5" x2="133" y2="366.5"/>
<line x1="1564.9" y1="366.5" x2="1556.9" y2="366.5"/>
<line x1="125" y1="411.9" x2="133" y2="411.9"/>
<line x1="1564.9" y1="411.9" x2="1556.9" y2="411.9"/>
<rect x="125" y="3.4" width="1439.9" height="453.9" fill="none"/>
<line x1="170.9" y1="524.7" x2="170.9" y2="535.2"/>
<line x1="170.9" y1="978.1" x2="170.9" y2="967.6"/>
<line x1="212.3" y1="524.7" x2="212.3" y2="535.2"/>
<line x1="212.3" y1="978.1" x2="212.3" y2="967.6"/>
<line x1="258.2" y1="524.7" x2="258.2" y2="535.2"/>
<line x1="258.2" y1="978.1" x2="258.2" y2="967.6"/>
<line x1="302.6" y1="524.7" x2="302.6" y2="535.2"/>
<line x1="302.6" y1="978.1" x2="302.6" y2="967.6"/>
<line x1="348.5" y1="524.7" x2="348.5" y2="535.2"/>
<line x1="348.5" y1="978.1" x2="348.5" y2="967.6"/>
<line x1="392.9" y1="524.7" x2="392.9" y2="535.2"/>
<line x1="392.9" y1="978.1" x2="392.9" y2="967.6"/>
<line x1="438.7" y1="524.7" x2="438.7" y2="535.2"/>
<line x1="438.7" y1="978.1" x2="438.7" y2="967.6"/>
<line x1="484.6" y1="524.7" x2="484.6" y2="535.2"/>
<line x1="484.6" y1="978.1" x2="484.6" y2="967.6"/>
<line x1="529" y1="524.7" x2="529" y2="535.2"/>
<line x1="529" y1="978.1" x2="529" y2="967.6"/>
<line x1="574.9" y1="524.7" x2="574.9" y2="535.2"/>
<line x1="574.9" y1="978.1" x2="574.9" y2="967.6"/>
<line x1="619.3" y1="524.7" x2="619.3" y2="535.2"/>
<line x1="619.3" y1="978.1" x2="619.3" y2="967.6"/>
<line x1="665.1" y1="524.7" x2="665.1" y2="535.2"/>
<line x1="665.1" y1="978.1" x2="665.1" y2="967.6"/>
<line x1="711" y1="524.7" x2="711" y2="535.2"/>
<line x1="711" y1="978.1" x2="711" y2="967.6"/>
<line x1="752.5" y1="524.7" x2="752.5" y2="535.2"/>
<line x1="752.5" y1="978.1" x2="752.5" y2="967.6"/>
<line x1="798.3" y1="524.7" x2="798.3" y2="535.2"/>
<line x1="798.3" y1="978.1" x2="798.3" y2="967.6"/>
<line x1="842.7" y1="524.7" x2="842.7" y2="535.2"/>
<line x1="842.7" y1="978.1" x2="842.7" y2="967.6"/>
<line x1="888.6" y1="524.7" x2="888.6" y2="535.2"/>
<line x1="888.6" y1="978.1" x2="888.6" y2="967.6"/>
<line x1="933" y1="524.7" x2="933" y2="535.2"/>
<line x1="933" y1="978.1" x2="933" y2="967.6"/>
<line x1="978.9" y1="524.7" x2="978.9" y2="535.2"/>
<line x1="978.9" y1="978.1" x2="978.9" y2="967.6"/>
<line x1="1024.8" y1="524.7" x2="1024.8" y2="535.2"/>
<line x1="1024.8" y1="978.1" x2="1024.8" y2="967.6"/>
<line x1="1069.1" y1="524.7" x2="1069.1" y2="535.2"/>
<line x1="1069.1" y1="978.1" x2="1069.1" y2="967.6"/>
<line x1="1115" y1="524.7" x2="1115" y2="535.2"/>
<line x1="1115" y1="978.1" x2="1115" y2="967.6"/>
<line x1="1159.4" y1="524.7" x2="1159.4" y2="535.2"/>
<line x1="1159.4" y1="978.1" x2="1159.4" y2="967.6"/>
<line x1="1205.3" y1="524.7" x2="1205.3" y2="535.2"/>
<line x1="1205.3" y1="978.1" x2="1205.3" y2="967.6"/>
<line x1="1251.2" y1="524.7" x2="1251.2" y2="535.2"/>
<line x1="1251.2" y1="978.1" x2="1251.2" y2="967.6"/>
<line x1="1292.6" y1="524.7" x2="1292.6" y2="535.2"/>
<line x1="1292.6" y1="978.1" x2="1292.6" y2="967.6"/>
<line x1="1338.5" y1="524.7" x2="1338.5" y2="535.2"/>
<line x1="1338.5" y1="978.1" x2="1338.5" y2="967.6"/>
<line x1="1382.9" y1="524.7" x2="1382.9" y2="535.2"/>
<line x1="1382.9" y1="978.1" x2="1382.9" y2="967.6"/>
<line x1="1428.8" y1="524.7" x2="1428.8" y2="535.2"/>
<line x1="1428.8" y1="978.1" x2="1428.8" y2="967.6"/>
<line x1="1473.1" y1="524.7" x2="1473.1" y2="535.2"/>
<line x1="1473.1" y1="978.1" x2="1473.1" y2="967.6"/>
<line x1="1519" y1="524.7" x2="1519" y2="535.2"/>
<line x1="1519" y1="978.1" x2="1519" y2="967.6"/>
<line x1="125" y1="570" x2="133" y2="570"/>
<line x1="1564.9" y1="570" x2="1556.9" y2="570"/>
<line x1="125" y1="615.4" x2="133" y2="615.4"/>
<line x1="1564.9" y1="615.4" x2="1556.9" y2="615.4"/>
<line x1="125" y1="660.7" x2="133" y2="660.7"/>
<line x1="1564.9" y1="660.7" x2="1556.9" y2="660.7"/>
<line x1="125" y1="706.1" x2="133" y2="706.1"/>
<line x1="1564.9" y1="706.1" x2="1556.9" y2="706.1"/>
<line x1="125" y1="751.4" x2="133" y2="751.4"/>
<line x1="1564.9" y1="751.4" x2="1556.9" y2="751.4"/>
<line x1="125" y1="796.7" x2="133" y2="796.7"/>
<line x1="1564.9" y1="796.7" x2="1556.9" y2="796.7"/>
<line x1="125" y1="842.1" x2="133" y2="842.1"/>
<line x1="1564.9" y1="842.1" x2="1556.9" y2="842.1"/>
<line x1="125" y1="887.4" x2="133" y2="887.4"/>
<line x1="1564.9" y1="887.4" x2="1556.9" y2="887.4"/>
<line x1="125" y1="932.8" x2="133" y2="932.8"/>
<line x1="1564.9" y1="932.8" x2="1556.9" y2="932.8"/>
<rect x="125" y="524.7" width="1439.9" height="453.4" fill="none"/>
<line x1="170.9" y1="1045.5" x2="170.9" y2="1056"/>
<line x1="170.9" y1="1498.8" x2="170.9" y2="1488.3"/>
<line x1="212.3" y1="1045.5" x2="212.3" y2="1056"/>
<line x1="212.3" y1="1498.8" x2="212.3" y2="1488.3"/>
<line x1="258.2" y1="1045.5" x2="258.2" y2="1056"/>
<line x1="258.2" y1="1498.8" x2="258.2" y2="1488.3"/>
<line x1="302.6" y1="1045.5" x2="302.6" y2="1056"/>
<line x1="302.6" y1="1498.8" x2="302.6" y2="1488.3"/>
<line x1="348.5" y1="1045.5" x2="348.5" y2="1056"/>
<line x1="348.5" y1="1498.8" x2="348.5" y2="1488.3"/>
<line x1="392.9" y1="1045.5" x2="392.9" y2="1056"/>
<line x1="392.9" y1="1498.8" x2="392.9" y2="1488.3"/>
<line x1="438.7" y1="1045.5" x2="438.7" y2="1056"/>
<line x1="438.7" y1="1498.8" x2="438.7" y2="1488.3"/>
<line x1="484.6" y1="1045.5" x2="484.6" y2="1056"/>
<line x1="484.6" y1="1498.8" x2="484.6" y2="1488.3"/>
<line x1="529" y1="1045.5" x2="529" y2="1056"/>
<line x1="529" y1="1498.8" x2="529" y2="1488.3"/>
<line x1="574.9" y1="1045.5" x2="574.9" y2="1056"/>
<line x1="574.9" y1="1498.8" x2="574.9" y2="1488.3"/>
<line x1="619.3" y1="1045.5" x2="619.3" y2="1056"/>
<line x1="619.3" y1="1498.8" x2="619.3" y2="1488.3"/>
<line x1="665.1" y1="1045.5" x2="665.1" y2="1056"/>
<line x1="665.1" y1="1498.8" x2="665.1" y2="1488.3"/>
<line x1="711" y1="1045.5" x2="711" y2="1056"/>
<line x1="711" y1="1498.8" x2="711" y2="1488.3"/>
<line x1="752.5" y1="1045.5" x2="752.5" y2="1056"/>
<line x1="752.5" y1="1498.8" x2="752.5" y2="1488.3"/>
<line x1="798.3" y1="1045.5" x2="798.3" y2="1056"/>
<line x1="798.3" y1="1498.8" x2="798.3" y2="1488.3"/>
<line x1="842.7" y1="1045.5" x2="842.7" y2="1056"/>
<line x1="842.7" y1="1498.8" x2="842.7" y2="1488.3"/>
<line x1="888.6" y1="1045.5" x2="888.6" y2="1056"/>
<line x1="888.6" y1="1498.8" x2="888.6" y2="1488.3"/>
<line x1="933" y1="1045.5" x2="933" y2="1056"/>
<line x1="933" y1="1498.8" x2="933" y2="1488.3"/>
<line x1="978.9" y1="1045.5" x2="978.9" y2="1056"/>
<line x1="978.9" y1="1498.8" x2="978.9" y2="1488.3"/>
<line x1="1024.8" y1="1045.5" x2="1024.8" y2="1056"/>
<line x1="1024.8" y1="1498.8" x2="1024.8" y2="1488.3"/>
<line x1="1069.1" y1="1045.5" x2="1069.1" y2="1056"/>
<line x1="1069.1" y1="1498.8" x2="1069.1" y2="1488.3"/>
<line x1="1115" y1="1045.5" x2="1115" y2="1056"/>
<line x1="1115" y1="1498.8" x2="1115" y2="1488.3"/>
<line x1="1159.4" y1="1045.5" x2="1159.4" y2="1056"/>
<line x1="1159.4" y1="1498.8" x2="1159.4" y2="1488.3"/>
<line x1="1205.3" y1="1045.5" x2="1205.3" y2="1056"/>
<line x1="1205.3" y1="1498.8" x2="1205.3" y2="1488.3"/>
<line x1="1251.2" y1="1045.5" x2="1251.2" y2="1056"/>
<line x1="1251.2" y1="1498.8" x2="1251.2" y2="1488.3"/>
<line x1="1292.6" y1="1045.5" x2="1292.6" y2="1056"/>
<line x1="1292.6" y1="1498.8" x2="1292.6" y2="1488.3"/>
<line x1="1338.5" y1="1045.5" x2="1338.5" y2="1056"/>
<line x1="1338.5" y1="1498.8" x2="1338.5" y2="1488.3"/>
<line x1="1382.9" y1="1045.5" x2="1382.9" y2="1056"/>
<line x1="1382.9" y1="1498.8" x2="1382.9" y2="1488.3"/>
<line x1="1428.8" y1="1045.5" x2="1428.8" y2="1056"/>
<line x1="1428.8" y1="1498.8" x2="1428.8" y2="1488.3"/>
<line x1="1473.1" y1="1045.5" x2="1473.1" y2="1056"/>
<line x1="1473.1" y1="1498.8" x2="1473.1" y2="1488.3"/>
<line x1="1519" y1="1045.5" x2="1519" y2="1056"/>
<line x1="1519" y1="1498.8" x2="1519" y2="1488.3"/>
<line x1="125" y1="1090.8" x2="133" y2="1090.8"/>
<line x1="1564.9" y1="1090.8" x2="1556.9" y2="1090.8"/>
<line x1="125" y1="1136.2" x2="133" y2="1136.2"/>
<line x1="1564.9" y1="1136.2" x2="1556.9" y2="1136.2"/>
<line x1="125" y1="1181.5" x2="133" y2="1181.5"/>
<line x1="1564.9" y1="1181.5" x2="1556.9" y2="1181.5"/>
<line x1="125" y1="1226.8" x2="133" y2="1226.8"/>
<line x1="1564.9" y1="1226.8" x2="1556.9" y2="1226.8"/>
<line x1="125" y1="1272.2" x2="133" y2="1272.2"/>
<line x1="1564.9" y1="1272.2" x2="1556.9" y2="1272.2"/>
<line x1="125" y1="1317.5" x2="133" y2="1317.5"/>
<line x1="1564.9" y1="1317.5" x2="1556.9" y2="1317.5"/>
<line x1="125" y1="1362.8" x2="133" y2="1362.8"/>
<line x1="1564.9" y1="1362.8" x2="1556.9" y2="1362.8"/>
<line x1="125" y1="1408.1" x2="133" y2="1408.1"/>
<line x1="1564.9" y1="1408.1" x2="1556.9" y2="1408.1"/>
<line x1="125" y1="1453.5" x2="133" y2="1453.5"/>
<line x1="1564.9" y1="1453.5" x2="1556.9" y2="1453.5"/>
<rect x="125" y="1045.5" width="1439.9" height="453.3" fill="none"/>
</g>
<text class="b" font-size="35.11" transform="translate(50.42 105.38) scale(1.127 1)">100</text>
<text class="b" font-size="35.11" transform="translate(50.42 196.16) scale(1.127 1)">200</text>
<text class="b" font-size="35.11" transform="translate(50.42 286.94) scale(1.127 1)">300</text>
<text class="b" font-size="35.11" transform="translate(50.42 377.72) scale(1.127 1)">400</text>
<text class="b" font-size="35.11" transform="translate(50.42 468.5) scale(1.127 1)">500</text>
<text class="r" font-size="27.53" stroke="#000" stroke-width="0.8" transform="translate(33 311.5) rotate(-90) translate(0 0) scale(0.996 1)"><tspan x="-4.91">DEPTH </tspan><tspan x="113.05">(m)</tspan></text>
<text class="b" font-size="36.59" transform="translate(45.4 627.06) scale(1.160 1)">100</text>
<text class="b" font-size="36.59" transform="translate(45.4 717.74) scale(1.160 1)">200</text>
<text class="b" font-size="36.59" transform="translate(45.4 808.42) scale(1.160 1)">300</text>
<text class="b" font-size="36.59" transform="translate(45.4 899.1) scale(1.160 1)">400</text>
<text class="b" font-size="36.59" transform="translate(45.4 989.78) scale(1.160 1)">500</text>
<text class="r" font-size="31.37" stroke="#000" stroke-width="0.8" transform="translate(26.7 839.1) rotate(-90) translate(0 0) scale(0.948 1)"><tspan x="-5.59">DEPTH </tspan><tspan x="128.8">(m)</tspan></text>
<text class="b" font-size="36" transform="translate(47.05 1147.65) scale(1.148 1)">100</text>
<text class="b" font-size="36" transform="translate(47.05 1238.31) scale(1.148 1)">200</text>
<text class="b" font-size="36" transform="translate(47.05 1328.97) scale(1.148 1)">300</text>
<text class="b" font-size="36" transform="translate(47.05 1419.63) scale(1.148 1)">400</text>
<text class="b" font-size="36" transform="translate(47.05 1510.29) scale(1.148 1)">500</text>
<text class="r" font-size="31.1" stroke="#000" stroke-width="0.8" transform="translate(28.8 1357.8) rotate(-90) translate(0 0) scale(0.934 1)"><tspan x="-5.54">DEPTH </tspan><tspan x="127.67">(m)</tspan></text>
<text class="r" font-size="55.74" transform="translate(26.55 52.06) scale(0.930 1)">(a)</text>
<text class="r" font-size="55.74" transform="translate(18.41 573.76) scale(0.985 1)">(b)</text>
<text class="r" font-size="55.74" transform="translate(21.49 1086.76) scale(0.990 1)">(c)</text>
<text class="r" font-size="43.72" transform="translate(1738.95 68.22) scale(0.957 1)">(d)</text>
<text class="r" font-size="43.72" transform="translate(1736.3 561.82) scale(1.002 1)">(e)</text>
<text class="r" font-size="43.72" transform="translate(1740.29 1085.82) scale(1.033 1)">(f)</text>
<text class="b" font-size="39.7" transform="translate(139.35 1534.3) scale(0.832 1)">J</text>
<text class="b" font-size="39.24" transform="translate(181.52 1534.3) scale(0.885 1)">F</text>
<text class="b" font-size="39.24" transform="translate(222.13 1534.3) scale(0.719 1)">M</text>
<text class="b" font-size="38.94" transform="translate(269.43 1534.3) scale(0.776 1)">A</text>
<text class="b" font-size="39.24" transform="translate(312.4 1534.3) scale(0.719 1)">M</text>
<text class="b" font-size="39.7" transform="translate(362.07 1534.3) scale(0.832 1)">J</text>
<text class="b" font-size="39.7" transform="translate(407.21 1534.3) scale(0.832 1)">J</text>
<text class="b" font-size="38.94" transform="translate(450.72 1534.3) scale(0.776 1)">A</text>
<text class="b" font-size="39.4" transform="translate(495.77 1534.3) scale(0.982 1)">S</text>
<text class="b" font-size="39.4" transform="translate(538.92 1534.3) scale(0.847 1)">O</text>
<text class="b" font-size="39.24" transform="translate(585.22 1534.3) scale(0.827 1)">N</text>
<text class="b" font-size="39.24" transform="translate(631.49 1534.3) scale(0.792 1)">D</text>
<text class="b" font-size="39.7" transform="translate(679.5 1534.3) scale(0.832 1)">J</text>
<text class="b" font-size="39.24" transform="translate(721.67 1534.3) scale(0.885 1)">F</text>
<text class="b" font-size="39.24" transform="translate(762.27 1534.3) scale(0.719 1)">M</text>
<text class="b" font-size="38.94" transform="translate(809.58 1534.3) scale(0.776 1)">A</text>
<text class="b" font-size="39.24" transform="translate(852.54 1534.3) scale(0.719 1)">M</text>
<text class="b" font-size="39.7" transform="translate(902.22 1534.3) scale(0.832 1)">J</text>
<text class="b" font-size="39.7" transform="translate(947.35 1534.3) scale(0.832 1)">J</text>
<text class="b" font-size="38.94" transform="translate(990.86 1534.3) scale(0.776 1)">A</text>
<text class="b" font-size="39.4" transform="translate(1035.92 1534.3) scale(0.982 1)">S</text>
<text class="b" font-size="39.4" transform="translate(1079.07 1534.3) scale(0.847 1)">O</text>
<text class="b" font-size="39.24" transform="translate(1125.37 1534.3) scale(0.827 1)">N</text>
<text class="b" font-size="39.24" transform="translate(1171.64 1534.3) scale(0.792 1)">D</text>
<text class="b" font-size="39.7" transform="translate(1219.65 1534.3) scale(0.832 1)">J</text>
<text class="b" font-size="39.24" transform="translate(1261.82 1534.3) scale(0.885 1)">F</text>
<text class="b" font-size="39.24" transform="translate(1302.42 1534.3) scale(0.719 1)">M</text>
<text class="b" font-size="38.94" transform="translate(1349.73 1534.3) scale(0.776 1)">A</text>
<text class="b" font-size="39.24" transform="translate(1392.69 1534.3) scale(0.719 1)">M</text>
<text class="b" font-size="39.7" transform="translate(1442.37 1534.3) scale(0.832 1)">J</text>
<text class="b" font-size="39.7" transform="translate(1487.5 1534.3) scale(0.832 1)">J</text>
<text class="b" font-size="38.94" transform="translate(1531.01 1534.3) scale(0.776 1)">A</text>
<text stroke="#000" stroke-width="0.9" class="r" font-size="47.02" transform="translate(332.3 1595.2) scale(1.048 1)">2009</text>
<text stroke="#000" stroke-width="0.9" class="r" font-size="47.02" transform="translate(872.3 1595.2) scale(1.048 1)">2010</text>
<text stroke="#000" stroke-width="0.9" class="r" font-size="47.02" transform="translate(1321.64 1595.2) scale(1.048 1)">2011</text>
<text class="r" font-size="46.03" transform="translate(0 499.5) scale(0.879 1)"><tspan x="694.3">RAMA </tspan><tspan x="874.14">TEMP</tspan></text>
<text class="r" font-size="49.73" transform="translate(0 1023.5) scale(0.888 1)"><tspan x="708.19">HYCOM </tspan><tspan x="944">TEMP</tspan></text>
<text class="r" font-size="47.95" transform="translate(0 1649.4) scale(0.909 1)"><tspan x="570.89">HYCOM</tspan><tspan x="771.47">−</tspan><tspan x="810.83">RAMA </tspan><tspan x="993.64" font-size="56.58" dy="3.2">(</tspan><tspan x="1021.86" dy="-3.2">TEMP</tspan><tspan x="1171.64" font-size="56.58" dy="3.2">)</tspan></text>
<g stroke="#000" stroke-width="2.4" stroke-linejoin="miter">
<path d="M1582.6 61L1600 0.5L1617.4 61Z" fill="#920000"/>
<rect x="1582.6" y="61" width="34.8" height="57.3" fill="#d40000"/>
<rect x="1582.6" y="118.3" width="34.8" height="57.3" fill="#ff1e00"/>
<rect x="1582.6" y="175.6" width="34.8" height="57.3" fill="#ff6000"/>
<rect x="1582.6" y="232.8" width="34.8" height="57.3" fill="#ffa00a"/>
<rect x="1582.6" y="290.1" width="34.8" height="57.3" fill="#ffe000"/>
<rect x="1582.6" y="347.4" width="34.8" height="57.3" fill="#e0f50f"/>
<rect x="1582.6" y="404.7" width="34.8" height="57.3" fill="#b4e61e"/>
<rect x="1582.6" y="462" width="34.8" height="57.3" fill="#82d223"/>
<rect x="1582.6" y="519.2" width="34.8" height="57.3" fill="#5abe32"/>
<rect x="1582.6" y="576.5" width="34.8" height="57.3" fill="#29ac47"/>
<rect x="1582.6" y="633.8" width="34.8" height="57.3" fill="#07935a"/>
<rect x="1582.6" y="691.1" width="34.8" height="57.3" fill="#23788c"/>
<rect x="1582.6" y="748.4" width="34.8" height="57.3" fill="#325ab9"/>
<rect x="1582.6" y="805.6" width="34.8" height="57.3" fill="#4641eb"/>
<rect x="1582.6" y="862.9" width="34.8" height="57.3" fill="#7d1eff"/>
<path d="M1582.6 920.2L1600 977.5L1617.4 920.2Z" fill="#c800ff"/>
</g>
<text class="b" font-size="33.82" transform="translate(1623 130.27) scale(1.181 1)">30.0</text>
<text class="b" font-size="33.82" transform="translate(1623 244.83) scale(1.181 1)">26.0</text>
<text class="b" font-size="33.82" transform="translate(1623 359.39) scale(1.181 1)">22.0</text>
<text class="b" font-size="33.82" transform="translate(1623 473.95) scale(1.181 1)">18.0</text>
<text class="b" font-size="33.82" transform="translate(1623 588.51) scale(1.181 1)">14.0</text>
<text class="b" font-size="33.82" transform="translate(1623 703.07) scale(1.181 1)">10.0</text>
<text class="b" font-size="33.82" transform="translate(1638.77 817.63) scale(1.181 1)">6.0</text>
<text class="b" font-size="33.82" transform="translate(1638.77 932.19) scale(1.181 1)">2.0</text>
<g stroke="#000" stroke-width="2.4" stroke-linejoin="miter">
<path d="M1582.6 1077.5L1599.7 1044L1616.8 1077.5Z" fill="#920000"/>
<rect x="1582.6" y="1077.5" width="34.2" height="32.5" fill="#e60000"/>
<rect x="1582.6" y="1110" width="34.2" height="32.5" fill="#ff3c00"/>
<rect x="1582.6" y="1142.6" width="34.2" height="32.5" fill="#ff8c00"/>
<rect x="1582.6" y="1175.1" width="34.2" height="32.5" fill="#ffdc00"/>
<rect x="1582.6" y="1207.7" width="34.2" height="32.5" fill="#e0f50f"/>
<rect x="1582.6" y="1240.2" width="34.2" height="32.5" fill="#a5dc1e"/>
<rect x="1582.6" y="1272.7" width="34.2" height="32.5" fill="#6ec832"/>
<rect x="1582.6" y="1305.3" width="34.2" height="32.5" fill="#2dac46"/>
<rect x="1582.6" y="1337.8" width="34.2" height="32.5" fill="#0a8c5a"/>
<rect x="1582.6" y="1370.4" width="34.2" height="32.5" fill="#236e96"/>
<rect x="1582.6" y="1402.9" width="34.2" height="32.5" fill="#3c46d2"/>
<rect x="1582.6" y="1435.4" width="34.2" height="32.5" fill="#6e28ff"/>
<path d="M1582.6 1468L1599.7 1499.5L1616.8 1468Z" fill="#c800ff"/>
</g>
<text class="b" font-size="33.82" transform="translate(1621.47 1089.49) scale(1.181 1)">3.0</text>
<text class="b" font-size="33.82" transform="translate(1621.27 1187.03) scale(1.181 1)">1.5</text>
<text class="b" font-size="33.82" transform="translate(1621.47 1284.73) scale(1.181 1)">0.0</text>
<text class="b" font-size="33.82" transform="translate(1622.11 1382.27) scale(1.181 1)">−1.5</text>
<text class="b" font-size="33.82" transform="translate(1622.31 1479.97) scale(1.181 1)">−3.0</text>
<clipPath id="rc0"><rect x="1802.9" y="0.4" width="485" height="458.4"/></clipPath>
<g stroke="#000" stroke-width="2.8" stroke-dasharray="3.9 6.1" fill="none">
<line x1="1835.9" y1="5.4" x2="1835.9" y2="457.3"/>
<line x1="1867" y1="5.4" x2="1867" y2="457.3"/>
<line x1="1898" y1="5.4" x2="1898" y2="457.3"/>
<line x1="1929" y1="5.4" x2="1929" y2="457.3"/>
<line x1="1960.1" y1="5.4" x2="1960.1" y2="457.3"/>
<line x1="1991.1" y1="5.4" x2="1991.1" y2="457.3"/>
<line x1="2022.1" y1="5.4" x2="2022.1" y2="457.3"/>
<line x1="2053.2" y1="5.4" x2="2053.2" y2="457.3"/>
<line x1="2084.2" y1="5.4" x2="2084.2" y2="457.3"/>
<line x1="2115.2" y1="5.4" x2="2115.2" y2="457.3"/>
<line x1="2146.3" y1="5.4" x2="2146.3" y2="457.3"/>
<line x1="2177.3" y1="5.4" x2="2177.3" y2="457.3"/>
<line x1="2208.3" y1="5.4" x2="2208.3" y2="457.3"/>
<line x1="2239.4" y1="5.4" x2="2239.4" y2="457.3"/>
<line x1="2270.4" y1="5.4" x2="2270.4" y2="457.3"/>
<line x1="1806.9" y1="48.8" x2="2285.9" y2="48.8"/>
<line x1="1806.9" y1="94.2" x2="2285.9" y2="94.2"/>
<line x1="1806.9" y1="139.6" x2="2285.9" y2="139.6"/>
<line x1="1806.9" y1="185" x2="2285.9" y2="185"/>
<line x1="1806.9" y1="230.3" x2="2285.9" y2="230.3"/>
<line x1="1806.9" y1="275.7" x2="2285.9" y2="275.7"/>
<line x1="1806.9" y1="321.1" x2="2285.9" y2="321.1"/>
<line x1="1806.9" y1="366.5" x2="2285.9" y2="366.5"/>
<line x1="1806.9" y1="411.9" x2="2285.9" y2="411.9"/>
</g>
<g stroke="#000" stroke-width="2.9" fill="none">
<line x1="1835.9" y1="457.3" x2="1835.9" y2="451.3"/>
<line x1="1867" y1="457.3" x2="1867" y2="451.3"/>
<line x1="1898" y1="457.3" x2="1898" y2="451.3"/>
<line x1="1929" y1="457.3" x2="1929" y2="451.3"/>
<line x1="1960.1" y1="457.3" x2="1960.1" y2="451.3"/>
<line x1="1991.1" y1="457.3" x2="1991.1" y2="451.3"/>
<line x1="2022.1" y1="457.3" x2="2022.1" y2="451.3"/>
<line x1="2053.2" y1="457.3" x2="2053.2" y2="451.3"/>
<line x1="2084.2" y1="457.3" x2="2084.2" y2="451.3"/>
<line x1="2115.2" y1="457.3" x2="2115.2" y2="451.3"/>
<line x1="2146.3" y1="457.3" x2="2146.3" y2="451.3"/>
<line x1="2177.3" y1="457.3" x2="2177.3" y2="451.3"/>
<line x1="2208.3" y1="457.3" x2="2208.3" y2="451.3"/>
<line x1="2239.4" y1="457.3" x2="2239.4" y2="451.3"/>
<line x1="2270.4" y1="457.3" x2="2270.4" y2="451.3"/>
<line x1="1804.9" y1="48.8" x2="1811.9" y2="48.8"/>
<line x1="2285.9" y1="48.8" x2="2277.9" y2="48.8"/>
<line x1="1804.9" y1="94.2" x2="1811.9" y2="94.2"/>
<line x1="2285.9" y1="94.2" x2="2277.9" y2="94.2"/>
<line x1="1804.9" y1="139.6" x2="1811.9" y2="139.6"/>
<line x1="2285.9" y1="139.6" x2="2277.9" y2="139.6"/>
<line x1="1804.9" y1="185" x2="1811.9" y2="185"/>
<line x1="2285.9" y1="185" x2="2277.9" y2="185"/>
<line x1="1804.9" y1="230.3" x2="1811.9" y2="230.3"/>
<line x1="2285.9" y1="230.3" x2="2277.9" y2="230.3"/>
<line x1="1804.9" y1="275.7" x2="1811.9" y2="275.7"/>
<line x1="2285.9" y1="275.7" x2="2277.9" y2="275.7"/>
<line x1="1804.9" y1="321.1" x2="1811.9" y2="321.1"/>
<line x1="2285.9" y1="321.1" x2="2277.9" y2="321.1"/>
<line x1="1804.9" y1="366.5" x2="1811.9" y2="366.5"/>
<line x1="2285.9" y1="366.5" x2="2277.9" y2="366.5"/>
<line x1="1804.9" y1="411.9" x2="1811.9" y2="411.9"/>
<line x1="2285.9" y1="411.9" x2="2277.9" y2="411.9"/>
</g>
<g fill="none" stroke-width="8.7" stroke-linejoin="miter" stroke-linecap="butt" clip-path="url(#rc0)">
<polyline points="2220.4,3.2 2214.7,12.8 2215.3,20.7 2210.2,38.9 2198.7,55.9 2171.6,73.4 2134.9,88.7 2082.2,109.5 2051,125.4 2006.3,164.4 1956.2,275.1 1927.5,457.4" stroke="#000"/>
<polyline points="2223.3,3.2 2218.8,12.8 2219.5,20.7 2214.4,39.9 2202.6,58.1 2173.2,75.6 2134.9,91.6 2083.8,112.3 2054.2,128.6 2008.2,166.6 1954.6,275.1 1928.1,457.4" stroke="#f00"/>
</g>
<rect x="1804.9" y="3.4" width="481" height="453.9" fill="none" stroke="#000" stroke-width="3.1"/>
<text class="b" font-size="25.34" transform="translate(2041.64 415.5) scale(0.944 1)">RAMA_mean_T</text>
<line x1="2223.5" y1="408.3" x2="2273" y2="408.3" stroke="#f00" stroke-width="7.3"/>
<text class="b" font-size="25.34" transform="translate(2023.64 439.8) scale(0.935 1)">HYCOM_mean_T</text>
<line x1="2223.5" y1="432.8" x2="2273" y2="432.8" stroke="#000" stroke-width="7.3"/>
<text class="b" font-size="25.29" transform="translate(1784.44 488.22) scale(1.294 1)">2.0</text>
<text class="b" font-size="25.29" transform="translate(1846.67 488.22) scale(1.289 1)">6.0</text>
<text class="b" font-size="25.29" transform="translate(1901.58 488.22) scale(1.213 1)">10.0</text>
<text class="b" font-size="25.29" transform="translate(1963.64 488.22) scale(1.213 1)">14.0</text>
<text class="b" font-size="25.29" transform="translate(2025.7 488.22) scale(1.213 1)">18.0</text>
<text class="b" font-size="25.29" transform="translate(2087.77 488.22) scale(1.240 1)">22.0</text>
<text class="b" font-size="25.29" transform="translate(2149.83 488.22) scale(1.240 1)">26.0</text>
<text class="b" font-size="25.29" transform="translate(2212.06 488.22) scale(1.237 1)">30.0</text>
<clipPath id="rc1"><rect x="1802.9" y="521.7" width="485" height="457.9"/></clipPath>
<g stroke="#000" stroke-width="2.8" stroke-dasharray="3.9 6.1" fill="none">
<line x1="1839.3" y1="526.7" x2="1839.3" y2="978.1"/>
<line x1="1873.6" y1="526.7" x2="1873.6" y2="978.1"/>
<line x1="1908" y1="526.7" x2="1908" y2="978.1"/>
<line x1="1942.3" y1="524.7" x2="1942.3" y2="978.1" stroke-dasharray="none" stroke-width="2.6"/>
<line x1="1976.7" y1="526.7" x2="1976.7" y2="978.1"/>
<line x1="2011" y1="526.7" x2="2011" y2="978.1"/>
<line x1="2045.4" y1="526.7" x2="2045.4" y2="978.1"/>
<line x1="2079.8" y1="526.7" x2="2079.8" y2="978.1"/>
<line x1="2114.1" y1="526.7" x2="2114.1" y2="978.1"/>
<line x1="2148.5" y1="526.7" x2="2148.5" y2="978.1"/>
<line x1="2182.8" y1="526.7" x2="2182.8" y2="978.1"/>
<line x1="2217.2" y1="526.7" x2="2217.2" y2="978.1"/>
<line x1="2251.5" y1="526.7" x2="2251.5" y2="978.1"/>
<line x1="1806.9" y1="570" x2="2285.9" y2="570"/>
<line x1="1806.9" y1="615.4" x2="2285.9" y2="615.4"/>
<line x1="1806.9" y1="660.7" x2="2285.9" y2="660.7"/>
<line x1="1806.9" y1="706.1" x2="2285.9" y2="706.1"/>
<line x1="1806.9" y1="751.4" x2="2285.9" y2="751.4"/>
<line x1="1806.9" y1="796.7" x2="2285.9" y2="796.7"/>
<line x1="1806.9" y1="842.1" x2="2285.9" y2="842.1"/>
<line x1="1806.9" y1="887.4" x2="2285.9" y2="887.4"/>
<line x1="1806.9" y1="932.8" x2="2285.9" y2="932.8"/>
</g>
<g stroke="#000" stroke-width="2.9" fill="none">
<line x1="1839.3" y1="978.1" x2="1839.3" y2="972.1"/>
<line x1="1873.6" y1="978.1" x2="1873.6" y2="972.1"/>
<line x1="1908" y1="978.1" x2="1908" y2="972.1"/>
<line x1="1942.3" y1="978.1" x2="1942.3" y2="972.1"/>
<line x1="1976.7" y1="978.1" x2="1976.7" y2="972.1"/>
<line x1="2011" y1="978.1" x2="2011" y2="972.1"/>
<line x1="2045.4" y1="978.1" x2="2045.4" y2="972.1"/>
<line x1="2079.8" y1="978.1" x2="2079.8" y2="972.1"/>
<line x1="2114.1" y1="978.1" x2="2114.1" y2="972.1"/>
<line x1="2148.5" y1="978.1" x2="2148.5" y2="972.1"/>
<line x1="2182.8" y1="978.1" x2="2182.8" y2="972.1"/>
<line x1="2217.2" y1="978.1" x2="2217.2" y2="972.1"/>
<line x1="2251.5" y1="978.1" x2="2251.5" y2="972.1"/>
<line x1="1804.9" y1="570" x2="1811.9" y2="570"/>
<line x1="2285.9" y1="570" x2="2277.9" y2="570"/>
<line x1="1804.9" y1="615.4" x2="1811.9" y2="615.4"/>
<line x1="2285.9" y1="615.4" x2="2277.9" y2="615.4"/>
<line x1="1804.9" y1="660.7" x2="1811.9" y2="660.7"/>
<line x1="2285.9" y1="660.7" x2="2277.9" y2="660.7"/>
<line x1="1804.9" y1="706.1" x2="1811.9" y2="706.1"/>
<line x1="2285.9" y1="706.1" x2="2277.9" y2="706.1"/>
<line x1="1804.9" y1="751.4" x2="1811.9" y2="751.4"/>
<line x1="2285.9" y1="751.4" x2="2277.9" y2="751.4"/>
<line x1="1804.9" y1="796.7" x2="1811.9" y2="796.7"/>
<line x1="2285.9" y1="796.7" x2="2277.9" y2="796.7"/>
<line x1="1804.9" y1="842.1" x2="1811.9" y2="842.1"/>
<line x1="2285.9" y1="842.1" x2="2277.9" y2="842.1"/>
<line x1="1804.9" y1="887.4" x2="1811.9" y2="887.4"/>
<line x1="2285.9" y1="887.4" x2="2277.9" y2="887.4"/>
<line x1="1804.9" y1="932.8" x2="1811.9" y2="932.8"/>
<line x1="2285.9" y1="932.8" x2="2277.9" y2="932.8"/>
</g>
<g fill="none" stroke-width="8.7" stroke-linejoin="miter" stroke-linecap="butt" clip-path="url(#rc1)">
<polyline points="1995.1,530.3 1987.5,535.1 1994.5,542.1 1984.3,559 1983.6,576.6 2004.1,595.7 2047.1,613.9 2016.8,634 1997.7,650 1979.2,685.1 1954.6,795.2 1953,977.8" stroke="#000"/>
<polyline points="2012.7,523.9 1995.4,531.9 2004.7,539.9 1991.9,559 1994.5,575 2026.4,594.8 2038.5,613.3 2040.1,631.8 2011.1,650 2007.2,685.1 1962.6,795.2 1951.1,977.8" stroke="#f00"/>
<polyline points="1971.5,524.9 1972.1,531.9 1976.9,541.5 1977.9,559 1997.7,578.2 2022.6,594.8 2018.4,613.3 2016.2,630.9 2002.5,648.4 1996.1,685.1 1957.8,795.2 1954.6,977.8" stroke="#0f0"/>
</g>
<rect x="1804.9" y="524.7" width="481" height="453.4" fill="none" stroke="#000" stroke-width="3.1"/>
<text class="b" font-size="25.95" transform="translate(2086.64 907) scale(0.923 1)">RMS_DIFF</text>
<line x1="2220.5" y1="899.3" x2="2273" y2="899.3" stroke="#0f0" stroke-width="7.3"/>
<text class="b" font-size="25.95" transform="translate(2065.96 933.4) scale(0.866 1)">RAMA_STDV</text>
<line x1="2220.5" y1="925.5" x2="2273" y2="925.5" stroke="#f00" stroke-width="7.3"/>
<text class="b" font-size="25.95" transform="translate(2046.76 959.6) scale(0.868 1)">HYCOM_STDV</text>
<line x1="2220.5" y1="951.6" x2="2273" y2="951.6" stroke="#000" stroke-width="7.3"/>
<text class="b" font-size="25.29" transform="translate(1773.69 1010.92) scale(1.348 1)">−2.0</text>
<text class="b" font-size="25.29" transform="translate(1842.41 1010.92) scale(1.348 1)">−1.0</text>
<text class="b" font-size="25.29" transform="translate(1921.87 1010.92) scale(1.294 1)">0.0</text>
<text class="b" font-size="25.29" transform="translate(1989.75 1010.92) scale(1.305 1)">1.0</text>
<text class="b" font-size="25.29" transform="translate(2059.3 1010.92) scale(1.294 1)">2.0</text>
<text class="b" font-size="25.29" transform="translate(2128.18 1010.92) scale(1.289 1)">3.0</text>
<text class="b" font-size="25.29" transform="translate(2197.55 1010.92) scale(1.267 1)">4.0</text>
<text class="b" font-size="25.29" transform="translate(2265.44 1010.92) scale(1.294 1)">5.0</text>
<clipPath id="rc2"><rect x="1802.9" y="1042.5" width="485" height="457.8"/></clipPath>
<g stroke="#000" stroke-width="2.8" stroke-dasharray="3.9 6.1" fill="none">
<line x1="1853" y1="1047.5" x2="1853" y2="1498.8"/>
<line x1="1901.1" y1="1047.5" x2="1901.1" y2="1498.8"/>
<line x1="1949.2" y1="1047.5" x2="1949.2" y2="1498.8"/>
<line x1="1997.3" y1="1047.5" x2="1997.3" y2="1498.8"/>
<line x1="2045.4" y1="1047.5" x2="2045.4" y2="1498.8"/>
<line x1="2093.5" y1="1047.5" x2="2093.5" y2="1498.8"/>
<line x1="2141.6" y1="1047.5" x2="2141.6" y2="1498.8"/>
<line x1="2189.7" y1="1047.5" x2="2189.7" y2="1498.8"/>
<line x1="2237.8" y1="1047.5" x2="2237.8" y2="1498.8"/>
<line x1="1806.9" y1="1090.8" x2="2285.9" y2="1090.8"/>
<line x1="1806.9" y1="1136.2" x2="2285.9" y2="1136.2"/>
<line x1="1806.9" y1="1181.5" x2="2285.9" y2="1181.5"/>
<line x1="1806.9" y1="1226.8" x2="2285.9" y2="1226.8"/>
<line x1="1806.9" y1="1272.2" x2="2285.9" y2="1272.2"/>
<line x1="1806.9" y1="1317.5" x2="2285.9" y2="1317.5"/>
<line x1="1806.9" y1="1362.8" x2="2285.9" y2="1362.8"/>
<line x1="1806.9" y1="1408.1" x2="2285.9" y2="1408.1"/>
<line x1="1806.9" y1="1453.5" x2="2285.9" y2="1453.5"/>
</g>
<g stroke="#000" stroke-width="2.9" fill="none">
<line x1="1853" y1="1498.8" x2="1853" y2="1492.8"/>
<line x1="1901.1" y1="1498.8" x2="1901.1" y2="1492.8"/>
<line x1="1949.2" y1="1498.8" x2="1949.2" y2="1492.8"/>
<line x1="1997.3" y1="1498.8" x2="1997.3" y2="1492.8"/>
<line x1="2045.4" y1="1498.8" x2="2045.4" y2="1492.8"/>
<line x1="2093.5" y1="1498.8" x2="2093.5" y2="1492.8"/>
<line x1="2141.6" y1="1498.8" x2="2141.6" y2="1492.8"/>
<line x1="2189.7" y1="1498.8" x2="2189.7" y2="1492.8"/>
<line x1="2237.8" y1="1498.8" x2="2237.8" y2="1492.8"/>
<line x1="1804.9" y1="1090.8" x2="1811.9" y2="1090.8"/>
<line x1="2285.9" y1="1090.8" x2="2277.9" y2="1090.8"/>
<line x1="1804.9" y1="1136.2" x2="1811.9" y2="1136.2"/>
<line x1="2285.9" y1="1136.2" x2="2277.9" y2="1136.2"/>
<line x1="1804.9" y1="1181.5" x2="1811.9" y2="1181.5"/>
<line x1="2285.9" y1="1181.5" x2="2277.9" y2="1181.5"/>
<line x1="1804.9" y1="1226.8" x2="1811.9" y2="1226.8"/>
<line x1="2285.9" y1="1226.8" x2="2277.9" y2="1226.8"/>
<line x1="1804.9" y1="1272.2" x2="1811.9" y2="1272.2"/>
<line x1="2285.9" y1="1272.2" x2="2277.9" y2="1272.2"/>
<line x1="1804.9" y1="1317.5" x2="1811.9" y2="1317.5"/>
<line x1="2285.9" y1="1317.5" x2="2277.9" y2="1317.5"/>
<line x1="1804.9" y1="1362.8" x2="1811.9" y2="1362.8"/>
<line x1="2285.9" y1="1362.8" x2="2277.9" y2="1362.8"/>
<line x1="1804.9" y1="1408.1" x2="1811.9" y2="1408.1"/>
<line x1="2285.9" y1="1408.1" x2="2277.9" y2="1408.1"/>
<line x1="1804.9" y1="1453.5" x2="1811.9" y2="1453.5"/>
<line x1="2285.9" y1="1453.5" x2="2277.9" y2="1453.5"/>
</g>
<g fill="none" stroke-width="8.7" stroke-linejoin="miter" stroke-linecap="butt" clip-path="url(#rc2)">
<polyline points="2245,1044.9 2200.3,1055.7 2205.1,1062.1 2144.5,1080.6 1997.7,1098.2 2007.9,1116.7 2147.7,1134.3 2123.7,1153.4 2071.1,1170.6 2087,1207.7 2016.8,1316.8 1941.8,1498.7" stroke="#000"/>
</g>
<rect x="1804.9" y="1045.5" width="481" height="453.3" fill="none" stroke="#000" stroke-width="3.1"/>
<text class="b" font-size="26.26" transform="translate(2043.11 1480.3) scale(0.829 1)">CORRELATION</text>
<line x1="2220.5" y1="1472" x2="2273" y2="1472" stroke="#000" stroke-width="7.3"/>
<text class="b" font-size="25.29" transform="translate(1776.08 1531.72) scale(1.302 1)">0.00</text>
<text class="b" font-size="25.29" transform="translate(1872.28 1531.72) scale(1.302 1)">0.20</text>
<text class="b" font-size="25.29" transform="translate(1968.48 1531.72) scale(1.302 1)">0.40</text>
<text class="b" font-size="25.29" transform="translate(2064.68 1531.72) scale(1.302 1)">0.60</text>
<text class="b" font-size="25.29" transform="translate(2160.88 1531.72) scale(1.302 1)">0.80</text>
<text class="b" font-size="25.29" transform="translate(2255.7 1531.72) scale(1.334 1)">1.00</text>
</svg>
</body></html>
